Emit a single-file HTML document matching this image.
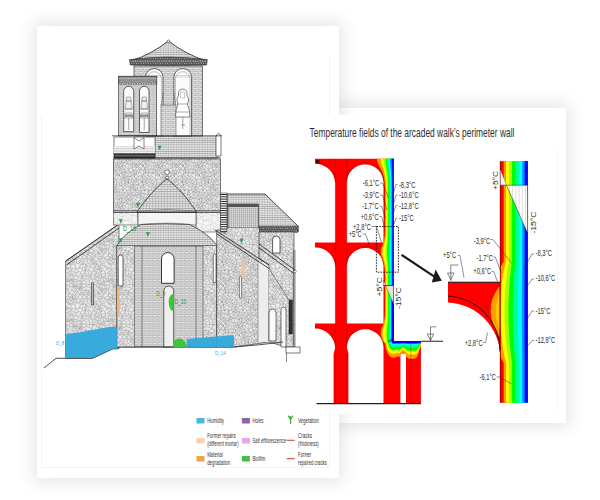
<!DOCTYPE html>
<html><head><meta charset="utf-8">
<style>
html,body{margin:0;padding:0;background:#fff;width:600px;height:500px;overflow:hidden;}
body{position:relative;font-family:"Liberation Sans",sans-serif;}
.pg{position:absolute;background:#fff;}
#rshadow{left:339px;top:108px;width:227px;height:315px;box-shadow:0 0 16px 4px rgba(0,0,0,0.10);}
#lpage{left:37px;top:26px;width:302px;height:452px;box-shadow:0 0 16px 4px rgba(0,0,0,0.10);}
#rpage{left:300px;top:115px;width:266px;height:299px;}
svg{position:absolute;left:0;top:0;font-family:"Liberation Sans",sans-serif;}
</style></head><body>
<div class="pg" id="rshadow"></div>
<div class="pg" id="lpage"></div>
<div class="pg" id="rpage"></div>
<svg width="600" height="500" viewBox="0 0 600 500">
<defs>
<pattern id="pStone1" patternUnits="userSpaceOnUse" width="40" height="40"><rect width="40" height="40" fill="#eaeaea"/><path d="M-0.8 -1.1L1.2 -1.7M-0.8 -1.1L-1.1 -1.0M-1.1 -1.0L-0.2 1.4M1.2 -1.7L1.9 -1.6M-0.2 1.4L1.3 2.0M1.3 2.0L1.9 -1.4M1.9 -1.6L1.9 -1.4M2.0 -1.6L3.7 -1.7M2.0 -1.6L1.9 -1.6M3.7 -1.7L4.6 -1.2M4.9 2.5L3.5 2.4M4.9 2.5L4.9 -0.3M3.5 2.4L1.9 -1.4M4.9 -0.3L4.6 -1.2M1.2 38.3L1.9 38.4M1.2 38.3L-0.8 38.9M1.9 38.6L1.3 42.0M1.9 38.6L1.9 38.4M-1.1 39.0L-0.8 38.9M-1.1 39.0L-0.2 41.4M1.3 42.0L-0.2 41.4M27.1 34.6L25.1 33.9M27.1 34.6L28.3 29.7M28.3 29.7L28.2 29.5M28.2 29.5L25.4 30.1M25.4 30.1L25.0 33.9M25.1 33.9L25.0 33.9M1.2 38.3L0.9 37.2M1.9 38.4L2.0 38.4M1.4 34.6L0.5 34.9M1.4 34.6L2.6 35.6M2.6 35.6L2.0 38.4M0.9 37.2L0.5 34.9M-0.8 38.9L-1.2 35.7M0.9 37.2L-1.2 35.7M0.5 34.9L-0.8 34.1M-1.2 35.7L-1.6 34.5M-0.8 34.1L-1.6 34.5M-2.1 39.1L-1.1 39.0M-2.1 34.6L-1.6 34.5M1.4 34.6L2.4 33.4M-0.4 32.0L-0.8 34.1M-0.4 32.0L1.5 32.8M2.4 33.4L1.5 32.8M-0.6 2.5L-2.8 2.3M-0.6 2.5L-0.2 1.4M-1.1 -1.0L-2.1 -0.9M21.3 16.1L19.8 16.0M21.3 16.1L20.5 19.9M18.1 16.8L19.8 16.0M18.1 16.8L19.2 19.8M20.5 19.9L19.2 19.8M11.0 4.4L12.1 3.6M11.0 4.4L11.9 6.4M12.1 3.6L15.0 5.3M11.9 6.4L14.7 5.8M14.7 5.8L15.0 5.3M11.9 6.4L12.0 7.7M12.0 7.7L15.1 6.8M14.7 5.8L15.1 6.8M8.0 -1.3L5.1 -1.3M4.6 -1.2L5.1 -1.3M10.4 1.1L8.4 0.8M10.4 1.1L10.8 0.2M10.8 0.2L8.5 -0.4M8.5 -0.4L8.4 0.8M4.9 -0.3L6.4 0.4M8.2 -1.2L8.2 -1.1M8.2 -1.2L8.0 -1.3M8.2 -1.1L6.4 0.4M19.9 9.2L19.0 12.2M19.9 9.2L20.8 8.4M20.9 8.6L20.7 12.6M20.9 8.6L20.8 8.4M20.7 12.6L19.0 12.2M20.8 8.4L20.8 8.4M16.5 10.5L19.9 9.2M16.5 10.5L18.7 12.4M18.7 12.4L19.0 12.2M25.1 26.8L27.8 24.8M25.1 26.8L25.1 29.8M28.2 29.5L28.7 26.1M25.1 29.8L25.4 30.1M27.8 24.8L28.2 25.1M28.7 26.1L28.2 25.1M35.8 11.5L35.5 10.1M35.8 11.5L32.6 12.6M35.5 10.1L33.9 9.6M33.9 9.6L32.6 12.6M33.7 26.7L33.0 25.8M33.7 26.7L33.7 27.0M30.8 26.9L33.0 25.8M30.8 26.9L32.0 29.4M33.7 27.0L32.0 29.4M39.2 15.9L35.9 19.9M39.2 15.9L39.2 15.5M39.2 15.5L35.7 15.2M35.7 15.2L34.8 19.0M35.9 19.9L34.8 19.0M36.0 20.1L40.4 19.6M36.0 20.1L35.9 19.9M40.6 17.1L40.4 19.6M40.6 17.1L39.2 15.9M20.1 -1.1L23.6 -2.1M20.1 -1.1L20.1 -0.3M20.1 -0.3L21.8 -0.2M21.8 -0.2L23.5 -1.2M23.5 -1.2L23.6 -2.1M20.0 -1.9L20.1 -1.1M18.6 1.1L21.1 4.2M18.6 1.1L19.6 0.5M19.6 0.5L21.4 2.3M21.4 2.3L21.7 4.3M21.7 4.3L21.1 4.2M18.0 1.3L18.6 1.1M18.0 1.3L15.7 -0.4M16.9 -3.0L15.6 -0.6M15.7 -0.4L15.6 -0.6M20.1 -0.3L19.6 0.5M23.0 1.1L23.0 1.5M23.0 1.1L21.8 -0.2M23.0 1.5L21.4 2.3M10.2 4.2L8.3 4.1M10.2 4.2L11.0 4.4M12.0 7.7L12.0 8.1M12.0 8.1L8.6 9.1M8.6 9.1L8.3 8.6M8.3 8.6L8.3 4.1M4.9 2.5L6.8 3.9M6.4 0.4L7.5 3.8M6.8 3.9L7.5 3.8M10.4 1.1L10.2 4.2M8.4 0.8L7.6 3.8M8.3 4.1L7.6 3.8M8.5 -0.4L8.2 -1.1M7.5 3.8L7.6 3.8M-0.8 15.9L-0.8 15.5M18.0 16.8L16.2 14.7M18.0 16.8L18.1 16.8M18.3 13.6L19.8 16.0M18.3 13.6L16.7 13.6M16.2 14.7L16.7 13.6M16.5 10.5L16.3 10.5M18.3 13.6L18.7 12.4M16.3 10.5L16.4 13.2M16.7 13.6L16.4 13.2M12.0 8.1L13.2 9.9M8.6 9.1L8.4 10.0M8.7 10.6L8.4 10.0M8.7 10.6L10.7 11.9M10.7 11.9L13.2 9.9M15.1 6.8L16.3 7.6M16.3 7.6L15.3 10.0M15.3 10.0L13.9 10.2M13.2 9.9L13.9 10.2M10.6 25.8L8.9 26.7M10.6 25.8L12.6 27.4M8.9 26.7L9.4 27.5M12.6 27.4L12.6 27.5M12.6 27.5L10.9 28.3M9.4 27.5L10.9 28.3M12.2 30.5L10.7 30.5M12.2 30.5L13.1 28.7M12.9 27.6L12.6 27.5M12.9 27.6L13.2 27.9M13.1 28.7L13.2 27.9M10.9 28.3L10.7 30.5M-3.3 21.6L-0.5 22.8M-3.3 23.2L-0.4 25.2M-0.5 22.8L-0.4 25.2M2.7 29.3L0.1 29.7M2.7 29.3L1.9 25.6M0.1 29.7L-1.3 28.6M1.9 25.6L1.3 25.3M-1.3 28.6L-1.5 27.2M-1.5 27.2L-0.2 25.5M1.3 25.3L-0.2 25.5M-0.4 25.2L-0.2 25.5M11.8 17.9L10.3 16.7M11.8 17.9L14.2 16.9M14.2 16.9L14.3 15.2M10.5 16.4L10.3 16.7M10.5 16.4L14.0 14.8M14.0 14.8L14.3 15.1M14.3 15.2L14.3 15.1M16.2 18.3L14.2 16.9M16.2 18.3L18.0 16.8M16.2 14.7L14.3 15.2M15.4 13.2L16.4 13.2M15.4 13.2L14.3 15.1M8.5 19.7L8.8 22.8M8.5 19.7L11.3 20.1M8.8 22.8L10.2 22.8M11.3 20.1L11.5 21.5M10.2 22.8L11.5 21.5M10.6 25.8L11.1 24.5M7.8 26.3L7.8 25.2M7.8 26.3L8.9 26.7M8.8 22.8L8.8 22.8M10.2 22.8L11.1 24.5M7.8 25.2L8.8 22.8M-2.0 5.2L-1.7 4.7M-2.1 4.4L-1.7 4.7M-0.4 31.8L-3.2 31.3M-0.4 31.8L-0.4 31.8M0.1 29.7L-0.4 31.8M-1.3 28.6L-2.5 29.2M2.7 29.3L2.9 29.3M-0.4 32.0L-0.4 31.8M1.5 32.8L2.9 29.3M4.5 36.2L3.4 34.9M4.5 36.2L5.5 34.5M5.5 34.5L4.0 33.0M3.4 34.9L3.6 33.2M3.6 33.2L3.9 32.9M4.0 33.0L3.9 32.9M2.6 35.6L3.4 34.9M2.4 33.4L3.6 33.2M2.9 29.3L3.4 29.5M3.4 29.5L3.9 32.9M-0.2 41.4L-0.6 42.5M-0.6 2.5L0.2 3.8M-1.3 4.8L0.0 4.2M-1.3 4.8L-1.7 4.7M0.2 3.8L0.0 4.2M1.3 2.0L1.7 3.0M0.2 3.8L1.7 3.0M3.5 2.4L2.2 3.0M1.7 3.0L2.2 3.0M15.6 -0.6L13.0 -1.6M8.8 -1.6L11.7 -0.2M8.8 -1.6L9.8 -2.2M9.8 -2.2L12.5 -1.2M12.5 -1.2L12.0 -0.2M11.7 -0.2L12.0 -0.2M10.8 0.2L11.7 -0.2M8.2 -1.2L8.8 -1.6M13.0 -1.6L12.5 -1.2M15.7 -0.4L13.9 2.3M13.9 2.3L12.7 2.8M12.7 2.8L12.0 -0.2M12.4 3.2L12.7 2.8M12.4 3.2L12.1 3.6M18.0 1.3L17.8 2.4M17.8 2.4L18.9 3.8M21.1 4.2L19.5 4.3M19.5 4.3L18.9 3.8M22.6 6.5L22.8 5.3M22.6 6.5L20.8 8.4M22.8 5.3L21.7 4.3M20.8 8.4L18.9 7.1M19.5 4.3L18.9 7.1M12.4 3.2L15.3 4.4M13.9 2.3L16.6 3.4M15.3 4.4L16.6 3.4M15.0 5.3L15.1 5.3M15.3 4.4L15.1 5.3M17.8 2.4L16.6 3.4M16.6 3.4L16.6 3.4M15.1 5.3L16.2 5.9M16.6 3.4L16.8 3.9M16.2 5.9L16.8 3.9M27.1 34.6L27.4 34.8M27.4 34.8L26.9 37.5M26.9 37.5L25.9 38.1M23.6 37.1L25.1 33.9M23.6 37.1L23.7 37.3M23.7 37.3L25.9 38.1M17.8 42.4L18.0 41.3M18.0 41.3L18.6 41.1M18.6 41.1L19.6 40.5M19.6 40.5L21.4 42.3M21.4 42.3L23.0 41.5M24.1 42.7L24.3 40.0M24.3 40.0L23.0 41.1M23.0 41.5L23.0 41.1M36.2 24.7L34.0 24.5M36.2 24.7L36.7 23.2M34.0 24.5L35.0 21.5M36.7 23.2L36.7 21.6M36.7 21.6L36.0 20.2M36.0 20.2L35.0 21.5M39.8 25.5L39.6 25.2M39.8 25.5L38.5 27.2M38.5 27.2L36.4 26.0M36.4 26.0L36.2 24.7M39.6 25.2L36.7 23.2M39.5 22.8L39.6 25.2M39.5 22.8L36.7 21.6M31.3 22.9L29.7 24.4M31.3 22.9L32.4 23.4M29.7 24.4L33.0 25.5M32.4 23.4L33.2 24.9M33.2 24.9L33.0 25.5M27.8 24.8L27.2 23.6M27.2 23.6L27.8 22.5M28.2 25.1L29.7 24.4M27.8 22.5L31.2 21.8M31.2 21.8L31.3 22.9M28.7 26.1L30.8 26.9M33.0 25.8L33.0 25.5M34.0 24.5L33.2 24.9M35.0 21.5L32.4 23.4M25.7 0.2L24.3 -0.0M25.7 0.2L25.8 0.3M25.8 0.3L25.2 3.6M24.3 -0.0L24.1 2.7M24.3 -0.0L24.3 -0.0M24.1 2.7L25.0 3.8M25.0 3.8L25.1 3.7M25.1 3.7L25.2 3.6M25.9 -1.9L25.7 0.2M23.5 -1.2L24.3 -0.0M26.9 -2.5L27.9 -1.4M28.3 0.3L25.8 0.3M28.3 0.3L28.4 0.2M27.9 -1.4L28.4 0.2M28.3 0.3L28.3 0.4M28.3 0.4L25.2 3.6M23.0 1.1L24.3 -0.0M23.0 1.5L24.1 2.7M22.8 5.3L25.0 3.8M18.0 41.3L15.7 39.6M15.7 39.6L13.9 42.3M21.2 21.3L20.5 19.9M21.2 21.3L21.3 22.5M19.2 19.8L18.5 20.1M18.5 20.1L18.0 21.9M18.0 21.9L19.1 24.1M19.1 24.1L21.3 22.5M24.3 22.3L22.5 22.8M24.3 22.3L25.5 22.3M27.0 23.6L25.5 22.3M27.0 23.6L23.4 25.1M22.5 22.8L23.4 25.1M24.3 22.3L23.6 19.9M21.2 21.3L22.6 20.2M23.6 19.9L22.6 20.2M22.5 22.8L21.3 22.5M24.6 33.8L22.6 34.0M24.6 33.8L21.6 31.0M21.6 31.0L21.3 33.4M22.6 34.0L21.3 33.4M17.5 21.6L18.0 21.9M17.5 21.6L16.0 21.7M16.0 21.7L15.4 22.9M19.1 24.1L18.9 24.4M18.9 24.4L17.6 24.8M15.4 22.9L16.6 24.8M17.6 24.8L16.6 24.8M33.7 26.7L35.9 26.3M33.7 27.0L35.0 28.7M35.0 28.7L35.9 26.3M36.4 26.0L36.1 26.2M35.9 26.3L36.1 26.2M34.8 19.0L32.1 16.1M34.8 19.0L31.2 20.2M32.1 16.1L30.1 18.9M31.2 20.2L30.1 19.7M30.1 18.9L30.1 19.7M36.0 20.1L36.0 20.2M34.8 19.0L34.8 19.0M31.2 21.8L31.2 20.2M29.4 16.3L30.1 18.9M29.4 16.3L31.7 15.6M31.7 15.6L32.1 16.1M40.4 19.6L41.5 20.3M39.5 22.8L41.5 22.0M41.5 22.0L41.9 20.6M41.5 20.3L41.9 20.6M28.3 0.4L28.4 1.3M25.1 3.7L26.1 4.1M26.1 4.1L28.4 1.3M32.6 -1.4L33.7 -1.7M-0.2 14.0L-0.6 14.8M-0.2 14.0L-3.0 12.7M-0.6 14.8L-3.2 13.8M-0.8 15.5L-0.6 14.8M1.7 16.8L0.6 17.1M1.7 16.8L2.6 17.3M2.6 17.3L1.5 20.3M0.6 17.1L0.4 19.6M0.4 19.6L1.5 20.3M-4.0 20.1L0.4 19.6M-0.8 15.9L0.6 17.1M13.8 14.6L14.3 12.6M13.8 14.6L12.4 13.9M12.4 13.9L13.9 10.3M14.3 12.6L13.9 10.3M15.4 13.2L14.3 12.6M14.0 14.8L13.8 14.6M11.3 13.9L10.5 16.4M11.3 13.9L12.4 13.9M10.7 11.9L10.6 12.8M13.9 10.2L13.9 10.3M11.3 13.9L10.6 12.8M16.3 10.5L15.3 10.0M15.8 20.5L13.8 21.7M15.8 20.5L16.2 19.4M16.2 19.4L16.2 18.7M14.0 19.8L13.7 21.6M14.0 19.8L16.2 18.6M16.2 18.6L16.2 18.7M13.7 21.6L13.8 21.7M16.0 21.7L15.8 20.5M15.4 22.9L14.2 22.2M14.2 22.2L13.8 21.7M17.5 21.6L16.2 19.4M18.5 20.1L16.2 18.7M11.8 18.5L11.3 20.1M11.8 18.5L14.0 19.8M11.5 21.5L11.7 21.6M11.7 21.6L13.7 21.6M16.2 18.3L16.2 18.6M11.8 18.5L11.8 17.9M8.5 19.7L8.3 19.6M10.3 16.7L8.4 16.7M8.3 19.6L8.1 17.6M8.4 16.7L8.1 17.6M3.7 19.6L2.9 17.3M3.7 19.6L3.1 20.4M2.9 17.3L2.6 17.3M1.5 20.3L1.9 20.6M3.1 20.4L1.9 20.6M-0.5 22.8L1.5 22.0M1.9 20.6L1.5 22.0M1.3 25.3L1.6 22.3M1.5 22.0L1.6 22.3M8.3 19.6L6.8 20.4M5.8 19.4L6.1 20.3M5.8 19.4L7.1 18.1M7.1 18.1L8.1 17.6M6.8 20.4L6.1 20.3M0.0 4.2L1.5 6.2M2.2 3.0L2.5 4.1M1.5 6.2L2.5 4.1M22.5 16.5L24.2 19.3M22.5 16.5L22.1 15.8M22.1 15.8L22.8 15.0M25.0 19.4L24.8 15.9M25.0 19.4L24.2 19.3M22.8 15.0L23.3 14.8M23.3 14.8L24.8 15.9M23.6 19.9L24.2 19.3M22.6 20.2L22.5 16.5M21.3 16.1L22.1 15.8M20.7 12.6L22.8 15.0M25.5 22.3L25.6 21.3M25.6 19.6L25.6 21.3M25.6 19.6L25.0 19.4M27.0 18.1L25.3 16.1M27.0 18.1L29.1 16.2M25.3 16.1L28.4 15.2M29.1 16.2L28.4 15.2M32.3 13.0L31.7 15.6M32.3 13.0L31.0 12.8M29.4 16.3L29.1 16.2M28.4 15.2L28.4 14.4M28.4 14.4L31.0 12.8M20.9 8.6L23.1 10.5M23.3 14.8L23.8 14.0M23.8 14.0L23.1 10.5M22.6 6.5L24.7 7.7M24.7 7.7L24.7 7.9M24.7 7.9L23.7 10.3M23.1 10.5L23.7 10.3M24.7 7.9L25.0 10.0M23.7 10.3L25.0 10.0M17.9 5.5L18.8 7.0M17.9 5.5L17.6 5.3M17.6 5.3L16.3 6.1M18.8 7.0L16.5 7.4M16.5 7.4L16.3 6.1M18.9 3.8L17.9 5.5M18.9 7.1L18.8 7.0M16.8 3.9L17.6 5.3M16.2 5.9L16.3 6.1M16.3 7.6L16.5 7.4M21.8 39.8L20.1 39.7M21.8 39.8L23.5 38.8M23.6 37.9L23.5 38.8M23.6 37.9L20.1 38.9M20.1 38.9L20.1 39.7M19.6 40.5L20.1 39.7M23.0 41.1L21.8 39.8M24.3 40.0L24.3 40.0M24.3 40.0L23.5 38.8M23.7 37.3L23.6 37.9M25.9 38.1L25.7 40.2M25.7 40.2L24.3 40.0M15.7 39.6L15.6 39.4M16.9 37.0L15.6 39.4M16.9 37.0L17.2 37.0M17.2 37.0L20.0 38.1M20.0 38.1L20.1 38.9M27.3 20.4L26.6 18.9M27.3 20.4L28.2 21.5M29.7 19.8L28.2 21.5M29.7 19.8L27.0 18.3M27.0 18.3L26.6 18.9M25.6 19.6L26.6 18.9M25.6 21.3L27.3 20.4M27.0 23.6L27.2 23.6M27.8 22.5L28.2 21.5M30.1 19.7L29.7 19.8M27.0 18.1L27.0 18.3M24.8 15.9L25.3 16.1M42.0 6.6L41.9 6.5M41.8 10.1L41.5 8.6M39.6 10.7L39.6 10.8M39.6 10.7L39.9 9.0M40.0 8.7L39.9 9.0M40.0 8.7L40.9 8.4M39.6 10.8L41.8 10.1M40.9 8.4L41.5 8.6M39.8 7.4L40.0 8.7M39.8 7.4L40.3 6.8M40.9 8.4L41.2 6.6M40.3 6.8L41.2 6.6M41.9 6.5L41.5 6.4M41.2 6.6L41.5 6.4M42.5 4.1L41.5 6.2M41.5 6.2L41.5 6.4M42.2 3.0L41.7 3.0M40.0 4.2L41.5 6.2M40.0 4.2L40.2 3.8M41.7 3.0L40.2 3.8M29.6 -0.1L29.5 -2.8M29.6 -0.1L31.4 -0.3M31.4 -0.3L31.9 -1.0M28.4 0.2L29.5 -0.1M29.5 -0.1L29.6 -0.1M32.6 -1.4L31.9 -1.0M1.9 38.6L3.5 42.4M25.1 29.8L24.3 29.7M25.0 33.9L24.6 33.8M21.6 31.0L21.4 30.2M24.3 29.7L21.4 30.2M12.9 27.6L14.0 25.1M13.2 27.9L13.5 27.8M16.4 24.9L15.1 27.2M16.4 24.9L14.1 25.0M13.5 27.8L15.1 27.2M14.0 25.1L14.1 25.0M14.2 22.2L13.2 24.0M16.6 24.8L16.4 24.9M14.1 25.0L13.2 24.0M11.7 21.6L13.1 24.0M11.1 24.5L11.6 24.5M11.6 24.5L13.1 24.0M13.1 24.0L13.2 24.0M15.4 34.2L14.4 36.4M15.4 34.2L15.5 34.1M16.4 36.3L14.4 36.4M16.4 36.3L16.1 35.0M15.5 34.1L16.1 35.0M20.5 33.4L20.9 33.4M20.5 33.4L18.5 32.6M20.9 33.4L20.0 30.4M18.5 32.6L18.4 32.5M18.4 32.5L18.8 30.9M18.8 30.9L20.0 30.4M20.9 33.4L21.1 33.5M21.1 33.5L21.3 33.4M21.4 30.2L20.8 29.9M20.0 30.4L20.8 29.9M25.7 40.2L25.8 40.3M25.8 40.3L25.2 43.6M35.0 28.7L35.0 28.8M36.1 26.2L35.8 28.8M35.0 28.8L35.8 28.8M31.6 36.5L29.7 36.2M31.6 36.5L32.6 38.6M31.9 39.0L32.6 38.6M31.9 39.0L29.7 36.8M29.7 36.8L29.7 36.2M33.7 34.5L33.6 34.4M33.7 34.5L33.7 38.3M33.6 34.4L31.6 36.5M33.7 38.3L32.6 38.6M28.3 29.7L28.7 29.9M27.4 34.8L28.2 34.8M28.7 29.9L28.2 34.8M26.9 37.5L27.9 38.6M29.5 37.2L27.9 38.6M29.5 37.2L29.7 36.8M29.7 36.2L29.0 34.8M28.2 34.8L29.0 34.8M40.9 37.2L41.2 38.3M40.9 37.2L38.8 35.7M41.2 38.3L39.2 38.9M38.8 35.7L39.2 38.9M41.9 38.6L41.9 38.4M41.9 38.6L41.3 42.0M41.9 38.4L41.2 38.3M41.3 42.0L39.8 41.4M38.9 39.0L39.8 41.4M38.9 39.0L39.2 38.9M39.8 41.4L39.4 42.5M36.8 13.8L37.0 12.7M36.8 13.8L35.6 15.0M34.0 13.4L35.6 15.0M34.0 13.4L36.3 12.3M36.3 12.3L36.9 12.4M36.9 12.4L37.0 12.7M39.4 14.8L36.8 13.8M39.4 14.8L39.8 14.0M39.8 14.0L37.0 12.7M39.2 15.5L39.4 14.8M35.7 15.2L35.6 15.0M32.5 12.8L32.3 13.0M32.5 12.8L34.0 13.4M35.8 11.5L36.3 12.3M32.5 12.8L32.5 12.8M32.6 12.6L32.5 12.8M35.5 10.1L37.6 9.8M37.6 9.8L38.3 10.5M38.3 10.5L36.9 12.4M38.3 10.5L39.6 10.7M39.8 14.0L40.4 13.4M40.4 13.4L39.6 10.8M40.4 13.4L41.8 13.6M41.6 22.3L41.3 25.3M41.9 25.6L41.3 25.3M41.5 22.0L41.6 22.3M39.8 25.5L41.3 25.3M35.8 -1.2L37.4 -1.2M35.0 -1.1L35.8 -1.2M35.0 -1.1L33.7 -1.7M24.7 7.7L25.6 7.8M25.7 10.2L25.0 10.0M25.7 10.2L26.8 9.6M25.6 7.8L26.8 9.6M29.5 -0.1L30.3 2.1M28.4 1.3L29.2 2.6M29.2 2.6L30.3 2.1M31.4 -0.3L32.2 2.0M30.3 2.1L32.2 2.0M35.0 -1.1L34.1 2.8M33.8 2.9L34.1 2.8M33.8 2.9L32.7 2.7M32.2 2.0L32.7 2.7M37.2 2.3L36.9 2.7M37.2 2.3L37.9 -0.9M37.9 -0.9L37.4 -1.2M34.1 2.8L35.1 3.1M36.9 2.7L35.1 3.1M8.7 10.6L8.1 11.9M10.6 12.8L9.6 13.2M8.1 11.9L9.6 13.2M4.4 9.2L2.8 10.2M4.4 9.2L5.7 10.8M5.6 12.3L5.7 10.8M5.6 12.3L2.9 12.2M2.9 12.2L2.8 10.2M0.4 13.4L1.8 13.6M0.4 13.4L-0.4 10.8M1.8 13.6L2.9 12.2M-0.4 10.8L1.8 10.1M1.8 10.1L2.8 10.2M9.4 27.5L8.8 30.3M10.7 30.5L10.4 30.6M10.4 30.6L8.8 30.3M13.5 31.9L12.2 30.5M13.5 31.9L13.2 32.3M13.2 32.3L11.3 32.6M11.3 32.6L10.5 31.5M10.4 30.6L10.5 31.5M8.4 16.7L8.2 16.5M9.6 13.2L8.1 14.2M8.2 16.5L8.1 14.2M8.1 11.9L7.3 13.2M8.1 14.2L7.3 13.2M8.4 10.0L5.7 10.8M5.6 12.3L5.7 12.7M7.3 13.2L5.7 12.7M3.8 17.0L4.2 19.2M3.8 17.0L5.0 17.5M5.0 17.5L5.1 18.2M5.1 18.2L4.7 19.0M4.7 19.0L4.2 19.2M3.7 19.6L4.2 19.2M3.6 16.9L3.8 17.0M3.6 16.9L2.9 17.3M5.8 19.4L4.7 19.0M7.1 18.1L5.1 18.2M3.1 20.4L4.8 21.5M6.1 20.3L4.8 21.5M5.8 27.7L7.8 26.3M5.8 27.7L4.9 26.0M7.8 25.2L6.2 24.3M6.2 24.3L4.9 26.0M1.9 25.6L3.8 24.9M1.6 22.3L4.1 23.9M4.1 23.9L3.8 24.9M5.8 27.7L5.4 28.6M5.4 28.6L3.4 29.5M4.9 26.0L3.8 24.9M7.6 22.5L5.8 23.8M7.6 22.5L7.1 22.2M7.1 22.2L5.0 22.0M5.0 22.0L4.7 23.4M5.8 23.8L4.7 23.4M8.8 22.8L7.6 22.5M6.2 24.3L5.8 23.8M6.8 20.4L7.1 22.2M4.8 21.5L5.0 22.0M4.1 23.9L4.7 23.4M1.5 6.2L1.5 6.4M3.1 4.6L2.5 4.1M3.1 4.6L1.9 6.5M1.5 6.4L1.9 6.5M27.7 13.8L28.8 11.3M27.7 13.8L25.2 13.3M25.5 12.7L25.2 13.3M25.5 12.7L28.5 10.7M28.5 10.7L28.8 11.3M28.4 14.4L27.7 13.8M31.0 12.8L28.8 11.3M23.8 14.0L25.2 13.3M25.7 10.2L25.5 12.7M28.4 9.8L26.8 9.6M28.4 9.8L28.5 10.7M18.7 34.8L18.7 35.1M18.7 34.8L19.9 34.7M18.7 35.1L20.7 36.9M19.9 34.7L20.7 35.3M20.7 35.3L21.1 36.2M21.1 36.2L21.1 36.6M21.1 36.6L20.7 36.9M16.4 36.3L16.9 37.0M17.2 37.0L18.7 35.1M18.4 34.2L16.1 35.0M18.4 34.2L18.7 34.8M20.5 33.4L19.9 34.7M18.5 32.6L18.4 34.2M20.0 38.1L20.7 36.9M21.1 33.5L20.7 35.3M22.6 34.0L21.1 36.2M23.6 37.1L21.1 36.6M39.8 1.4L41.3 2.0M39.8 1.4L38.9 -1.0M41.3 2.0L41.9 -1.4M39.2 -1.1L38.9 -1.0M39.2 -1.1L41.2 -1.7M41.2 -1.7L41.9 -1.6M41.9 -1.6L41.9 -1.4M39.4 2.5L40.2 3.8M39.4 2.5L39.8 1.4M41.7 3.0L41.3 2.0M37.2 2.3L39.4 2.5M37.9 -0.9L38.9 -1.0M42.0 -1.6L41.9 -1.6M18.9 24.4L19.7 25.4M23.4 25.1L23.4 25.1M19.7 25.4L23.4 25.1M17.6 24.8L17.4 28.5M17.4 28.5L20.6 27.7M20.6 27.7L20.7 27.2M19.7 25.4L20.7 27.2M12.5 26.4L13.3 25.3M12.5 26.4L12.4 25.4M12.4 25.4L13.3 25.3M12.6 27.4L12.5 26.4M14.0 25.1L13.3 25.3M11.6 24.5L12.4 25.4M18.4 32.5L16.9 32.8M15.5 34.1L15.6 33.6M15.6 33.6L16.9 32.8M15.1 27.2L16.1 28.5M17.4 28.5L17.3 28.6M16.1 28.5L17.3 28.6M18.8 30.9L17.8 30.2M20.6 27.7L20.8 29.9M17.3 28.6L17.8 30.2M28.4 41.3L28.3 40.4M25.8 40.3L28.3 40.3M28.3 40.4L28.3 40.3M27.9 38.6L28.4 40.2M28.4 40.2L28.3 40.3M34.1 42.8L35.0 38.9M37.2 42.3L37.9 39.1M37.9 39.1L37.4 38.8M37.4 38.8L35.8 38.8M35.0 38.9L35.8 38.8M38.9 39.0L37.9 39.1M38.4 34.5L37.9 34.6M38.4 34.5L38.8 35.7M37.9 34.6L37.2 35.7M37.2 35.7L37.4 38.8M35.4 35.6L37.2 35.7M35.4 35.6L35.8 38.8M33.7 34.5L35.4 35.6M33.7 38.3L35.0 38.9M33.6 34.4L33.3 33.2M37.9 34.6L35.9 33.0M35.9 33.0L33.3 33.2M35.0 28.8L33.2 31.0M36.5 29.1L35.8 28.8M36.5 29.1L35.4 30.6M35.4 30.6L33.2 31.0M38.5 27.2L38.7 28.6M42.7 29.3L40.1 29.7M40.1 29.7L38.7 28.6M36.5 29.1L37.5 29.2M35.4 30.6L36.7 30.9M36.7 30.9L37.5 29.2M38.7 28.6L37.5 29.2M39.2 34.1L39.6 32.0M39.2 34.1L40.5 34.9M39.6 32.0L41.5 32.8M40.5 34.9L41.4 34.6M41.4 34.6L42.4 33.4M42.4 33.4L41.5 32.8M38.4 34.5L39.2 34.1M40.9 37.2L40.5 34.9M41.9 38.4L42.0 38.4M42.6 35.6L41.4 34.6M40.6 17.1L41.7 16.8M29.2 2.6L29.1 5.2M32.7 2.7L29.9 5.3M29.1 5.2L29.9 5.3M32.5 12.8L30.3 9.2M28.4 9.8L28.4 9.7M28.4 9.7L30.3 9.2M33.8 9.3L33.9 9.6M33.8 9.3L31.0 8.5M31.0 8.5L30.3 9.2M40.0 4.2L38.7 4.8M40.3 6.8L39.1 5.7M38.7 4.8L39.1 5.7M39.8 7.4L38.6 7.4M39.1 5.7L38.6 7.4M39.9 9.0L38.1 7.6M38.6 7.4L38.1 7.6M33.8 9.3L34.2 7.9M30.8 6.1L31.0 8.5M30.8 6.1L33.4 6.3M34.2 7.9L33.4 6.3M33.8 2.9L33.4 6.3M29.9 5.3L30.8 6.1M33.4 6.3L33.4 6.3M-2.0 5.2L-2.0 7.6M0.4 13.4L-0.2 14.0M-0.4 10.8L-0.4 10.7M-1.7 10.5L-0.4 10.7M5.3 32.6L7.8 32.8M5.3 32.6L7.0 30.1M7.8 32.8L7.9 30.6M7.0 30.1L7.9 30.6M5.4 28.6L7.0 30.1M4.0 33.0L5.3 32.6M8.8 30.3L7.9 30.6M8.2 16.5L7.8 16.4M5.0 17.5L5.9 16.6M5.9 16.6L7.8 16.4M3.7 16.6L4.8 16.0M3.7 16.6L3.6 16.9M5.9 16.6L4.8 16.0M5.7 12.7L5.2 14.5M5.7 12.7L2.5 14.2M2.9 14.7L4.9 14.8M2.9 14.7L2.5 14.4M4.9 14.8L5.2 14.5M2.5 14.2L2.5 14.4M5.7 12.7L5.7 12.7M7.8 16.4L5.2 14.5M1.8 13.6L2.5 14.2M3.7 16.6L2.9 14.7M4.8 16.0L4.9 14.8M1.7 16.8L2.5 14.4M15.6 39.4L13.0 38.4M14.4 36.4L13.0 36.6M13.0 38.4L13.0 36.6M15.4 34.2L12.4 35.3M13.0 36.6L12.4 35.3M13.5 31.9L13.9 31.8M13.2 32.3L12.3 35.2M15.6 33.6L13.9 31.8M12.4 35.3L12.3 35.2M10.9 33.8L9.7 32.9M10.9 33.8L10.9 33.8M10.9 33.8L8.4 35.0M9.7 32.9L8.0 33.3M8.0 33.3L7.8 34.8M7.8 34.8L8.4 35.0M11.3 32.6L10.9 33.8M10.5 31.5L9.7 32.9M12.3 35.2L12.3 35.2M12.3 35.2L10.9 33.8M10.0 36.1L12.3 35.2M10.0 36.1L8.4 35.0M7.8 32.8L8.0 33.3M5.5 34.5L7.6 34.9M7.6 34.9L7.8 34.8M2.0 38.4L3.7 38.3M4.5 36.2L4.5 36.8M4.5 36.8L3.7 38.3M7.6 34.9L7.2 36.1M7.2 36.1L7.0 36.2M4.5 36.8L7.0 36.2M2.0 6.6L2.5 7.6M2.0 6.6L4.5 5.5M2.5 7.6L4.4 9.0M4.5 5.5L5.5 5.5M5.5 5.5L5.3 7.7M5.3 7.7L4.4 9.0M3.1 4.6L4.5 5.5M1.9 6.5L2.0 6.6M1.8 10.1L1.5 8.6M4.4 9.2L4.4 9.0M1.5 8.6L2.5 7.6M6.8 3.9L5.5 5.5M8.3 8.6L5.3 7.7M-1.3 4.8L-0.9 5.7M-0.9 5.7L0.3 6.8M1.5 6.4L1.2 6.6M0.3 6.8L1.2 6.6M1.5 8.6L0.9 8.4M1.2 6.6L0.9 8.4M23.1 27.9L20.9 27.2M23.1 27.9L24.1 26.4M20.9 27.2L23.5 26.0M24.1 26.4L23.5 26.0M24.3 29.7L23.1 27.9M20.7 27.2L20.9 27.2M25.1 26.8L24.1 26.4M23.4 25.1L23.5 26.0M14.9 29.2L15.8 28.9M14.9 29.2L14.7 30.5M15.8 28.9L15.9 30.6M14.7 30.5L14.8 30.9M14.8 30.9L15.6 30.8M15.6 30.8L15.9 30.6M13.5 27.8L14.9 29.2M16.1 28.5L15.8 28.9M13.1 28.7L14.7 30.5M17.8 30.2L15.9 30.6M13.9 31.8L14.8 30.9M16.9 32.8L15.6 30.8M28.4 41.3L29.2 42.6M29.1 34.8L29.4 30.2M29.1 34.8L33.0 32.8M33.0 32.8L32.7 31.4M32.7 31.4L32.0 30.6M32.0 30.6L29.4 30.2M28.7 29.9L29.4 30.2M29.0 34.8L29.1 34.8M33.3 33.2L33.0 32.8M32.0 29.4L32.0 30.6M33.2 31.0L32.7 31.4M39.6 31.8L36.0 32.9M39.6 31.8L39.6 31.8M39.6 31.8L36.8 31.3M36.0 32.9L36.8 31.3M35.9 33.0L36.0 32.9M39.6 32.0L39.6 31.8M40.1 29.7L39.6 31.8M36.7 30.9L36.8 31.3M26.2 4.2L28.7 5.3M26.2 4.2L25.7 7.6M28.7 5.3L28.1 6.7M25.7 7.6L28.1 6.7M26.1 4.1L26.2 4.2M29.1 5.2L28.7 5.3M25.6 7.8L25.7 7.6M28.4 9.7L28.1 6.7M36.9 2.7L37.9 4.4M35.1 3.1L35.7 5.2M37.9 4.4L35.7 5.2M38.7 4.8L38.3 4.7M37.9 4.4L38.3 4.7M33.4 6.3L35.7 5.3M35.7 5.2L35.7 5.3M-1.4 7.4L-0.2 7.4M-1.4 7.4L-1.9 7.6M-1.9 7.6L-0.1 9.0M-0.2 7.4L0.0 8.7M-0.1 9.0L0.0 8.7M-0.9 5.7L-1.4 7.4M0.3 6.8L-0.2 7.4M-2.0 7.6L-1.9 7.6M-0.4 10.7L-0.1 9.0M0.9 8.4L0.0 8.7M8.0 38.7L5.1 38.7M8.0 38.7L8.2 38.8M8.2 38.8L8.2 38.9M8.2 38.9L6.4 40.4M6.4 40.4L4.9 39.7M4.9 39.7L4.6 38.8M4.6 38.8L5.1 38.7M7.2 36.1L8.0 38.7M7.0 36.2L5.1 38.7M4.9 42.5L4.9 39.7M3.7 38.3L4.6 38.8M32.2 42.0L31.4 39.7M30.3 42.1L29.5 39.9M31.4 39.7L29.6 39.9M29.6 39.9L29.5 39.9M31.9 39.0L31.4 39.7M28.4 40.2L29.5 39.9M29.5 37.2L29.6 39.9M38.0 5.2L36.3 6.2M38.0 5.2L38.0 7.6M37.5 8.0L38.0 7.6M37.5 8.0L36.2 7.2M36.2 7.2L36.3 6.2M38.3 4.7L38.0 5.2M35.7 5.3L36.3 6.2M38.1 7.6L38.0 7.6M37.6 9.8L37.5 8.0M34.2 7.9L36.2 7.2M8.4 40.8L8.5 39.6M8.4 40.8L10.4 41.1M8.5 39.6L10.8 40.2M10.4 41.1L10.8 40.2M8.2 38.9L8.5 39.6M9.8 37.8L12.5 38.8M9.8 37.8L8.8 38.4M8.8 38.4L11.7 39.8M12.5 38.8L12.0 39.8M12.0 39.8L11.7 39.8M10.0 36.1L9.8 37.8M13.0 38.4L12.5 38.8M8.2 38.8L8.8 38.4M10.8 40.2L11.7 39.8M12.7 42.8L12.0 39.8" stroke="#767676" stroke-width="0.34" fill="none"/><g fill="#767676"><rect x="29.7" y="39.6" width="0.9" height="0.9"/><rect x="30.1" y="36.6" width="0.9" height="0.9"/><rect x="22.1" y="5.8" width="0.8" height="0.8"/><rect x="15.8" y="12.5" width="0.7" height="0.7"/><rect x="1.4" y="0.7" width="0.5" height="0.5"/><rect x="23.8" y="30.0" width="0.9" height="0.9"/><rect x="32.7" y="37.6" width="0.7" height="0.7"/><rect x="29.4" y="23.5" width="0.4" height="0.4"/><rect x="2.5" y="30.4" width="0.5" height="0.5"/><rect x="31.6" y="18.6" width="0.4" height="0.4"/><rect x="22.5" y="17.7" width="0.4" height="0.4"/><rect x="10.4" y="12.3" width="0.6" height="0.6"/><rect x="28.3" y="6.7" width="0.6" height="0.6"/><rect x="24.3" y="37.9" width="0.5" height="0.5"/><rect x="3.2" y="7.7" width="0.5" height="0.5"/><rect x="6.5" y="3.0" width="0.5" height="0.5"/><rect x="8.9" y="19.2" width="0.7" height="0.7"/><rect x="14.6" y="6.7" width="0.4" height="0.4"/><rect x="10.5" y="6.8" width="0.6" height="0.6"/><rect x="34.8" y="28.7" width="0.5" height="0.5"/><rect x="1.4" y="2.7" width="0.6" height="0.6"/><rect x="14.5" y="27.3" width="0.4" height="0.4"/><rect x="10.2" y="27.4" width="0.7" height="0.7"/><rect x="20.7" y="36.1" width="0.5" height="0.5"/><rect x="7.8" y="22.6" width="0.7" height="0.7"/><rect x="39.2" y="39.1" width="0.7" height="0.7"/><rect x="30.4" y="27.9" width="0.5" height="0.5"/><rect x="24.1" y="12.2" width="0.6" height="0.6"/><rect x="6.3" y="0.3" width="0.8" height="0.8"/><rect x="28.7" y="30.1" width="0.5" height="0.5"/><rect x="16.7" y="7.0" width="0.7" height="0.7"/><rect x="33.6" y="31.2" width="0.9" height="0.9"/><rect x="10.4" y="28.1" width="0.5" height="0.5"/><rect x="21.5" y="4.4" width="0.7" height="0.7"/><rect x="21.7" y="13.9" width="0.6" height="0.6"/><rect x="28.4" y="19.2" width="0.6" height="0.6"/><rect x="4.5" y="11.3" width="0.8" height="0.8"/><rect x="38.9" y="14.9" width="0.8" height="0.8"/><rect x="34.9" y="8.7" width="0.5" height="0.5"/><rect x="27.8" y="12.2" width="0.9" height="0.9"/><rect x="14.6" y="29.2" width="0.8" height="0.8"/><rect x="8.5" y="34.6" width="0.6" height="0.6"/><rect x="4.4" y="2.0" width="0.6" height="0.6"/><rect x="25.3" y="10.9" width="0.8" height="0.8"/><rect x="10.7" y="33.9" width="0.4" height="0.4"/><rect x="10.5" y="6.4" width="0.6" height="0.6"/><rect x="14.0" y="15.8" width="0.8" height="0.8"/><rect x="23.2" y="24.2" width="0.6" height="0.6"/><rect x="32.3" y="20.1" width="0.8" height="0.8"/><rect x="36.6" y="24.5" width="0.6" height="0.6"/><rect x="10.5" y="36.5" width="0.8" height="0.8"/><rect x="32.0" y="8.9" width="0.6" height="0.6"/><rect x="35.3" y="9.8" width="0.8" height="0.8"/><rect x="21.5" y="8.8" width="0.6" height="0.6"/><rect x="3.0" y="26.9" width="0.8" height="0.8"/><rect x="1.2" y="12.1" width="0.8" height="0.8"/><rect x="8.0" y="21.5" width="0.8" height="0.8"/><rect x="22.8" y="4.9" width="0.9" height="0.9"/><rect x="29.9" y="22.6" width="0.6" height="0.6"/><rect x="23.3" y="15.7" width="0.5" height="0.5"/><rect x="4.9" y="1.8" width="0.5" height="0.5"/><rect x="9.8" y="25.4" width="0.7" height="0.7"/><rect x="23.6" y="32.9" width="0.4" height="0.4"/><rect x="15.6" y="3.2" width="0.6" height="0.6"/><rect x="3.2" y="2.7" width="0.5" height="0.5"/><rect x="15.6" y="30.5" width="0.5" height="0.5"/><rect x="29.7" y="9.3" width="0.5" height="0.5"/><rect x="18.9" y="3.0" width="0.6" height="0.6"/><rect x="23.3" y="33.0" width="0.4" height="0.4"/><rect x="32.0" y="22.8" width="0.7" height="0.7"/><rect x="2.0" y="35.2" width="0.5" height="0.5"/><rect x="21.9" y="21.5" width="0.9" height="0.9"/><rect x="24.1" y="39.7" width="0.5" height="0.5"/><rect x="26.5" y="23.1" width="0.7" height="0.7"/><rect x="25.1" y="22.0" width="0.6" height="0.6"/><rect x="25.7" y="3.3" width="0.6" height="0.6"/><rect x="18.1" y="8.5" width="0.7" height="0.7"/><rect x="26.8" y="5.0" width="0.5" height="0.5"/><rect x="2.5" y="23.9" width="0.4" height="0.4"/><rect x="9.2" y="17.9" width="0.6" height="0.6"/><rect x="1.3" y="37.9" width="0.5" height="0.5"/><rect x="24.4" y="8.9" width="0.7" height="0.7"/><rect x="14.1" y="12.7" width="0.6" height="0.6"/><rect x="23.5" y="23.9" width="0.7" height="0.7"/><rect x="10.7" y="3.7" width="0.5" height="0.5"/><rect x="13.1" y="24.3" width="0.6" height="0.6"/><rect x="12.5" y="3.9" width="0.7" height="0.7"/><rect x="4.4" y="20.7" width="0.7" height="0.7"/><rect x="24.9" y="6.4" width="0.6" height="0.6"/><rect x="37.6" y="3.6" width="0.7" height="0.7"/><rect x="17.5" y="24.5" width="0.6" height="0.6"/><rect x="5.0" y="22.5" width="0.4" height="0.4"/><rect x="34.6" y="31.9" width="0.6" height="0.6"/><rect x="21.5" y="21.1" width="0.9" height="0.9"/><rect x="1.7" y="11.9" width="0.6" height="0.6"/><rect x="31.5" y="29.2" width="0.6" height="0.6"/><rect x="0.5" y="25.9" width="0.6" height="0.6"/><rect x="4.7" y="25.2" width="0.6" height="0.6"/><rect x="12.3" y="10.8" width="0.7" height="0.7"/><rect x="9.9" y="15.7" width="0.9" height="0.9"/></g></pattern><pattern id="pStone2" patternUnits="userSpaceOnUse" width="40" height="40"><rect width="40" height="40" fill="#ebebeb"/><path d="M35.1 24.4L35.5 28.0M35.1 24.4L35.9 23.5M35.5 28.0L36.1 28.6M36.5 28.8L39.8 27.2M36.5 28.8L36.1 28.6M39.8 27.2L40.3 24.7M40.3 24.7L37.9 23.1M35.9 23.5L36.6 23.2M37.9 23.1L36.6 23.2M14.8 36.9L12.3 39.7M14.8 36.9L14.9 39.7M14.9 39.7L12.5 39.9M12.3 39.7L12.5 39.9M22.4 21.4L24.3 23.4M22.4 21.4L24.8 19.5M24.8 19.5L25.9 21.4M25.9 21.4L24.3 23.4M38.6 31.5L40.4 32.2M38.6 31.5L36.5 28.8M40.4 32.2L42.6 30.6M39.8 27.2L42.2 29.3M43.3 24.2L40.3 24.7M37.2 18.9L36.7 19.6M37.2 18.9L35.6 17.7M35.6 17.7L34.4 18.2M36.7 19.6L34.4 18.2M35.6 17.7L36.6 16.0M36.6 16.0L35.9 14.8M34.4 18.2L34.0 18.2M34.0 18.2L34.5 15.2M34.5 15.2L35.9 14.8M9.6 35.9L8.2 36.9M9.6 35.9L11.4 38.3M8.2 36.9L9.2 37.9M9.2 37.9L11.2 39.0M11.4 38.3L11.2 38.9M11.2 38.9L11.2 39.0M8.6 33.7L11.0 34.4M8.6 33.7L7.6 35.1M7.6 35.1L9.7 35.4M11.0 34.4L9.7 35.4M6.5 36.0L7.6 35.1M6.5 36.0L8.2 36.9M9.6 35.9L9.7 35.4M9.1 28.6L8.6 30.5M9.1 28.6L6.9 26.7M6.9 26.7L5.3 31.0M8.6 30.5L8.0 30.8M8.0 30.8L5.3 31.0M10.7 27.2L5.8 24.5M10.7 27.2L9.1 28.6M5.8 24.5L5.9 25.1M5.9 25.1L6.9 26.7M5.2 31.5L6.1 36.0M5.2 31.5L5.2 31.1M6.5 36.0L6.1 36.0M5.2 31.1L5.3 31.0M6.1 36.0L6.1 36.0M8.6 33.7L8.0 30.8M5.2 31.1L4.7 30.9M5.9 25.1L5.2 27.1M4.7 30.9L5.2 27.1M-0.2 27.2L2.2 29.3M-0.2 27.2L0.3 24.7M3.3 24.2L0.3 24.7M3.3 24.2L2.6 28.1M2.6 28.1L2.2 29.3M-1.4 31.5L0.4 32.2M-3.5 28.8L-0.2 27.2M0.4 32.2L2.6 30.6M2.6 30.6L2.2 29.3M2.6 30.6L4.7 30.9M5.2 27.1L2.6 28.1M6.1 36.0L5.5 38.8M9.2 37.9L7.5 38.9M5.5 38.8L7.5 38.9M11.2 39.0L9.3 40.5M7.5 38.9L9.3 40.5M2.9 38.6L3.6 35.8M2.9 38.6L2.1 35.3M3.6 35.8L2.9 35.5M2.1 35.3L2.9 35.5M2.9 38.7L4.8 40.1M2.9 38.7L2.9 38.6M6.1 36.0L3.6 35.8M5.5 38.8L4.8 40.1M5.2 31.5L2.9 35.5M12.3 39.7L11.2 38.9M12.5 39.9L12.8 43.0M9.1 40.7L9.3 40.5M9.1 40.7L9.9 42.3M31.8 10.3L29.0 13.4M31.8 10.3L31.7 10.2M29.0 13.4L28.4 10.6M31.7 10.2L29.5 7.6M29.5 7.6L28.5 8.7M28.4 10.6L28.5 8.7M33.3 4.0L32.4 7.0M33.3 4.0L33.9 5.2M33.9 5.2L33.5 7.5M32.4 7.0L33.3 7.6M33.3 7.6L33.5 7.5M31.7 10.2L33.3 7.6M29.5 7.6L29.5 6.3M29.5 6.3L32.4 7.0M23.7 16.6L20.7 18.6M23.7 16.6L24.7 17.7M24.7 18.0L24.7 17.7M24.7 18.0L20.4 19.6M20.4 19.6L20.7 18.6M23.2 15.9L21.1 16.5M23.2 15.9L23.7 16.6M21.1 16.5L20.7 18.6M28.4 15.7L24.7 17.7M28.4 15.7L28.6 13.7M25.6 12.4L28.6 13.7M25.6 12.4L25.2 12.5M25.2 12.5L23.6 13.5M23.2 15.9L23.2 14.2M23.2 14.2L23.6 13.5M28.4 15.7L28.4 15.7M28.4 15.7L28.2 19.5M24.9 18.9L28.2 19.5M24.9 18.9L24.7 18.0M16.8 11.4L14.0 10.4M16.8 11.4L18.9 8.0M14.0 10.4L16.5 6.7M16.5 6.7L18.9 8.0M28.8 24.1L26.1 26.8M28.8 24.1L30.8 24.7M30.8 24.7L31.1 27.8M31.1 27.8L26.5 27.7M26.5 27.7L26.1 26.8M33.2 24.1L30.8 24.7M33.2 24.1L35.1 24.4M35.5 28.0L32.1 29.2M32.1 29.2L31.1 27.8M31.6 29.9L32.1 29.2M31.6 29.9L26.6 28.2M26.6 28.2L26.5 27.7M26.6 28.2L26.5 28.8M22.3 30.5L22.3 28.6M22.3 30.5L24.9 31.5M22.3 28.6L25.4 26.6M25.4 26.6L26.1 26.8M24.9 31.5L26.5 28.8M18.1 17.2L20.3 16.2M18.1 17.2L18.2 12.9M20.3 16.2L19.8 13.7M19.8 13.7L19.2 13.2M18.2 12.9L19.2 13.2M17.9 12.6L18.2 12.9M17.9 12.6L17.9 12.6M17.9 12.6L16.3 14.3M16.3 14.3L15.2 16.5M15.2 16.5L15.7 17.4M15.7 17.4L17.6 18.0M17.6 18.0L18.1 17.2M21.1 16.5L20.3 16.2M23.2 14.2L19.8 13.7M23.6 13.5L22.1 11.9M21.6 11.7L22.1 11.9M21.6 11.7L19.2 13.2M7.8 19.2L10.0 17.9M7.8 19.2L7.6 19.2M10.0 17.9L10.6 16.0M8.6 14.9L10.5 15.8M8.6 14.9L7.0 18.7M7.0 18.7L7.6 19.2M10.6 16.0L10.5 15.8M11.4 38.3L12.4 35.0M11.0 34.4L11.7 34.3M12.4 35.0L11.7 34.3M8.6 30.5L11.7 31.8M11.7 34.3L11.7 31.8M12.6 17.3L14.4 18.9M12.6 17.3L12.2 18.5M14.4 18.9L14.0 19.6M14.0 19.6L12.2 18.5M22.3 30.5L20.5 31.7M20.5 31.7L20.0 31.4M22.3 28.6L21.4 28.1M20.0 31.4L19.5 30.8M19.5 30.8L21.3 28.2M21.4 28.1L21.3 28.2M19.5 30.8L17.7 29.5M18.4 28.5L21.3 28.2M18.4 28.5L18.1 28.8M18.1 28.8L17.7 29.5M33.5 18.7L33.7 19.3M33.5 18.7L30.5 20.2M32.0 21.4L30.7 20.9M32.0 21.4L33.7 19.6M33.7 19.6L33.7 19.3M30.7 20.9L30.5 20.2M33.5 18.6L34.0 18.2M33.5 18.6L33.5 18.7M36.7 19.6L36.7 19.8M36.7 19.8L33.7 19.3M32.2 17.5L30.4 17.3M32.2 17.5L33.5 18.6M30.4 17.3L30.1 19.8M30.1 19.8L30.5 20.2M33.2 24.1L32.0 21.4M28.8 24.1L28.8 23.8M28.8 23.8L30.7 20.9M35.9 23.5L33.7 19.6M36.6 23.2L36.7 19.8M37.2 18.9L38.6 18.2M36.6 16.0L38.2 16.8M38.6 18.2L38.2 16.8M33.9 5.2L35.0 5.8M33.5 7.5L35.2 8.0M35.0 5.8L35.4 7.7M35.4 7.7L35.2 8.0M31.8 10.3L32.6 10.6M32.6 10.6L34.4 9.9M34.4 9.9L35.2 8.1M35.2 8.1L35.2 8.0M35.9 14.8L35.9 14.8M35.9 14.8L38.6 13.4M38.2 16.8L40.1 14.6M40.1 14.6L40.1 14.2M40.1 14.2L38.6 13.4M42.4 18.0L40.1 14.6M41.6 14.4L40.5 13.9M40.1 14.2L40.5 13.9M37.9 -3.4L37.7 0.1M34.4 -0.9L37.7 0.1M36.2 4.6L36.0 5.5M36.2 4.6L35.2 3.8M33.3 4.0L33.3 4.0M36.0 5.5L35.0 5.8M33.3 4.0L35.2 3.8M41.4 -1.4L41.5 -1.5M41.2 1.2L39.9 0.3M41.4 -1.4L39.9 0.3M32.3 17.2L32.2 15.3M32.3 17.2L34.0 15.0M34.0 15.0L32.8 14.2M32.2 15.3L32.4 14.3M32.4 14.3L32.8 14.2M32.2 17.5L32.3 17.2M30.2 17.1L32.2 15.3M30.2 17.1L30.4 17.3M34.5 15.2L34.0 15.0M28.4 15.7L30.2 17.1M28.6 13.7L29.0 13.4M29.0 13.4L32.4 14.3M29.0 13.4L29.0 13.4M32.6 10.6L33.6 12.2M33.6 12.2L32.8 14.2M34.4 9.9L35.6 10.8M33.6 12.2L34.7 12.3M35.6 10.8L34.7 12.3M35.9 14.8L35.6 13.2M38.6 13.4L37.7 11.2M37.7 11.2L35.6 13.2M35.6 13.2L34.7 12.3M8.6 14.9L8.6 14.8M5.9 15.5L6.6 14.7M5.9 15.5L6.1 18.3M6.1 18.3L7.0 18.7M6.6 14.7L8.6 14.8M-1.6 3.6L-2.3 4.3M7.4 23.3L5.8 24.4M7.4 23.3L7.6 19.3M5.8 24.4L4.1 24.0M7.6 19.3L4.2 21.7M4.1 24.0L4.2 21.7M5.8 24.5L5.8 24.4M3.3 24.2L3.4 24.1M4.1 24.0L3.4 24.1M6.1 18.3L3.7 18.7M7.6 19.2L7.6 19.3M4.2 21.7L3.7 18.7M1.5 38.5L1.4 38.6M1.5 38.5L1.4 35.1M1.4 38.6L-1.7 36.4M-1.7 36.4L0.5 34.4M1.4 35.1L0.5 34.4M2.9 38.7L1.5 38.5M2.1 35.3L1.4 35.1M0.4 32.2L0.5 34.4M-2.1 36.6L-1.7 36.4M14.8 36.9L14.9 36.7M12.4 35.0L15.1 35.0M14.9 36.7L15.1 35.0M20.5 31.7L21.4 34.5M21.4 34.5L21.5 34.6M24.9 31.5L25.2 33.1M21.5 34.6L25.2 33.1M28.4 10.6L26.8 9.9M28.5 8.7L27.1 9.0M27.1 9.0L26.8 9.9M25.6 12.4L25.8 11.0M25.8 11.0L26.8 9.9M26.0 21.5L28.2 23.0M26.0 21.5L28.4 19.7M28.2 23.0L28.6 19.8M28.4 19.7L28.6 19.8M24.9 18.9L24.8 19.5M28.2 19.5L28.4 19.7M25.9 21.4L26.0 21.5M28.8 23.8L28.2 23.0M30.1 19.8L28.6 19.8M14.8 16.4L14.3 13.9M14.8 16.4L14.3 16.3M14.3 16.3L12.0 14.2M14.3 13.9L12.9 12.4M12.7 12.7L12.9 12.4M12.7 12.7L12.0 13.9M12.0 13.9L12.0 14.2M16.3 14.3L14.3 13.9M15.2 16.5L14.8 16.4M12.6 17.3L12.6 17.1M14.4 18.9L15.7 17.4M12.6 17.1L14.3 16.3M12.6 17.1L10.6 16.0M10.5 15.8L12.0 14.2M17.9 12.6L16.8 11.4M13.6 10.4L12.9 12.4M13.6 10.4L14.0 10.4M9.8 12.3L12.7 12.7M9.8 12.3L10.0 13.1M10.0 13.1L12.0 13.9M20.0 31.4L17.7 33.4M21.4 34.5L18.6 34.3M17.7 33.4L18.6 34.3M21.5 36.2L21.5 34.6M21.5 36.2L17.7 36.6M18.6 34.3L17.7 36.6M7.8 19.2L11.0 21.2M10.0 17.9L10.4 18.2M11.0 21.2L10.4 18.2M12.2 18.5L11.6 18.7M10.4 18.2L11.6 18.7M22.4 21.4L20.5 21.4M24.3 23.4L24.2 24.1M20.5 21.4L21.1 23.3M21.1 23.3L24.2 24.1M25.4 26.6L24.6 25.7M24.6 25.7L24.2 24.1M19.1 27.1L20.8 26.6M19.1 27.1L18.4 25.0M18.4 25.0L20.8 25.1M20.8 26.6L21.1 25.5M21.1 25.5L20.8 25.1M18.4 28.5L19.1 27.1M21.4 28.1L20.8 26.6M24.6 25.7L21.1 25.5M21.1 23.3L20.8 25.1M38.6 18.2L40.2 19.3M40.2 19.3L41.8 18.7M37.9 23.1L39.8 20.5M40.2 19.3L39.8 20.5M40.5 13.9L40.9 13.3M42.6 12.5L40.9 13.3M32.3 -0.6L34.2 -0.7M32.3 -0.6L32.2 -2.1M34.4 -0.9L34.2 -0.7M17.6 -2.7L16.0 -1.2M32.3 -0.6L32.0 -0.4M32.0 -0.4L30.7 -0.6M30.8 -1.7L32.2 -2.1M30.8 -1.7L30.6 -0.7M30.6 -0.7L30.7 -0.6M6.6 14.7L5.8 12.3M5.8 12.3L7.9 13.2M8.6 14.8L8.6 14.5M7.9 13.2L8.6 14.5M10.0 13.1L8.9 13.7M8.9 13.7L8.6 14.5M9.8 12.3L8.7 10.5M8.9 13.7L8.4 10.6M8.7 10.5L8.4 10.6M7.9 13.2L8.2 10.6M8.4 10.6L8.2 10.6M13.6 10.4L11.9 9.1M16.1 5.3L16.5 6.7M16.1 5.3L13.2 4.1M13.2 4.1L13.2 4.1M13.2 4.1L12.9 4.5M12.9 4.5L11.9 9.1M8.7 10.5L11.7 9.1M11.9 9.1L11.7 9.1M-0.7 0.3L0.9 4.2M-0.7 0.3L-0.1 0.3M-0.1 0.3L1.2 1.2M1.2 1.2L1.7 3.8M1.7 3.8L0.9 4.2M-0.7 0.3L-2.1 0.3M0.1 4.4L-1.6 3.6M0.1 4.4L0.4 4.3M0.9 4.2L0.4 4.3M12.9 4.5L9.0 4.5M10.2 7.9L11.7 9.1M10.2 7.9L9.0 4.5M9.0 4.5L9.0 4.5M12.8 3.0L13.2 4.1M12.8 3.0L9.9 2.3M9.0 4.5L9.9 2.3M14.8 -3.1L12.3 -0.3M14.8 -3.1L14.9 -0.3M14.9 -0.3L12.5 -0.1M12.3 -0.3L12.5 -0.1M11.4 -1.7L11.2 -1.1M11.2 -1.1L12.3 -0.3M16.0 -1.2L15.7 -0.3M15.7 -0.3L14.9 -0.3M12.8 3.0L12.5 -0.1M15.4 2.3L16.1 0.1M15.4 2.3L13.2 4.1M15.7 -0.3L16.1 0.1M9.3 0.5L11.2 -1.0M9.3 0.5L9.1 0.7M11.2 -1.1L11.2 -1.0M9.1 0.7L9.9 2.3M1.5 -1.5L2.9 -1.3M2.9 -1.3L2.9 -1.4M1.4 -1.4L1.5 -1.5M-0.1 0.3L1.4 -1.4M4.8 0.2L1.2 1.2M4.8 0.2L4.8 0.1M4.8 0.1L2.9 -1.3M9.2 -2.1L7.5 -1.1M7.5 -1.1L5.5 -1.2M11.2 -1.0L9.2 -2.1M9.3 0.5L7.5 -1.1M4.8 0.2L5.8 2.4M4.8 0.1L5.5 -1.2M5.8 2.4L9.1 0.7M0.1 4.4L-0.1 5.3M0.4 4.3L1.7 7.0M1.7 7.0L0.6 6.9M-0.1 5.3L0.6 6.9M-0.1 5.3L-1.4 6.7M-1.4 6.7L-2.6 6.4M4.8 40.1L4.8 40.2M9.1 40.7L5.8 42.4M5.8 42.4L4.8 40.2M-2.1 23.1L-0.2 20.5M-0.2 20.5L0.2 19.3M-1.4 18.2L0.2 19.3M0.3 24.7L-2.1 23.1M-1.8 16.8L-1.4 18.2M-1.8 16.8L0.1 14.6M2.4 18.0L0.1 14.6M2.4 18.0L2.4 18.2M2.4 18.2L1.8 18.7M1.8 18.7L0.2 19.3M21.5 36.2L21.8 36.9M25.2 33.1L25.2 33.1M25.2 33.1L25.7 35.7M21.8 36.9L25.7 35.7M14.9 36.7L16.0 38.8M15.1 35.0L15.2 35.0M15.2 35.0L17.7 36.7M17.7 36.7L17.6 37.3M17.6 37.3L16.0 38.8M14.9 39.7L15.7 39.7M16.0 38.8L15.7 39.7M15.4 42.3L16.1 40.1M15.7 39.7L16.1 40.1M21.4 41.0L22.4 41.7M31.6 29.9L31.6 30.0M26.5 28.8L29.1 31.6M29.1 31.6L30.8 31.0M31.6 30.0L30.8 31.0M28.2 32.5L29.0 31.8M28.2 32.5L29.9 35.8M29.0 31.8L30.9 35.3M29.9 35.8L30.9 35.3M27.0 33.2L28.2 32.5M27.0 33.2L25.2 33.1M29.1 31.6L29.0 31.8M30.8 31.0L32.1 35.0M32.1 35.0L30.9 35.3M26.5 8.5L24.9 8.4M26.5 8.5L27.5 5.1M25.1 5.7L27.4 5.1M25.1 5.7L24.8 8.3M24.8 8.3L24.9 8.4M27.5 5.1L27.4 5.1M27.1 9.0L26.5 8.5M25.8 11.0L24.9 8.4M29.1 5.1L29.5 6.3M29.1 5.1L27.5 5.1M19.6 7.6L18.9 8.0M19.6 7.6L20.9 7.8M20.9 7.8L20.3 10.5M18.9 8.0L20.1 10.5M20.1 10.5L20.3 10.5M19.5 5.3L19.6 7.6M19.5 5.3L19.3 5.2M16.1 5.3L16.3 5.2M18.9 8.0L18.9 8.0M19.3 5.2L16.3 5.2M21.2 10.5L21.5 10.2M21.2 10.5L20.3 10.5M21.5 10.2L21.5 7.8M21.5 7.8L20.9 7.8M17.9 12.6L20.1 10.5M21.6 11.7L21.2 10.5M24.3 8.5L23.0 8.5M24.3 8.5L23.9 10.8M23.0 8.5L22.8 10.2M23.9 10.8L23.0 10.4M23.0 10.4L22.8 10.2M25.2 12.5L23.9 10.8M24.8 8.3L24.3 8.5M21.5 10.2L22.8 10.2M21.6 7.7L23.0 8.5M21.6 7.7L21.5 7.8M22.1 11.9L23.0 10.4M15.6 34.2L16.8 33.3M15.6 34.2L13.8 30.9M13.8 30.9L16.8 32.0M16.8 33.3L16.8 32.0M17.7 33.4L16.8 33.3M15.2 35.0L15.6 34.2M17.7 36.6L17.7 36.7M11.7 31.8L13.5 30.5M13.5 30.5L13.8 30.9M17.4 29.5L17.6 29.5M17.4 29.5L13.5 30.4M17.6 29.5L16.8 32.0M13.5 30.4L13.5 30.5M17.7 29.5L17.6 29.5M10.7 27.2L11.1 26.9M7.4 23.3L8.2 23.4M8.2 23.4L10.9 25.4M11.1 26.9L10.9 25.4M11.0 21.2L11.1 21.3M11.6 18.7L11.7 21.0M11.7 21.0L11.1 21.3M14.0 19.6L13.9 20.8M11.7 21.0L13.9 20.8M8.2 23.4L11.0 21.7M11.0 21.7L11.1 21.3M20.5 21.4L19.7 20.9M18.4 25.0L17.3 24.4M17.3 24.4L19.7 20.9M17.6 18.0L18.5 19.7M20.4 19.6L19.6 20.5M18.5 19.7L19.6 20.5M19.6 20.5L19.7 20.9M43.4 24.1L40.3 20.9M40.3 20.9L42.4 21.5M39.8 20.5L40.3 20.9M41.2 1.2L41.7 3.8M39.9 0.3L39.3 0.3M41.7 3.8L40.9 4.2M40.9 4.2L39.3 0.3M34.2 -0.7L33.8 1.0M37.7 0.1L37.9 0.3M37.4 1.3L33.7 1.9M37.4 1.3L37.6 1.2M33.8 1.0L33.7 1.9M37.6 1.2L37.9 0.3M39.3 0.3L37.9 0.3M40.9 4.2L40.4 4.3M40.4 4.3L40.1 4.4M37.6 1.2L38.4 3.6M40.1 4.4L38.4 3.6M36.2 4.6L37.7 4.3M35.2 3.8L37.4 1.3M37.7 4.3L38.4 3.6M23.9 1.3L24.8 1.3M23.9 1.3L22.8 1.6M24.8 1.3L24.3 5.0M22.8 1.6L24.3 5.0M25.1 1.3L24.8 1.3M25.1 1.3L27.4 5.1M25.1 5.7L24.3 5.4M24.3 5.4L24.3 5.0M25.3 -1.3L23.1 -1.9M26.1 -0.8L25.3 -1.3M26.1 -0.8L27.6 -2.5M23.9 1.3L23.1 -1.9M25.1 1.3L25.7 0.7M26.1 -0.8L26.0 -0.3M25.7 0.7L26.0 -0.3M27.6 -2.5L28.5 -1.4M28.5 -1.4L30.6 -0.7M30.7 3.5L32.0 -0.3M30.7 3.5L32.6 3.4M32.6 3.4L32.9 3.0M32.9 3.0L32.2 0.1M32.0 -0.3L32.2 0.1M29.1 5.1L30.2 3.6M33.3 4.0L32.6 3.4M30.2 3.6L30.7 3.5M33.7 1.9L32.9 3.0M33.8 1.0L32.2 0.1M32.0 -0.4L32.0 -0.3M28.1 0.1L28.9 1.8M28.1 0.1L28.6 -0.9M28.6 -0.9L29.6 2.0M28.9 1.8L29.5 2.2M29.5 2.2L29.6 2.0M25.7 0.7L28.9 1.8M26.0 -0.3L28.1 0.1M28.5 -1.4L28.6 -0.9M30.7 -0.6L29.6 2.0M30.2 3.6L29.5 2.2M4.0 15.1L3.8 14.3M4.0 15.1L3.4 15.8M3.8 14.3L1.6 14.4M3.4 15.8L1.6 14.4M5.9 15.5L4.0 15.1M5.4 11.2L3.9 12.4M5.4 11.2L5.8 12.3M3.9 12.4L3.8 14.3M2.4 18.0L3.4 15.8M2.4 18.2L3.7 18.7M0.1 14.6L0.1 14.2M1.6 14.4L0.5 13.9M0.1 14.2L0.5 13.9M0.1 14.2L-1.4 13.4M-1.4 13.4L-2.3 11.2M5.4 11.2L5.6 10.6M8.2 10.6L5.9 10.2M5.6 10.6L5.9 10.2M0.5 7.7L0.3 7.2M0.5 7.7L-0.6 8.5M0.3 7.2L0.0 7.3M-0.6 8.5L0.0 7.3M-0.7 8.6L0.9 8.3M-0.7 8.6L-0.6 8.5M0.9 8.3L0.5 7.7M0.6 6.9L0.3 7.2M-1.3 6.8L-1.4 6.7M-1.3 6.8L0.0 7.3M-0.7 8.6L-1.2 8.9M-1.2 8.9L-1.2 8.8M-1.2 8.8L-1.3 6.8M-1.2 8.8L-2.4 8.4M3.4 24.1L2.4 21.5M3.4 24.1L0.3 20.9M0.3 20.9L2.4 21.5M3.4 24.1L3.4 24.1M1.8 18.7L2.4 21.5M-0.2 20.5L0.3 20.9M18.0 37.9L18.9 40.3M18.0 37.9L21.2 38.2M18.9 40.3L20.6 40.0M21.2 38.2L20.6 40.0M21.8 37.1L21.8 36.9M21.8 37.1L21.2 38.2M17.6 37.3L18.0 37.9M17.5 40.6L18.6 40.5M17.5 40.6L17.0 42.5M18.6 40.5L19.0 43.1M16.1 40.1L17.5 40.6M18.9 40.3L18.6 40.5M21.4 41.0L20.6 40.0M36.1 28.6L34.6 31.9M31.6 30.0L33.5 32.2M34.6 31.9L33.5 32.2M32.1 35.0L32.3 35.1M33.5 32.2L32.3 35.1M15.9 27.8L14.8 26.1M15.9 27.8L13.4 29.7M14.8 26.1L12.7 27.5M13.4 29.7L12.7 27.5M17.4 29.5L15.9 27.8M13.5 30.4L13.4 29.7M11.1 26.9L12.7 27.5M14.5 24.5L12.0 23.9M14.5 24.5L13.7 22.2M13.7 22.2L11.9 23.7M12.0 23.9L11.9 23.7M15.3 25.2L14.5 24.5M15.3 25.2L14.8 26.1M10.9 25.4L12.0 23.9M13.9 20.8L13.9 20.9M13.9 20.9L13.7 22.2M11.0 21.7L11.9 23.7M16.6 24.6L16.5 24.7M16.6 24.6L16.8 24.6M16.8 24.6L16.3 20.9M16.5 24.7L14.6 21.1M14.6 21.1L16.3 20.9M18.1 28.8L16.6 24.6M15.3 25.2L16.5 24.7M17.3 24.4L16.8 24.6M18.5 19.7L16.3 20.9M13.9 20.9L14.6 21.1M35.2 8.1L36.2 8.9M35.6 10.8L36.9 10.7M36.2 8.9L36.9 10.7M37.7 11.2L37.7 11.1M36.9 10.7L37.7 11.1M19.5 5.3L20.7 5.0M21.6 7.7L22.5 5.9M20.7 5.0L21.4 5.0M21.4 5.0L22.5 5.9M24.3 5.4L23.6 5.4M22.5 5.9L23.6 5.4M17.5 0.6L18.6 0.5M17.5 0.6L17.0 2.5M18.6 0.5L19.0 3.1M19.0 3.1L17.4 3.4M17.0 2.5L17.4 3.4M15.4 2.3L17.0 2.5M16.1 0.1L17.5 0.6M19.3 5.2L19.3 3.3M16.3 5.2L17.4 3.4M19.3 3.3L19.0 3.1M20.5 3.5L21.6 3.3M20.5 3.5L19.5 3.2M19.5 3.2L21.4 1.0M21.6 3.3L22.1 2.7M22.1 2.7L22.4 1.7M22.4 1.7L21.4 1.0M20.7 5.0L20.5 3.5M21.4 5.0L21.6 3.3M19.3 3.3L19.5 3.2M23.6 5.4L22.1 2.7M22.8 1.6L22.4 1.7M18.0 -2.1L18.9 0.3M18.0 -2.1L21.2 -1.8M18.9 0.3L20.6 -0.0M21.2 -1.8L20.6 -0.0M18.6 0.5L18.9 0.3M21.4 1.0L20.6 -0.0M3.9 12.4L2.6 12.5M0.5 13.9L0.9 13.3M2.6 12.5L0.9 13.3M1.7 7.0L1.8 7.0M1.2 8.4L0.9 8.3M1.2 8.4L1.7 7.8M1.7 7.8L1.8 7.0M1.4 38.6L-0.1 40.3M4.8 40.2L1.2 41.2M1.2 41.2L-0.1 40.3M21.8 37.1L22.3 37.4M25.7 35.7L25.8 35.8M22.3 37.4L24.8 37.2M25.8 35.8L24.8 37.2M23.1 38.1L25.3 38.7M23.1 38.1L22.3 37.4M24.8 37.2L25.3 38.7M39.3 40.3L37.9 40.3M37.9 40.3L37.6 41.2M37.4 41.3L37.6 41.2M38.6 31.5L36.9 32.9M34.6 31.9L35.3 32.9M36.9 32.9L35.3 32.9M38.8 10.2L38.9 9.7M38.8 10.2L40.4 11.1M38.9 9.7L41.2 9.2M40.4 11.1L41.5 10.5M41.5 10.5L41.9 9.9M41.9 9.9L41.2 9.2M40.9 13.3L40.4 11.1M37.7 11.1L38.8 10.2M36.0 5.5L37.0 6.6M37.7 4.3L37.4 6.4M37.4 6.4L37.0 6.6M36.2 8.9L37.6 8.4M38.8 8.9L38.8 8.8M38.8 8.9L38.9 9.7M37.6 8.4L38.8 8.8M35.4 7.7L36.8 6.8M37.6 8.4L36.8 6.8M37.0 6.6L36.8 6.8M40.1 4.4L39.9 5.3M37.4 6.4L38.6 6.7M39.9 5.3L38.6 6.7M38.8 8.8L38.7 6.8M38.6 6.7L38.7 6.8M0.4 11.1L1.5 10.5M0.4 11.1L-1.2 10.2M-1.1 9.7L-1.2 10.2M-1.1 9.7L1.2 9.2M1.5 10.5L1.9 9.9M1.2 9.2L1.9 9.9M2.6 12.5L1.5 10.5M0.9 13.3L0.4 11.1M-2.3 11.1L-1.2 10.2M-1.2 8.9L-1.1 9.7M1.2 8.4L1.2 9.2M5.6 10.6L2.7 9.8M2.7 9.8L1.9 9.9M2.7 9.8L2.5 8.3M2.5 8.3L1.7 7.8M2.0 6.9L4.4 7.2M2.0 6.9L2.8 4.1M2.8 4.1L5.7 3.9M6.0 6.3L5.7 7.0M6.0 6.3L6.0 4.5M5.7 3.9L6.0 4.5M5.7 7.0L4.4 7.2M2.5 8.3L4.4 7.2M1.8 7.0L2.0 6.9M1.7 3.8L2.8 4.1M5.8 2.4L5.7 3.9M10.2 7.9L6.0 6.3M5.9 10.2L5.7 7.0M9.0 4.5L6.0 4.5M-0.1 40.3L-0.7 40.3M-0.7 40.3L-2.1 40.3M25.8 35.8L27.7 37.2M25.3 38.7L26.1 39.2M26.1 39.2L27.6 37.5M27.7 37.2L27.6 37.5M27.0 33.2L29.0 36.1M27.7 37.2L29.0 36.1M29.9 35.8L29.9 35.8M29.0 36.1L29.9 35.8M39.3 40.3L39.9 40.3M41.2 41.2L39.9 40.3M28.5 38.6L27.6 37.5M28.5 38.6L30.6 39.3M29.9 35.8L30.8 38.3M30.8 38.3L30.6 39.3M33.7 41.9L37.4 41.3M24.8 41.3L23.9 41.3M23.9 41.3L22.8 41.6M23.1 38.1L23.9 41.3M26.1 39.2L26.0 39.7M25.1 41.3L24.8 41.3M25.1 41.3L25.7 40.7M25.7 40.7L26.0 39.7M22.4 41.7L22.8 41.6M36.9 32.9L36.4 35.9M35.3 32.9L34.2 35.8M34.2 35.8L36.4 35.9M40.4 32.2L40.5 34.4M40.5 34.4L38.3 36.4M38.3 36.4L37.9 36.6M36.4 35.9L37.9 36.6M37.9 40.3L37.7 40.1M39.9 40.3L41.4 38.6M38.3 36.4L41.4 38.6M37.9 36.6L37.7 40.1M40.4 4.3L41.7 7.0M39.9 5.3L40.6 6.9M40.6 6.9L41.7 7.0M41.2 9.2L41.2 8.4M41.2 8.4L41.7 7.8M42.0 6.9L41.8 7.0M41.7 7.8L41.8 7.0M41.7 7.0L41.8 7.0M28.6 39.1L28.1 40.1M28.6 39.1L29.6 42.0M28.1 40.1L28.9 41.8M26.0 39.7L28.1 40.1M28.5 38.6L28.6 39.1M30.7 39.4L30.6 39.3M30.7 39.4L29.6 42.0M25.7 40.7L28.9 41.8M41.4 38.6L41.5 38.5M40.5 34.4L41.4 35.1M41.5 38.5L41.4 35.1M30.7 39.4L32.0 39.6M30.7 43.5L32.0 39.7M32.0 39.6L32.0 39.7M32.9 43.0L32.2 40.1M32.0 39.7L32.2 40.1M33.7 41.9L33.8 41.0M32.2 40.1L33.8 41.0M33.4 35.7L33.9 35.9M33.4 35.7L32.2 37.9M33.9 35.9L34.4 39.1M32.2 37.9L32.3 39.4M32.3 39.4L34.2 39.3M34.4 39.1L34.2 39.3M32.3 35.1L33.4 35.7M34.2 35.8L33.9 35.9M30.8 38.3L32.2 37.9M37.7 40.1L34.4 39.1M32.0 39.6L32.3 39.4M33.8 41.0L34.2 39.3M38.7 6.8L40.0 7.3M40.6 6.9L40.3 7.2M40.0 7.3L40.3 7.2M41.4 35.1L42.1 35.3M40.9 8.3L40.5 7.7M40.9 8.3L39.3 8.6M40.5 7.7L39.4 8.5M39.3 8.6L39.4 8.5M41.2 8.4L40.9 8.3M40.3 7.2L40.5 7.7M38.8 8.9L39.3 8.6M40.0 7.3L39.4 8.5" stroke="#7c7c7c" stroke-width="0.34" fill="none"/><g fill="#7c7c7c"><rect x="21.5" y="30.6" width="0.5" height="0.5"/><rect x="19.1" y="34.7" width="0.6" height="0.6"/><rect x="31.9" y="18.2" width="0.9" height="0.9"/><rect x="16.0" y="32.9" width="0.4" height="0.4"/><rect x="13.6" y="5.8" width="0.6" height="0.6"/><rect x="16.2" y="9.6" width="0.6" height="0.6"/><rect x="27.3" y="23.1" width="0.5" height="0.5"/><rect x="28.5" y="28.4" width="0.6" height="0.6"/><rect x="18.4" y="6.9" width="0.8" height="0.8"/><rect x="14.3" y="11.7" width="0.9" height="0.9"/><rect x="12.2" y="7.9" width="0.6" height="0.6"/><rect x="20.6" y="24.6" width="0.6" height="0.6"/><rect x="27.4" y="0.9" width="0.9" height="0.9"/><rect x="18.4" y="17.9" width="0.6" height="0.6"/><rect x="11.0" y="32.6" width="0.6" height="0.6"/><rect x="3.8" y="14.0" width="0.6" height="0.6"/><rect x="14.4" y="4.1" width="0.8" height="0.8"/><rect x="6.0" y="29.2" width="0.6" height="0.6"/><rect x="19.8" y="27.1" width="0.4" height="0.4"/><rect x="19.6" y="18.4" width="0.6" height="0.6"/><rect x="0.0" y="0.5" width="0.6" height="0.6"/><rect x="18.2" y="13.4" width="0.5" height="0.5"/><rect x="14.6" y="26.9" width="0.8" height="0.8"/><rect x="30.6" y="0.1" width="0.6" height="0.6"/><rect x="19.6" y="32.6" width="0.7" height="0.7"/><rect x="32.1" y="27.6" width="0.4" height="0.4"/><rect x="39.2" y="22.3" width="0.7" height="0.7"/><rect x="10.4" y="36.1" width="0.9" height="0.9"/><rect x="13.7" y="19.6" width="0.4" height="0.4"/><rect x="30.5" y="25.7" width="0.5" height="0.5"/><rect x="33.2" y="21.9" width="0.9" height="0.9"/><rect x="32.8" y="4.0" width="0.5" height="0.5"/><rect x="33.9" y="1.3" width="0.5" height="0.5"/><rect x="36.8" y="32.4" width="0.5" height="0.5"/><rect x="13.5" y="1.5" width="0.5" height="0.5"/><rect x="0.4" y="23.5" width="0.7" height="0.7"/><rect x="5.8" y="33.3" width="0.6" height="0.6"/><rect x="24.0" y="26.5" width="0.5" height="0.5"/><rect x="32.1" y="16.4" width="0.6" height="0.6"/><rect x="5.0" y="10.2" width="0.6" height="0.6"/><rect x="29.0" y="18.3" width="0.7" height="0.7"/><rect x="30.3" y="16.1" width="0.4" height="0.4"/><rect x="22.5" y="37.8" width="0.4" height="0.4"/><rect x="18.5" y="26.2" width="0.6" height="0.6"/><rect x="4.1" y="20.6" width="0.4" height="0.4"/><rect x="2.8" y="13.5" width="0.5" height="0.5"/><rect x="20.2" y="37.8" width="0.5" height="0.5"/><rect x="39.5" y="14.0" width="0.8" height="0.8"/><rect x="20.9" y="31.2" width="0.8" height="0.8"/><rect x="33.7" y="5.9" width="0.8" height="0.8"/><rect x="4.8" y="29.4" width="0.4" height="0.4"/><rect x="12.0" y="5.3" width="0.7" height="0.7"/><rect x="12.6" y="22.7" width="0.5" height="0.5"/><rect x="16.0" y="36.1" width="0.7" height="0.7"/><rect x="19.5" y="29.0" width="0.9" height="0.9"/><rect x="13.4" y="4.4" width="0.5" height="0.5"/><rect x="6.3" y="16.2" width="0.8" height="0.8"/><rect x="30.7" y="4.3" width="0.5" height="0.5"/><rect x="14.4" y="33.8" width="0.6" height="0.6"/><rect x="21.6" y="11.6" width="0.7" height="0.7"/><rect x="24.2" y="13.5" width="0.7" height="0.7"/><rect x="30.2" y="14.2" width="0.6" height="0.6"/><rect x="5.2" y="10.4" width="0.4" height="0.4"/><rect x="2.3" y="3.4" width="0.8" height="0.8"/><rect x="29.3" y="23.4" width="0.8" height="0.8"/><rect x="7.0" y="14.1" width="0.7" height="0.7"/><rect x="34.2" y="21.6" width="0.5" height="0.5"/><rect x="1.8" y="1.4" width="0.8" height="0.8"/><rect x="35.8" y="5.8" width="0.8" height="0.8"/><rect x="1.7" y="33.4" width="0.8" height="0.8"/><rect x="18.9" y="19.1" width="0.5" height="0.5"/><rect x="37.2" y="10.9" width="0.5" height="0.5"/><rect x="30.8" y="23.1" width="0.7" height="0.7"/><rect x="22.8" y="4.4" width="0.5" height="0.5"/><rect x="39.2" y="28.1" width="0.7" height="0.7"/><rect x="22.4" y="9.4" width="0.5" height="0.5"/><rect x="23.4" y="0.4" width="0.4" height="0.4"/><rect x="13.7" y="23.4" width="0.9" height="0.9"/><rect x="18.1" y="12.2" width="0.9" height="0.9"/><rect x="11.9" y="19.2" width="0.6" height="0.6"/></g></pattern><pattern id="pBrick" patternUnits="userSpaceOnUse" width="5.5" height="4.0"><rect width="5.5" height="4.0" fill="#e2e2e2"/><path d="M0 1.75H5.5 M0 3.75H5.5 M0.25 0V2.0 M3.00 2.0V4.0" stroke="#9a9a9a" stroke-width="0.5" fill="none"/></pattern><pattern id="pBrick2" patternUnits="userSpaceOnUse" width="4.6" height="3.5"><rect width="4.6" height="3.5" fill="#e2e2e2"/><path d="M0 1.50H4.6 M0 3.25H4.6 M0.25 0V1.75 M2.55 1.75V3.5" stroke="#9c9c9c" stroke-width="0.5" fill="none"/></pattern><pattern id="pTile" patternUnits="userSpaceOnUse" width="2.6" height="2.2"><rect width="2.6" height="2.2" fill="#e6e6e6"/><path d="M0 1.95H2.6" stroke="#7e7e7e" stroke-width="0.55"/><path d="M2.4 0V2.2" stroke="#a0a0a0" stroke-width="0.45"/></pattern><pattern id="pDome" patternUnits="userSpaceOnUse" width="3" height="2.4"><rect width="3" height="2.4" fill="#e2e2e2"/><path d="M0 2.15H3" stroke="#727272" stroke-width="0.55"/><path d="M2.8 0V2.4" stroke="#9a9a9a" stroke-width="0.45"/></pattern><pattern id="pTileD" patternUnits="userSpaceOnUse" width="2.0" height="1.9"><rect width="2.0" height="1.9" fill="#e0e0e0"/><path d="M0 1.65H2.0 M1.75 0V1.9" stroke="#8a8a8a" stroke-width="0.5" fill="none"/></pattern><pattern id="pHl" patternUnits="userSpaceOnUse" width="6" height="1.6"><rect width="6" height="1.6" fill="#f4f4f4"/><path d="M0 1.38 H6" stroke="#9a9a9a" stroke-width="0.45"/></pattern><pattern id="pDent" patternUnits="userSpaceOnUse" width="2.4" height="5"><rect width="2.4" height="5" fill="#5a5a5a"/><rect x="0.5" y="0.6" width="1.2" height="1.1" fill="#d0d0d0"/><rect x="1.6" y="2.8" width="1.0" height="1.0" fill="#b8b8b8"/></pattern><pattern id="pBand" patternUnits="userSpaceOnUse" width="2" height="4.6" y="153.6"><rect width="2" height="4.6" fill="#2a2a2a"/><rect x="0.5" y="1.6" width="1" height="1.2" fill="#cfcfcf"/></pattern><pattern id="pLight" patternUnits="userSpaceOnUse" width="40" height="40"><rect width="40" height="40" fill="#f6f6f6"/><path d="M19.9 23.9L18.9 28.1M19.9 23.9L16.4 25.7M16.4 25.7L16.0 26.7M16.0 26.7L17.7 28.4M18.9 28.1L17.7 28.4M19.9 21.8L25.6 20.7M19.9 21.8L17.9 19.7M17.9 19.7L17.7 18.0M17.7 18.0L21.7 17.3M21.7 17.3L26.0 18.0M25.6 20.7L26.0 18.0M20.1 23.6L19.9 21.8M20.1 23.6L19.9 23.9M14.8 22.3L16.4 25.7M14.8 22.3L17.9 19.7M14.2 26.8L16.0 26.7M14.2 26.8L12.0 24.3M14.8 22.3L13.0 23.0M12.0 24.3L13.0 23.0M26.3 17.6L26.4 17.4M26.3 17.6L30.6 19.6M30.4 16.2L28.5 16.2M30.4 16.2L31.7 17.6M30.6 19.6L31.7 17.6M28.5 16.2L26.4 17.4M31.0 15.1L29.5 11.4M31.0 15.1L34.0 13.4M29.7 11.1L29.5 11.3M29.7 11.1L33.8 13.0M29.5 11.3L29.5 11.4M33.8 13.0L34.0 13.4M31.0 15.1L30.4 16.2M31.7 17.6L33.3 17.6M34.0 13.4L34.5 13.9M34.5 13.9L33.3 17.6M5.6 34.7L5.1 34.4M5.6 34.7L4.2 37.7M4.2 37.7L-1.1 37.7M-2.1 37.1L-1.1 37.7M5.1 34.4L1.2 32.7M-3.1 35.2L1.2 32.7M1.6 27.3L5.1 34.4M1.6 27.3L-0.3 29.5M1.2 32.7L-0.3 29.5M-2.9 23.2L2.3 24.2M2.3 24.2L2.3 24.2M2.3 24.2L2.0 26.7M2.0 26.7L1.6 27.3M-0.3 29.5L-0.7 29.6M-0.7 29.6L-1.0 29.8M-1.0 29.8L-2.3 29.7M2.3 24.2L5.8 25.7M2.0 26.7L7.3 31.4M5.8 25.7L8.1 30.5M7.3 31.4L8.1 30.5M5.6 34.7L5.8 34.6M5.8 34.6L7.1 32.0M7.3 31.4L7.1 32.0M10.5 24.7L10.6 24.7M10.5 24.7L5.8 25.7M10.6 24.7L9.8 29.5M8.1 30.5L9.8 29.5M29.7 11.1L30.0 9.9M33.8 13.0L35.6 7.5M30.0 9.9L35.6 7.5M35.6 7.5L35.6 7.5M20.1 23.6L20.9 24.3M18.9 28.1L20.9 29.3M20.9 24.3L21.3 25.3M21.3 25.3L20.9 29.3M25.6 20.7L26.7 22.4M20.9 24.3L25.0 25.6M25.0 25.6L26.7 22.4M26.0 18.0L26.3 17.6M30.6 19.6L30.7 21.0M30.7 21.0L26.8 22.4M26.7 22.4L26.8 22.4M25.4 28.1L25.0 25.6M25.4 28.1L30.1 28.9M28.6 24.1L26.8 22.4M28.6 24.1L30.4 28.0M30.4 28.0L30.1 28.9M41.6 27.3L42.0 26.7M5.8 34.6L9.2 36.0M7.1 32.0L11.8 33.2M11.8 33.2L11.9 33.7M11.9 33.7L9.2 36.0M11.9 33.7L12.9 34.3M9.2 36.0L10.3 36.8M10.3 36.8L12.5 35.8M12.9 34.3L12.5 35.8M4.2 37.7L4.3 38.1M-1.1 37.7L-1.2 40.1M-1.2 40.1L-0.6 42.1M4.3 38.1L1.9 42.1M2.3 24.2L3.9 20.9M10.5 24.7L7.3 20.4M3.9 20.9L5.9 20.3M7.3 20.4L5.9 20.3M19.0 13.3L20.1 12.0M19.0 13.3L22.8 15.5M20.1 12.0L23.2 13.9M23.2 13.9L23.1 15.3M22.8 15.5L23.1 15.3M25.4 13.7L26.3 17.3M25.4 13.7L23.2 13.9M26.3 17.3L23.1 15.3M21.7 17.3L22.8 15.5M26.4 17.4L26.3 17.3M17.7 18.0L16.7 16.1M19.0 13.3L17.5 14.9M16.7 16.1L17.5 14.9M15.7 -0.9L18.7 2.5M15.7 -0.9L20.5 -2.3M20.8 -1.8L19.7 2.6M19.7 2.6L18.7 2.5M-1.2 40.1L-2.7 40.8M24.9 3.9L24.7 4.5M24.9 3.9L23.8 -0.0M24.7 4.5L21.1 5.1M20.8 -1.8L22.8 -1.3M21.1 5.1L19.7 2.6M22.8 -1.3L23.8 -0.0M30.0 9.9L28.6 6.7M35.6 7.3L35.6 7.5M35.6 7.3L31.1 6.0M31.1 6.0L28.6 6.7M26.6 6.2L28.2 6.5M26.6 6.2L25.5 9.2M29.5 11.3L26.2 9.9M25.5 9.2L26.2 9.9M28.2 6.5L28.6 6.7M26.0 12.9L25.7 13.1M26.0 12.9L29.0 11.9M29.0 11.9L28.6 14.6M28.6 14.6L25.6 13.2M25.6 13.2L25.7 13.1M23.5 10.4L25.7 13.1M23.5 10.4L25.5 9.2M26.2 9.9L26.0 12.9M29.5 11.4L29.0 11.9M28.5 16.2L28.6 14.6M25.4 13.7L25.6 13.2M20.7 10.2L20.1 12.0M20.7 10.2L23.5 10.4M27.0 -2.2L25.3 -1.4M23.5 -1.6L25.3 -1.4M22.8 -1.3L23.5 -1.6M23.8 -0.0L25.9 -0.2M25.9 -0.2L25.3 -1.4M25.9 -0.2L27.1 0.2M27.0 -2.2L27.8 -1.4M27.8 -1.4L27.1 0.2M10.2 29.6L12.0 32.6M10.2 29.6L13.6 29.7M12.0 32.6L15.3 31.3M13.6 29.7L15.3 31.3M9.8 29.5L10.2 29.6M11.8 33.2L12.0 32.6M14.2 26.8L13.6 29.7M10.6 24.7L12.0 24.3M15.9 31.6L15.3 31.3M15.9 31.6L16.6 33.2M16.6 33.2L12.9 34.3M17.7 28.4L15.9 31.6M34.5 13.9L35.7 14.1M35.7 14.1L38.1 11.7M35.6 7.5L37.9 10.0M38.1 11.7L37.9 10.0M44.2 37.7L38.9 37.7M39.4 42.1L38.8 40.1M38.8 40.1L38.9 37.7M30.7 21.0L32.3 22.0M28.6 24.1L30.8 23.4M32.3 22.0L30.8 23.4M30.4 28.0L30.9 27.5M30.8 23.4L30.9 27.5M36.0 34.4L36.9 35.2M36.0 34.4L39.0 29.8M36.9 35.2L41.2 32.7M41.2 32.7L39.7 29.5M39.0 29.8L39.3 29.6M39.7 29.5L39.3 29.6M38.9 37.7L37.9 37.1M37.9 37.1L36.9 35.2M41.6 27.3L39.7 29.5M37.7 29.7L35.4 28.7M37.7 29.7L35.1 31.1M35.4 28.7L34.3 29.9M35.1 31.1L34.3 29.9M35.9 26.0L35.4 28.7M35.9 26.0L39.3 29.6M39.0 29.8L37.7 29.7M35.9 34.4L36.0 34.4M35.9 34.4L35.1 31.1M35.9 26.0L35.5 23.9M30.1 28.9L30.2 29.3M30.2 29.3L34.3 29.9M30.9 27.5L35.5 23.9M30.0 32.1L33.4 34.8M30.0 32.1L30.2 29.3M33.4 34.8L35.9 34.4M19.7 42.6L20.8 38.2M24.9 43.9L23.8 40.0M23.8 40.0L22.8 38.7M20.8 38.2L22.8 38.7M16.6 33.2L16.9 33.5M12.5 35.8L14.9 36.8M14.9 36.8L16.9 33.5M10.3 36.8L11.6 39.7M11.6 39.7L14.7 38.8M14.9 36.8L14.7 38.8M3.3 20.0L3.0 16.5M3.3 20.0L0.3 18.6M3.0 16.5L0.1 16.2M0.3 18.6L0.1 16.2M3.9 20.9L3.3 20.0M5.9 20.3L6.7 13.5M3.2 15.9L6.7 13.5M3.2 15.9L3.0 16.5M-1.6 18.7L0.3 18.6M-2.5 15.9L-0.8 15.3M-0.8 15.3L0.1 16.2M-0.8 15.3L0.3 13.5M3.2 15.9L1.3 13.6M0.3 13.5L1.3 13.6M-1.9 11.7L0.2 13.3M0.3 13.5L0.2 13.3M-2.1 10.0L1.4 9.7M0.2 13.3L1.4 9.7M6.5 11.7L6.9 13.2M6.5 11.7L2.1 13.0M6.9 13.2L6.7 13.5M2.1 13.0L1.3 13.6M10.7 15.3L7.4 20.3M10.7 15.3L13.1 15.3M13.4 15.5L13.1 15.3M13.4 15.5L11.5 20.0M11.5 20.0L7.4 20.3M7.3 20.4L7.4 20.3M6.9 13.2L10.7 15.3M13.0 23.0L11.5 20.0M16.7 16.1L13.4 15.5M20.5 9.4L16.3 8.8M20.5 9.4L20.8 5.7M20.8 5.7L14.3 6.3M16.3 8.8L14.3 6.3M14.3 6.3L14.3 6.3M20.7 10.2L20.5 9.4M15.7 10.5L17.5 14.9M15.7 10.5L16.3 8.8M26.6 6.2L24.7 4.5M21.1 5.1L20.8 5.7M38.1 11.7L40.2 13.3M37.9 10.0L41.4 9.7M41.4 9.7L40.2 13.3M35.7 14.1L37.5 15.9M37.5 15.9L39.2 15.3M39.2 15.3L40.3 13.5M40.3 13.5L40.2 13.3M38.4 18.7L37.3 17.1M38.4 18.7L37.1 23.2M37.3 17.1L34.4 18.8M34.4 18.8L34.7 22.5M34.7 22.5L35.6 23.5M37.1 23.2L35.6 23.5M33.3 17.6L34.4 18.8M37.5 15.9L37.3 17.1M32.3 22.0L34.7 22.5M35.5 23.9L35.6 23.5M42.3 24.2L37.1 23.2M39.2 15.3L40.1 16.2M38.4 18.7L40.3 18.6M40.3 18.6L40.1 16.2M37.3 40.8L35.8 39.2M35.4 43.8L34.9 39.8M34.9 39.8L35.8 39.2M38.8 40.1L37.3 40.8M37.9 37.1L35.8 39.2M31.8 42.7L33.0 39.1M33.0 39.1L34.9 39.8M28.3 33.6L30.0 32.1M28.3 33.6L29.9 38.0M33.4 34.8L31.9 37.9M29.9 38.0L31.9 37.9M33.0 39.1L32.1 38.2M31.9 37.9L32.1 38.2M27.1 41.5L29.9 42.0M27.1 40.2L25.9 39.8M27.1 40.2L27.1 41.5M23.8 40.0L25.9 39.8M27.8 38.6L27.1 40.2M27.8 38.6L29.6 38.2M29.6 38.2L29.9 42.0M29.6 38.2L29.9 38.0M32.1 38.2L30.3 42.3M27.0 37.8L25.3 38.6M27.0 37.8L26.0 36.1M26.0 36.1L23.5 38.4M25.3 38.6L23.5 38.4M27.8 38.6L27.0 37.8M25.9 39.8L25.3 38.6M22.8 38.7L23.5 38.4M21.3 25.3L23.1 29.0M20.9 29.3L21.2 29.5M21.2 29.5L23.1 29.0M16.9 33.5L19.5 34.3M21.2 29.5L19.5 34.3M25.4 28.1L24.4 29.0M24.4 29.0L23.1 29.0M4.3 38.1L8.0 42.8M11.6 39.7L10.5 42.1M15.7 39.1L15.1 39.0M15.7 39.1L18.7 42.5M15.1 39.0L15.5 43.0M14.7 38.8L15.1 39.0M20.5 37.7L20.2 34.9M20.5 37.7L15.7 39.1M19.5 34.3L20.2 34.9M20.8 38.2L20.5 37.7M10.1 8.0L6.7 10.7M10.1 8.0L10.0 7.0M9.2 6.2L10.0 7.0M9.2 6.2L6.1 10.1M6.1 10.1L6.5 10.7M6.5 10.7L6.7 10.7M5.7 9.7L5.5 5.2M5.7 9.7L6.1 10.1M5.5 5.2L7.9 2.9M7.9 2.9L9.2 6.2M5.7 9.7L2.4 9.4M6.5 11.7L6.5 10.7M2.1 13.0L2.0 9.5M2.0 9.5L2.4 9.4M13.1 8.2L10.7 8.2M13.1 8.2L13.1 10.0M10.7 8.2L10.9 10.5M13.1 10.0L12.5 11.0M12.5 11.0L10.9 10.5M13.6 5.0L10.0 7.0M13.6 5.0L14.3 6.3M14.3 6.3L13.1 8.2M10.1 8.0L10.7 8.2M15.7 10.5L13.1 10.0M6.7 10.7L10.9 10.5M13.1 15.3L12.5 11.0M15.5 3.0L13.6 4.6M15.5 3.0L15.1 -1.0M13.6 4.6L10.5 2.1M10.5 2.1L11.6 -0.3M11.6 -0.3L14.7 -1.2M14.7 -1.2L15.1 -1.0M18.7 2.5L15.5 3.0M13.6 5.0L13.6 4.6M15.7 -0.9L15.1 -1.0M7.9 2.9L8.0 2.8M8.0 2.8L10.5 2.1M10.3 -3.2L11.6 -0.3M27.8 -1.4L29.6 -1.8M29.9 -2.0L29.6 -1.8M42.1 13.0L41.3 13.6M41.3 13.6L40.3 13.5M40.1 16.2L43.0 16.5M40.3 18.6L43.3 20.0M35.6 7.3L35.8 6.8M31.1 6.0L31.7 2.7M35.8 6.8L36.2 4.9M36.2 4.9L35.4 3.9M31.8 2.7L31.7 2.7M31.8 2.7L35.4 3.8M35.4 3.8L35.4 3.9M37.9 -2.9L35.8 -0.8M33.0 -0.9L32.1 -1.8M33.0 -0.9L34.9 -0.2M34.9 -0.2L35.8 -0.8M31.9 -2.1L32.1 -1.8M38.8 0.1L37.3 0.8M38.8 0.1L38.9 -2.3M37.3 0.8L35.8 -0.8M31.8 2.7L33.0 -0.9M35.4 3.8L34.9 -0.2M37.3 0.8L35.4 3.9M38.8 0.1L39.4 2.1M41.9 2.1L39.4 2.1M36.2 4.9L37.3 4.4M39.4 2.1L37.3 4.4M41.4 9.7L41.7 9.6M41.4 9.7L39.5 7.3M41.7 9.6L40.3 6.9M39.5 7.3L40.3 6.9M41.4 9.7L41.4 9.7M42.0 9.5L41.7 9.6M35.8 6.8L39.5 7.3M24.5 31.5L21.1 34.7M24.5 31.5L27.1 33.9M21.1 34.7L26.0 35.2M27.1 33.9L26.0 35.2M20.2 34.9L21.1 34.7M24.4 29.0L24.5 31.5M28.3 33.6L27.1 33.9M26.0 36.1L26.0 35.2M1.4 9.7L1.7 9.6M1.4 9.7L-0.5 7.3M1.7 9.6L0.3 6.9M-0.5 7.3L0.3 6.9M1.4 9.7L1.4 9.7M2.0 9.5L1.7 9.6M0.9 6.6L0.3 6.9M0.9 6.6L2.4 9.1M2.4 9.4L2.4 9.1M29.9 2.0L30.3 2.3M29.9 2.0L27.1 1.5M25.2 3.7L29.8 3.1M25.2 3.7L27.1 1.5M29.8 3.1L30.4 2.4M30.4 2.4L30.3 2.3M29.6 -1.8L29.9 2.0M32.1 -1.8L30.3 2.3M27.1 0.2L27.1 1.5M24.9 3.9L25.2 3.7M28.2 6.5L29.8 3.1M31.7 2.7L30.4 2.4M0.9 6.6L1.4 5.3M-2.7 4.4L1.4 5.3M2.4 9.1L2.5 4.9M1.4 5.3L2.5 4.9M5.5 5.2L2.8 4.6M2.5 4.9L2.8 4.6M41.4 5.3L42.5 4.9M41.4 5.3L40.9 6.6M40.9 6.6L42.4 9.1M37.3 4.4L41.4 5.3M40.3 6.9L40.9 6.6M1.9 2.1L-0.6 2.1M1.9 2.1L4.3 -1.9M-0.6 2.1L-1.2 0.1M-1.1 -2.3L-1.2 0.1M-2.7 4.4L-0.6 2.1M2.8 4.6L1.9 2.1M8.0 2.8L4.3 -1.9M-2.7 0.8L-1.2 0.1" stroke="#b0b0b0" stroke-width="0.3" fill="none"/><g fill="#b0b0b0"><rect x="29.0" y="8.3" width="0.6" height="0.6"/><rect x="10.8" y="20.8" width="0.7" height="0.7"/><rect x="13.9" y="10.5" width="0.9" height="0.9"/><rect x="37.4" y="18.7" width="0.6" height="0.6"/><rect x="20.7" y="21.7" width="0.9" height="0.9"/><rect x="17.3" y="13.7" width="0.9" height="0.9"/><rect x="25.9" y="5.4" width="0.7" height="0.7"/><rect x="32.7" y="22.6" width="0.5" height="0.5"/><rect x="14.5" y="29.2" width="0.7" height="0.7"/><rect x="0.6" y="12.8" width="0.8" height="0.8"/><rect x="2.5" y="16.1" width="0.7" height="0.7"/><rect x="12.1" y="27.4" width="0.4" height="0.4"/><rect x="37.4" y="30.3" width="0.8" height="0.8"/><rect x="20.9" y="18.6" width="0.6" height="0.6"/><rect x="4.0" y="20.7" width="0.6" height="0.6"/><rect x="34.6" y="6.6" width="0.4" height="0.4"/><rect x="31.5" y="39.2" width="0.6" height="0.6"/><rect x="34.8" y="28.7" width="0.8" height="0.8"/><rect x="23.6" y="20.3" width="0.7" height="0.7"/><rect x="31.9" y="38.0" width="0.8" height="0.8"/><rect x="29.3" y="37.2" width="0.4" height="0.4"/><rect x="0.4" y="10.2" width="0.4" height="0.4"/><rect x="22.4" y="7.9" width="0.8" height="0.8"/><rect x="3.8" y="30.9" width="0.4" height="0.4"/><rect x="37.5" y="14.6" width="0.5" height="0.5"/><rect x="12.8" y="28.2" width="0.8" height="0.8"/><rect x="26.8" y="5.6" width="0.6" height="0.6"/><rect x="19.5" y="10.9" width="0.9" height="0.9"/><rect x="28.3" y="28.1" width="0.5" height="0.5"/><rect x="21.2" y="9.3" width="0.6" height="0.6"/></g></pattern><pattern id="pDark" patternUnits="userSpaceOnUse" width="20" height="20"><rect width="20" height="20" fill="#8a8a8a"/><g fill="#fff"><rect x="9.3" y="7.5" width="0.8" height="1.2"/><rect x="0.1" y="10.1" width="1.6" height="0.6"/><rect x="11.1" y="12.3" width="0.6" height="0.8"/><rect x="14.1" y="9.0" width="1.4" height="0.6"/><rect x="4.8" y="2.2" width="1.2" height="1.2"/><rect x="11.8" y="15.5" width="1.0" height="1.1"/><rect x="2.0" y="5.8" width="1.3" height="1.1"/><rect x="8.4" y="1.8" width="0.9" height="0.7"/><rect x="5.6" y="16.2" width="0.8" height="1.2"/><rect x="17.6" y="1.1" width="1.0" height="0.9"/><rect x="0.5" y="8.5" width="1.6" height="0.6"/><rect x="11.9" y="2.4" width="1.2" height="1.2"/><rect x="4.1" y="0.2" width="0.7" height="0.9"/><rect x="0.3" y="1.7" width="1.1" height="1.2"/><rect x="8.4" y="8.0" width="1.3" height="0.6"/><rect x="11.6" y="3.5" width="1.3" height="1.3"/><rect x="1.1" y="11.1" width="1.3" height="0.6"/><rect x="5.4" y="19.9" width="1.7" height="0.6"/><rect x="14.1" y="19.0" width="0.9" height="1.0"/><rect x="0.9" y="7.3" width="1.3" height="1.0"/><rect x="15.5" y="1.7" width="1.0" height="1.2"/><rect x="11.7" y="9.0" width="1.0" height="1.3"/><rect x="11.5" y="0.4" width="1.5" height="0.8"/><rect x="8.7" y="4.3" width="1.1" height="0.8"/><rect x="1.8" y="12.6" width="0.7" height="1.1"/><rect x="0.5" y="15.6" width="1.5" height="0.9"/><rect x="14.2" y="5.0" width="1.4" height="0.8"/><rect x="4.6" y="19.3" width="1.0" height="0.8"/><rect x="17.2" y="7.4" width="1.3" height="0.6"/><rect x="16.9" y="5.2" width="0.7" height="1.3"/><rect x="3.5" y="18.9" width="1.7" height="1.0"/><rect x="0.2" y="1.2" width="0.8" height="0.8"/><rect x="12.2" y="19.3" width="1.0" height="0.6"/><rect x="11.2" y="2.7" width="0.7" height="0.9"/><rect x="13.9" y="1.3" width="1.1" height="1.1"/><rect x="15.3" y="7.7" width="1.6" height="0.6"/><rect x="14.3" y="15.4" width="1.6" height="0.9"/><rect x="2.0" y="1.0" width="1.2" height="0.6"/><rect x="12.6" y="1.7" width="1.5" height="0.7"/><rect x="0.3" y="3.5" width="1.1" height="0.9"/><rect x="7.8" y="3.5" width="1.1" height="1.3"/><rect x="10.7" y="18.8" width="0.6" height="1.3"/><rect x="17.8" y="10.9" width="1.2" height="0.9"/><rect x="18.2" y="1.3" width="1.3" height="0.9"/><rect x="6.0" y="14.5" width="1.4" height="0.6"/><rect x="14.0" y="9.1" width="1.1" height="1.0"/><rect x="1.1" y="12.1" width="1.0" height="1.2"/><rect x="4.6" y="16.5" width="1.4" height="1.0"/><rect x="17.5" y="0.7" width="1.3" height="1.0"/><rect x="13.6" y="8.1" width="0.7" height="0.7"/><rect x="12.2" y="3.6" width="0.7" height="0.8"/><rect x="9.4" y="10.7" width="0.6" height="1.1"/><rect x="6.7" y="15.7" width="0.6" height="1.3"/><rect x="11.8" y="19.5" width="1.7" height="1.2"/><rect x="2.1" y="7.0" width="0.9" height="1.1"/><rect x="3.8" y="4.4" width="0.7" height="0.6"/><rect x="18.8" y="19.5" width="1.0" height="1.1"/><rect x="9.4" y="10.4" width="1.0" height="1.0"/><rect x="4.7" y="5.1" width="1.2" height="0.7"/><rect x="8.8" y="18.9" width="0.6" height="0.6"/><rect x="16.0" y="1.2" width="0.9" height="1.2"/><rect x="12.1" y="4.4" width="0.7" height="0.7"/><rect x="6.0" y="16.0" width="1.7" height="1.1"/><rect x="18.0" y="18.6" width="1.6" height="1.2"/><rect x="19.4" y="1.9" width="0.9" height="0.7"/><rect x="12.1" y="9.8" width="1.0" height="1.2"/><rect x="8.0" y="4.2" width="0.9" height="0.9"/><rect x="12.2" y="11.4" width="1.1" height="0.6"/><rect x="8.0" y="6.5" width="0.8" height="0.9"/><rect x="3.8" y="14.2" width="1.3" height="0.6"/><rect x="12.5" y="6.8" width="1.1" height="1.0"/><rect x="15.2" y="17.7" width="1.4" height="0.7"/><rect x="10.8" y="6.7" width="0.6" height="0.9"/><rect x="9.4" y="17.3" width="1.0" height="1.2"/><rect x="10.3" y="2.0" width="1.4" height="0.7"/><rect x="10.7" y="1.4" width="0.6" height="1.2"/><rect x="0.8" y="3.0" width="0.8" height="0.6"/><rect x="16.5" y="19.9" width="1.3" height="0.8"/><rect x="17.8" y="10.1" width="0.7" height="1.1"/><rect x="7.2" y="5.4" width="1.0" height="0.8"/><rect x="3.6" y="12.3" width="1.6" height="1.0"/><rect x="0.2" y="13.7" width="0.6" height="0.9"/><rect x="17.3" y="13.5" width="1.6" height="1.1"/><rect x="5.5" y="2.9" width="1.1" height="1.0"/><rect x="4.6" y="6.6" width="1.4" height="0.8"/><rect x="12.0" y="10.9" width="1.6" height="0.5"/><rect x="3.7" y="15.6" width="1.3" height="0.6"/><rect x="2.7" y="4.2" width="1.2" height="1.2"/><rect x="4.3" y="4.1" width="1.4" height="0.8"/><rect x="16.9" y="20.0" width="1.6" height="1.1"/></g><g fill="#333"><rect x="9.9" y="1.2" width="0.9" height="0.6"/><rect x="9.3" y="12.6" width="1.0" height="0.7"/><rect x="18.4" y="19.3" width="0.5" height="0.6"/><rect x="17.8" y="15.3" width="1.0" height="0.5"/><rect x="10.6" y="18.7" width="0.7" height="0.7"/><rect x="19.5" y="3.5" width="0.4" height="0.8"/><rect x="11.6" y="4.0" width="0.9" height="0.5"/><rect x="2.6" y="6.0" width="0.4" height="0.6"/><rect x="15.6" y="9.1" width="1.0" height="0.4"/><rect x="3.5" y="2.9" width="0.7" height="0.5"/><rect x="13.3" y="10.5" width="0.7" height="0.8"/><rect x="15.8" y="18.4" width="0.5" height="0.6"/><rect x="19.2" y="7.9" width="0.6" height="0.6"/><rect x="3.6" y="17.0" width="0.8" height="0.4"/><rect x="19.3" y="10.4" width="0.6" height="0.7"/><rect x="19.0" y="6.9" width="0.4" height="0.5"/><rect x="1.2" y="10.6" width="0.6" height="0.8"/><rect x="4.1" y="0.3" width="0.7" height="0.5"/><rect x="6.2" y="4.5" width="0.5" height="0.7"/><rect x="18.7" y="7.4" width="0.8" height="0.6"/><rect x="18.3" y="11.1" width="0.4" height="0.8"/><rect x="4.2" y="0.9" width="0.4" height="0.8"/><rect x="14.2" y="7.2" width="0.7" height="0.8"/><rect x="1.5" y="14.1" width="0.8" height="0.9"/><rect x="1.2" y="11.4" width="0.7" height="0.8"/><rect x="7.3" y="13.2" width="0.9" height="0.6"/><rect x="10.3" y="17.9" width="0.4" height="0.9"/><rect x="6.3" y="9.1" width="0.6" height="0.8"/><rect x="10.7" y="15.0" width="0.5" height="0.8"/><rect x="16.4" y="13.6" width="0.5" height="0.5"/><rect x="9.0" y="1.3" width="1.0" height="0.6"/><rect x="19.1" y="3.7" width="0.8" height="0.8"/><rect x="12.9" y="8.5" width="0.4" height="0.6"/><rect x="7.8" y="18.9" width="1.0" height="0.9"/><rect x="19.6" y="3.4" width="0.4" height="0.5"/><rect x="0.2" y="2.4" width="0.7" height="0.5"/><rect x="12.2" y="7.6" width="0.6" height="0.9"/><rect x="3.7" y="17.6" width="0.7" height="0.7"/><rect x="2.9" y="14.9" width="0.9" height="0.5"/><rect x="9.5" y="13.1" width="0.7" height="0.8"/><rect x="12.9" y="6.3" width="0.8" height="0.8"/><rect x="9.3" y="11.8" width="0.8" height="0.6"/><rect x="1.8" y="8.2" width="0.9" height="0.8"/><rect x="1.5" y="9.6" width="0.8" height="0.7"/><rect x="3.0" y="12.9" width="0.8" height="0.7"/><rect x="18.8" y="11.6" width="0.4" height="0.5"/><rect x="14.0" y="1.6" width="1.0" height="0.7"/><rect x="15.3" y="3.4" width="0.4" height="0.8"/><rect x="10.2" y="8.8" width="0.7" height="0.8"/><rect x="7.5" y="15.5" width="0.5" height="0.9"/><rect x="13.9" y="6.4" width="0.7" height="0.8"/><rect x="6.5" y="14.0" width="0.9" height="0.9"/><rect x="5.1" y="15.9" width="0.8" height="0.8"/><rect x="1.4" y="8.3" width="0.7" height="0.8"/><rect x="9.0" y="0.8" width="0.5" height="0.8"/><rect x="17.7" y="11.5" width="0.4" height="0.8"/><rect x="17.3" y="5.7" width="0.7" height="0.5"/><rect x="1.1" y="14.7" width="0.5" height="0.4"/><rect x="18.2" y="1.9" width="0.9" height="0.8"/><rect x="5.0" y="7.4" width="0.5" height="0.8"/><rect x="19.5" y="14.9" width="0.7" height="0.7"/><rect x="8.2" y="14.3" width="0.6" height="0.5"/><rect x="13.9" y="5.1" width="1.0" height="0.8"/><rect x="3.7" y="0.4" width="0.8" height="0.5"/><rect x="10.0" y="12.0" width="0.9" height="0.6"/><rect x="10.9" y="16.3" width="0.5" height="0.6"/><rect x="16.2" y="7.2" width="1.0" height="0.4"/><rect x="1.7" y="7.3" width="0.7" height="0.6"/><rect x="4.4" y="9.0" width="0.9" height="0.9"/><rect x="12.5" y="5.1" width="0.7" height="0.5"/><rect x="1.3" y="15.9" width="0.6" height="0.5"/><rect x="16.4" y="2.4" width="0.5" height="0.5"/><rect x="17.8" y="13.6" width="0.5" height="0.4"/><rect x="18.1" y="2.6" width="0.8" height="0.7"/><rect x="11.8" y="9.6" width="0.6" height="0.5"/><rect x="12.9" y="3.0" width="0.7" height="0.5"/><rect x="7.4" y="17.8" width="0.7" height="0.7"/><rect x="12.9" y="0.0" width="0.9" height="0.8"/><rect x="14.9" y="10.4" width="0.9" height="0.9"/><rect x="5.5" y="3.3" width="0.6" height="0.4"/></g></pattern>
</defs>
<path d="M41.5 115 V467.5 H329.5 V405" fill="none" stroke="#f5f3f3" stroke-width="1"/>
<path d="M557.6 150 V410.4" fill="none" stroke="#f5f5f5" stroke-width="1"/>
<path d="M329.5 55 V115" fill="none" stroke="#f5f3f3" stroke-width="1"/>
<g id="building">
<path d="M65.6,261 L119,224 L119,348.7 L113,348.7 L92.5,358 L65.6,358 Z" fill="url(#pStone2)" stroke="#222" stroke-width="0.6" />
<path d="M66,261 L119,224 M66.5,265 L119,228" fill="none" stroke="#222" stroke-width="0.8" />
<path d="M91.5,305 V283.5 A1,1 0 0 1 93.5,283.5 V305 Z" fill="#bbb" stroke="#444" stroke-width="0.7" />
<rect x="113.6" y="159" width="106.8" height="52" fill="url(#pStone1)" stroke="#222" stroke-width="0.6" />
<rect x="113.6" y="211" width="24.4" height="14" fill="url(#pLight)" stroke="#222" stroke-width="0.5" />
<rect x="196" y="211" width="24.4" height="21" fill="url(#pLight)" stroke="#222" stroke-width="0.5" />
<rect x="138" y="212" width="58" height="13" fill="#f4f4f4" stroke="#333" stroke-width="0.6" />
<path d="M113.6,212.4 H220.4" fill="none" stroke="#222" stroke-width="0.8" />
<path d="M137,212 C145,200 158,185 167,179 C176,185 189,200 196.4,212 Z" fill="url(#pDome)" stroke="#222" stroke-width="0.8" />
<path d="M139,211 Q167,208 195,211" fill="none" stroke="#555" stroke-width="0.6" />
<circle cx="167" cy="172.2" r="2.3" fill="#fff" stroke="#333" stroke-width="0.6"/>
<circle cx="167" cy="177.6" r="1.5" fill="#fff" stroke="#333" stroke-width="0.6"/>
<rect x="114" y="137" width="103" height="21" fill="#fff" stroke="#222" stroke-width="0.6" />
<rect x="155" y="137" width="62" height="20.6" fill="url(#pTile)" stroke="none" stroke-width="0.6" />
<path d="M155,137 V157.6" fill="none" stroke="#333" stroke-width="0.6" />
<rect x="114" y="146" width="41" height="8" fill="url(#pHl)" stroke="none" stroke-width="0.6" />
<path d="M134,137.5 L139,141 L144,137.5 V149 L139,146 L134,149 Z" fill="#fff" stroke="#333" stroke-width="0.6" />
<rect x="114" y="153.6" width="41" height="4.6" fill="url(#pBand)" stroke="#222" stroke-width="0.4" />
<path d="M114,157.8 H220.4" fill="none" stroke="#222" stroke-width="0.8" />
<path d="M216,156 V137 Q218.5,129 221,137 V156 Z" fill="#fff" stroke="#222" stroke-width="0.6" />
<rect x="134" y="66" width="68.6" height="70" fill="url(#pBrick)" stroke="#222" stroke-width="0.6" />
<path d="M145.5,136 V77.25 A8.75,8.75 0 0 1 163,77.25 V136 Z" fill="#fbfbfb" stroke="#222" stroke-width="0.7" />
<path d="M147.1,136 V78.85 A7.15,7.15 0 0 1 161.4,78.85 V136" fill="none" stroke="#888" stroke-width="0.5" />
<path d="M145.5,75.5 H163 M145.5,77 H163" fill="none" stroke="#aaa" stroke-width="0.5" />
<path d="M173.9,136 V77.35 A8.849999999999994,8.849999999999994 0 0 1 191.6,77.35 V136 Z" fill="#fbfbfb" stroke="#222" stroke-width="0.7" />
<path d="M175.5,136 V78.94999999999999 A7.249999999999995,7.249999999999995 0 0 1 190.0,78.94999999999999 V136" fill="none" stroke="#888" stroke-width="0.5" />
<path d="M173.9,75.5 H191.6 M173.9,77 H191.6" fill="none" stroke="#aaa" stroke-width="0.5" />
<path d="M161,105 Q163,100 163,92 M176,105 Q174,100 174,92" fill="none" stroke="#555" stroke-width="0.5" />
<rect x="161" y="105" width="15" height="31" fill="url(#pBrick)" stroke="#444" stroke-width="0.5" />
<path d="M182.8,89 Q178.5,89.5 178.5,93 V96 Q176.5,98 177,101 L178,104 Q175.5,110 175.5,117 L190,117 Q190,110 187.5,104 L188.5,101 Q189,98 187,96 V93 Q187,89.5 182.8,89 Z" fill="#fff" stroke="#333" stroke-width="0.6" />
<path d="M177.5,104 H188 M176,112 H189.5 M182.8,117 V129 M181,125 h4" fill="none" stroke="#555" stroke-width="0.5" />
<path d="M180.5,92 h4 v6 h-4 Z" fill="none" stroke="#777" stroke-width="0.4" />
<path d="M131.4,60.7 Q152,54 168.4,40.8 Q185,54 205.6,60.7 Z" fill="url(#pTile)" stroke="#222" stroke-width="0.8" />
<path d="M129.5,59.6 Q168.4,54.5 207.3,59.6 L206.5,65 Q168.4,66 130.3,65 Z" fill="url(#pDent)" stroke="#222" stroke-width="0.6" />
<circle cx="168.4" cy="41.3" r="1.3" fill="#fff" stroke="#222" stroke-width="0.6"/>
<rect x="118.7" y="76.3" width="38" height="59.5" fill="url(#pBrick2)" stroke="#222" stroke-width="0.6" />
<path d="M118.7,76.3 H156.7 V84.2 H118.7 Z" fill="#959595" stroke="#222" stroke-width="0.6" />
<path d="M118.7,84.2 l1.25,-1.8 l1.25,1.8 l1.25,-1.8 l1.25,1.8 l1.25,-1.8 l1.25,1.8 l1.25,-1.8 l1.25,1.8 l1.25,-1.8 l1.25,1.8 l1.25,-1.8 l1.25,1.8 l1.25,-1.8 l1.25,1.8 l1.25,-1.8 l1.25,1.8 l1.25,-1.8 l1.25,1.8 l1.25,-1.8 l1.25,1.8 l1.25,-1.8 l1.25,1.8 l1.25,-1.8 l1.25,1.8 l1.25,-1.8 l1.25,1.8 l1.25,-1.8 l1.25,1.8 l1.25,-1.8 l1.25,1.8" fill="#fff" stroke="#444" stroke-width="0.45" />
<path d="M118.7,78.6 H156.7" fill="none" stroke="#c8c8c8" stroke-width="0.8" stroke-dasharray="0.8 0.7"/>
<path d="M118.7,80 H156.7" fill="none" stroke="#888" stroke-width="0.8" />
<path d="M123.7,131.7 V91.29999999999998 A4.999999999999993,4.999999999999993 0 0 1 133.7,91.29999999999998 V131.7 Z" fill="#fafafa" stroke="#222" stroke-width="0.7" />
<path d="M126.69999999999999,97 h4 l0.5,4 h-5 Z M126.19999999999999,101 h5 l1,8 h-7 Z M125.69999999999999,113 h6 l1,5 h-8 Z" fill="#eee" stroke="#555" stroke-width="0.45" />
<path d="M125.19999999999999,109 h7 M128.7,118 V130" fill="none" stroke="#555" stroke-width="0.5" />
<rect x="124.69999999999999" y="114.6" width="8" height="2.2" fill="#8a8a8a" stroke="none" stroke-width="0.6" />
<path d="M139.5,132.5 V91.05 A4.75,4.75 0 0 1 149,91.05 V132.5 Z" fill="#fafafa" stroke="#222" stroke-width="0.7" />
<path d="M142.25,97 h4 l0.5,4 h-5 Z M141.75,101 h5 l1,8 h-7 Z M141.25,113 h6 l1,5 h-8 Z" fill="#eee" stroke="#555" stroke-width="0.45" />
<path d="M140.75,109 h7 M144.25,118 V130" fill="none" stroke="#555" stroke-width="0.5" />
<rect x="140.25" y="114.6" width="8" height="2.2" fill="#8a8a8a" stroke="none" stroke-width="0.6" />
<path d="M112,135.8 H222" fill="none" stroke="#222" stroke-width="0.7" />
<path d="M117,245.5 Q124,233 141,224.5 Q166,223 190,224.5 Q207,233 216.5,244.5 L216.5,246 L117,246 Z" fill="url(#pTile)" stroke="#222" stroke-width="0.7" />
<path d="M141,224.5 Q166,222 190,224.5" fill="none" stroke="#555" stroke-width="0.9" stroke-dasharray="1.5 0.8"/>
<rect x="116.8" y="246" width="99.9" height="101" fill="url(#pBrick2)" stroke="#222" stroke-width="0.6" />
<rect x="116.8" y="246" width="17.7" height="101" fill="url(#pStone2)" stroke="none" stroke-width="0.6" />
<rect x="203" y="246" width="13.7" height="101" fill="url(#pStone2)" stroke="none" stroke-width="0.6" />
<path d="M116.8,246 V347 M134.5,246 V347 M142,246 V347 M196,246 V347 M203,246 V347 M216.7,246 V347" fill="none" stroke="#444" stroke-width="0.6" />
<path d="M161.5,283.3 V258.9 A6.3,6.3 0 0 1 174.1,258.9 V283.3 Z" fill="#fff" stroke="#222" stroke-width="0.9" />
<path d="M163.8,347 V291 A4.95,4.95 0 0 1 173.7,291 V347 Z" fill="#f0f0f0" stroke="#222" stroke-width="0.7" />
<path d="M118.2,286 V257.4 A2.4,2.4 0 0 1 123,257.4 V286 Z" fill="#fff" stroke="#222" stroke-width="0.7" />
<path d="M213.3,282.6 V255.2 A1.35,1.35 0 0 1 216,255.2 V282.6 Z" fill="#fff" stroke="#222" stroke-width="0.6" />
<path d="M216.7,230 L221,230 L269,265 L269,342 L234,347 L216.7,347 Z" fill="url(#pStone1)" stroke="#222" stroke-width="0.6" />
<rect x="258" y="262" width="11" height="80" fill="#ededed" stroke="none" stroke-width="0.6" />
<path d="M258,262 V342" fill="none" stroke="#555" stroke-width="0.5" />
<path d="M239.4,298 V277 A1,1 0 0 1 241.4,277 V298 Z" fill="#fff" stroke="#222" stroke-width="0.5" />
<path d="M227,194 L265,194 L298,226 L298,232 L227,232 Z" fill="url(#pTile)" stroke="#222" stroke-width="0.8" />
<rect x="259" y="226" width="39" height="6" fill="url(#pDent)" stroke="#222" stroke-width="0.5" />
<rect x="228" y="204" width="30.6" height="24" fill="url(#pTileD)" stroke="#222" stroke-width="0.6" />
<rect x="228" y="204" width="30.6" height="3" fill="#555" stroke="none" stroke-width="0.6" />
<path d="M227,228 L259,228 L259,259 L227,238 Z" fill="url(#pStone2)" stroke="none" stroke-width="0.6" />
<rect x="220.4" y="193" width="6.6" height="39" fill="#fff" stroke="#222" stroke-width="0.5" />
<path d="M220.4,194.5 h6.6 M220.4,196.8 h6.6 M220.4,199.1 h6.6 M220.4,201.4 h6.6 M220.4,203.7 h6.6 M220.4,206.0 h6.6 M220.4,208.3 h6.6 M220.4,210.6 h6.6 M220.4,212.9 h6.6 M220.4,215.2 h6.6 M220.4,217.5 h6.6 M220.4,219.8 h6.6 M220.4,222.1 h6.6 M220.4,224.4 h6.6 M220.4,226.7 h6.6 M220.4,229.0 h6.6 M220.4,231.3 h6.6" fill="none" stroke="#222" stroke-width="1.0" />
<path d="M259,232 L294,232 L294,347 L286,347 L269,342 L269,265 L259,258 Z" fill="url(#pStone2)" stroke="#222" stroke-width="0.6" />
<path d="M272.6,253 V239.7 A3.7,3.7 0 0 1 280,239.7 V253 Z" fill="#fff" stroke="#222" stroke-width="0.7" />
<path d="M215,230 L269,265 M216.7,233.8 L269,268.5" fill="none" stroke="#222" stroke-width="0.8" />
<path d="M259,244 L295,270 M259,247.8 L294,273.5" fill="none" stroke="#222" stroke-width="0.8" />
<path d="M269,268.5 L289,300 L289,342 L269,342 Z" fill="url(#pStone2)" stroke="none" stroke-width="0.6" />
<path d="M269,268.5 L289,300" fill="none" stroke="#444" stroke-width="0.6" />
<rect x="289" y="300" width="3.4" height="34" fill="#333" stroke="#111" stroke-width="0.5" />
<path d="M269,341 V312.5 A3.5,3.5 0 0 1 276,312.5 V341 Z" fill="#fafafa" stroke="#222" stroke-width="0.6" />
<path d="M281,347 V309.5 A2.5,2.5 0 0 1 286,309.5 V347 Z" fill="#fafafa" stroke="#222" stroke-width="0.6" />
<path d="M293.3,250 V348 M295,250 V348" fill="none" stroke="#444" stroke-width="0.6" />
<circle cx="295" cy="271.5" r="1.3" fill="#fff" stroke="#333" stroke-width="0.5"/>
<rect x="286" y="347" width="14" height="6" fill="#fff" stroke="#222" stroke-width="0.6" />
<path d="M286.5,353 V362" fill="none" stroke="#333" stroke-width="0.6" />
<path d="M44,368 L56,358.3 H92.5 L113,348.7 H117.4 L117.4,347 H234 Q260,345 283,342" fill="none" stroke="#222" stroke-width="0.8" />
<path d="M65.6,334 L78.4,332.5 L108.8,327 L117.4,327 L117.4,348.7 L113,348.7 L92.5,358 L65.6,358 Z" fill="#2fa8dc" stroke="none" stroke-width="0.6" opacity="0.95"/>
<path d="M186.8,339 L234,335 L234,347 L186.8,347 Z" fill="#2fa8dc" stroke="none" stroke-width="0.6" opacity="0.95"/>
<path d="M173,347 V343.5 Q174.5,338.4 180,338.4 Q185.5,339 186.8,347 Z" fill="#3cc43c" stroke="none" stroke-width="0.6" />
<path d="M173.7,293.7 Q169,294 168.7,302 Q169,311 173.7,311 Z" fill="#3cc43c" stroke="none" stroke-width="0.6" />
<rect x="117" y="286" width="2.6" height="30" fill="#f2b27a" stroke="none" stroke-width="0.6" />
<path d="M243,260 Q246.5,270 243,280 Q239.5,270 243,260 Z" fill="#f5c08e" stroke="none" stroke-width="0.6" />
<path d="M136.4,203 L139.6,203 L138,206.2 Z M138,205 V207.2" fill="#2e9e3e" stroke="#2e9e3e" stroke-width="0.6"/>
<path d="M119.2,219.5 L122.39999999999999,219.5 L120.8,222.7 Z M120.8,221.5 V223.7" fill="#2e9e3e" stroke="#2e9e3e" stroke-width="0.6"/>
<path d="M119.2,238.5 L122.39999999999999,238.5 L120.8,241.7 Z M120.8,240.5 V242.7" fill="#2e9e3e" stroke="#2e9e3e" stroke-width="0.6"/>
<path d="M146.3,232.5 L149.5,232.5 L147.9,235.7 Z M147.9,234.5 V236.7" fill="#2e9e3e" stroke="#2e9e3e" stroke-width="0.6"/>
<path d="M239.9,239 L243.1,239 L241.5,242.2 Z M241.5,241 V243.2" fill="#2e9e3e" stroke="#2e9e3e" stroke-width="0.6"/>
<path d="M158.0,146 L161.2,146 L159.6,149.2 Z M159.6,148 V150.2" fill="#2e9e3e" stroke="#2e9e3e" stroke-width="0.6"/>
<text x="56" y="344.5" font-size="6" fill="#2fa8dc" textLength="8.14" lengthAdjust="spacingAndGlyphs">D_8</text>
<text x="215" y="354.5" font-size="6" fill="#2fa8dc" textLength="10.61" lengthAdjust="spacingAndGlyphs">D_14</text>
<text x="156.2" y="296.2" font-size="6.6" fill="#2a9a2a" textLength="8.96" lengthAdjust="spacingAndGlyphs">D_9</text>
<text x="174.5" y="304.2" font-size="6.6" fill="#2a9a2a" textLength="11.68" lengthAdjust="spacingAndGlyphs">D_10</text>
<text x="122.9" y="231" font-size="7.4" fill="#1e8a1e" textLength="13.09" lengthAdjust="spacingAndGlyphs">D_15</text>
</g>
<g id="thermal">
<clipPath id="tBody"><path d="M315,158.8 H393.6 V341.2 H420.9 V403.6 H315 Z M315,163.8 A20,20 0 0 1 335.3,183.3 V242.4 H315 Z M346.8,242.4 V182.8 A18.35,18.35 0 0 1 383.5,182.8 V242.4 Z M315,247.4 A20,20 0 0 1 335.3,266.9 V323.6 H315 Z M346.8,323.6 V266.4 A18.35,18.35 0 0 1 383.5,266.4 V323.6 Z M315,328.6 A20,20 0 0 1 335.3,348.1 L333.6,353.6 V403.6 H315 Z M348.4,403.6 V353.6 L346.8,347.6 A18.35,18.35 0 0 1 383.5,347.6 V403.6 Z M400.4,403.6 V353.5 H406 V403.6 Z" clip-rule="evenodd"/></clipPath>
<path d="M315,158.8 H393.6 V341.2 H420.9 V403.6 H315 Z M315,163.8 A20,20 0 0 1 335.3,183.3 V242.4 H315 Z M346.8,242.4 V182.8 A18.35,18.35 0 0 1 383.5,182.8 V242.4 Z M315,247.4 A20,20 0 0 1 335.3,266.9 V323.6 H315 Z M346.8,323.6 V266.4 A18.35,18.35 0 0 1 383.5,266.4 V323.6 Z M315,328.6 A20,20 0 0 1 335.3,348.1 L333.6,353.6 V403.6 H315 Z M348.4,403.6 V353.6 L346.8,347.6 A18.35,18.35 0 0 1 383.5,347.6 V403.6 Z M400.4,403.6 V353.5 H406 V403.6 Z" fill="#ff0000" fill-rule="evenodd"/>
<g clip-path="url(#tBody)">
<path d="M430,150 H377.00 V158.8 L377.00,158.80 L377.11,160.30 L377.42,161.80 L377.91,163.30 L378.54,164.80 L379.27,166.30 L380.05,167.80 L380.83,169.30 L381.59,170.80 L382.28,172.30 L382.89,173.80 L383.40,175.30 L383.82,176.80 L384.16,178.30 L384.41,179.80 L384.60,181.30 L384.74,182.80 L384.83,184.30 L384.89,185.80 L384.93,187.30 L384.96,188.80 L384.98,190.30 L384.99,191.80 L384.99,193.30 L385.00,194.80 L385.00,196.30 L385.00,197.80 L385.00,199.30 L385.00,200.80 L385.00,202.30 L385.00,203.80 L385.00,205.30 L385.00,206.80 L385.00,208.30 L385.00,209.80 L385.00,211.30 L385.00,212.80 L385.00,214.30 L385.00,215.80 L385.00,217.30 L385.00,218.80 L385.00,220.30 L385.00,221.80 L385.00,223.30 L385.00,224.80 L385.00,226.30 L384.99,227.80 L384.98,229.30 L384.96,230.80 L384.92,232.30 L384.86,233.80 L384.77,235.30 L384.62,236.80 L384.41,238.30 L384.12,239.80 L383.75,241.30 L383.29,242.80 L382.77,244.30 L382.22,245.80 L381.68,247.30 L381.22,248.80 L380.89,250.30 L380.72,251.80 L380.73,253.30 L380.94,254.80 L381.31,256.30 L381.79,257.80 L382.33,259.30 L382.88,260.80 L383.39,262.30 L383.83,263.80 L384.19,265.30 L384.46,266.80 L384.66,268.30 L384.79,269.80 L384.88,271.30 L384.93,272.80 L384.96,274.30 L384.98,275.80 L384.99,277.30 L385.00,278.80 L385.00,280.30 L385.00,281.80 L385.00,283.30 L385.00,284.80 L385.00,286.30 L385.00,287.80 L385.00,289.30 L385.00,290.80 L385.00,292.30 L385.00,293.80 L385.00,295.30 L385.00,296.80 L385.00,298.30 L385.00,299.80 L385.00,301.30 L385.00,302.80 L385.00,304.30 L385.00,305.80 L385.00,307.30 L384.99,308.80 L384.98,310.30 L384.96,311.80 L384.93,313.30 L384.87,314.80 L384.78,316.30 L384.65,317.80 L384.44,319.30 L384.16,320.80 L383.80,322.30 L383.35,323.80 L382.84,325.30 L382.29,326.80 L381.75,328.30 L381.28,329.80 L380.92,331.30 L380.73,332.80 L380.72,334.30 L380.90,335.80 L381.25,337.30 L381.72,338.80 L382.26,340.30 L382.59,341.20 L385.0,343.2 H430 Z" fill="#ff9a00"/>
<path d="M391.6,300 V341.2 L393.60,357.31 L394.35,356.43 L395.10,355.62 L395.85,355.20 L396.60,355.35 L397.35,355.94 L398.10,356.62 L398.85,356.98 L399.60,356.77 L400.35,355.98 L401.10,354.79 L401.85,353.54 L402.60,352.64 L403.35,352.42 L404.10,352.94 L404.85,354.04 L405.60,355.38 L406.35,356.61 L407.10,357.54 L407.85,358.13 L408.60,358.45 L409.35,358.61 L410.10,358.67 L410.85,358.69 L411.60,358.70 L412.35,358.70 L413.10,358.69 L413.85,358.66 L414.60,358.57 L415.35,358.37 L416.10,357.94 L416.85,357.11 L417.60,355.73 L418.35,353.72 L419.10,351.22 L419.85,348.64 L420.60,346.57 L421.35,345.60 L422.10,346.03 L422.85,347.71 H430 V300 Z" fill="#ff9a00"/>
<ellipse cx="393.6" cy="341.2" rx="8.6" ry="16.62" fill="#ff9a00"/>
<path d="M430,150 H380.98 V158.8 L380.98,158.80 L381.05,160.30 L381.24,161.80 L381.55,163.30 L381.95,164.80 L382.40,166.30 L382.89,167.80 L383.39,169.30 L383.86,170.80 L384.29,172.30 L384.68,173.80 L385.00,175.30 L385.26,176.80 L385.47,178.30 L385.63,179.80 L385.75,181.30 L385.83,182.80 L385.89,184.30 L385.93,185.80 L385.96,187.30 L385.98,188.80 L385.99,190.30 L385.99,191.80 L386.00,193.30 L386.00,194.80 L386.00,196.30 L386.00,197.80 L386.00,199.30 L386.00,200.80 L386.00,202.30 L386.00,203.80 L386.00,205.30 L386.00,206.80 L386.00,208.30 L386.00,209.80 L386.00,211.30 L386.00,212.80 L386.00,214.30 L386.00,215.80 L386.00,217.30 L386.00,218.80 L386.00,220.30 L386.00,221.80 L386.00,223.30 L386.00,224.80 L386.00,226.30 L385.99,227.80 L385.98,229.30 L385.97,230.80 L385.94,232.30 L385.89,233.80 L385.82,235.30 L385.70,236.80 L385.53,238.30 L385.30,239.80 L385.00,241.30 L384.64,242.80 L384.23,244.30 L383.79,245.80 L383.36,247.30 L383.00,248.80 L382.73,250.30 L382.59,251.80 L382.61,253.30 L382.77,254.80 L383.06,256.30 L383.45,257.80 L383.88,259.30 L384.31,260.80 L384.72,262.30 L385.07,263.80 L385.35,265.30 L385.57,266.80 L385.73,268.30 L385.83,269.80 L385.90,271.30 L385.95,272.80 L385.97,274.30 L385.99,275.80 L385.99,277.30 L386.00,278.80 L386.00,280.30 L386.00,281.80 L386.00,283.30 L386.00,284.80 L386.00,286.30 L386.00,287.80 L386.00,289.30 L386.00,290.80 L386.00,292.30 L386.00,293.80 L386.00,295.30 L386.00,296.80 L386.00,298.30 L386.00,299.80 L386.00,301.30 L386.00,302.80 L386.00,304.30 L386.00,305.80 L386.00,307.30 L385.99,308.80 L385.98,310.30 L385.97,311.80 L385.94,313.30 L385.90,314.80 L385.83,316.30 L385.72,317.80 L385.56,319.30 L385.34,320.80 L385.05,322.30 L384.69,323.80 L384.28,325.30 L383.85,326.80 L383.42,328.30 L383.04,329.80 L382.76,331.30 L382.60,332.80 L382.60,334.30 L382.74,335.80 L383.02,337.30 L383.39,338.80 L383.82,340.30 L384.08,341.20 L386.0,343.2 H430 Z" fill="#ffff00"/>
<path d="M391.6,300 V341.2 L393.60,353.44 L394.35,352.78 L395.10,352.16 L395.85,351.84 L396.60,351.95 L397.35,352.41 L398.10,352.92 L398.85,353.19 L399.60,353.03 L400.35,352.43 L401.10,351.53 L401.85,350.58 L402.60,349.90 L403.35,349.72 L404.10,350.12 L404.85,350.96 L405.60,351.98 L406.35,352.91 L407.10,353.62 L407.85,354.07 L408.60,354.31 L409.35,354.43 L410.10,354.48 L410.85,354.49 L411.60,354.50 L412.35,354.50 L413.10,354.49 L413.85,354.47 L414.60,354.40 L415.35,354.25 L416.10,353.92 L416.85,353.29 L417.60,352.24 L418.35,350.71 L419.10,348.82 L419.85,346.85 L420.60,345.28 L421.35,344.55 L422.10,344.87 L422.85,346.15 H430 V300 Z" fill="#ffff00"/>
<ellipse cx="393.6" cy="341.2" rx="7.6" ry="12.63" fill="#ffff00"/>
<path d="M430,150 H383.50 V158.8 L383.50,158.80 L383.55,160.30 L383.68,161.80 L383.90,163.30 L384.17,164.80 L384.49,166.30 L384.83,167.80 L385.18,169.30 L385.51,170.80 L385.81,172.30 L386.08,173.80 L386.30,175.30 L386.49,176.80 L386.63,178.30 L386.74,179.80 L386.83,181.30 L386.88,182.80 L386.93,184.30 L386.95,185.80 L386.97,187.30 L386.98,188.80 L386.99,190.30 L386.99,191.80 L387.00,193.30 L387.00,194.80 L387.00,196.30 L387.00,197.80 L387.00,199.30 L387.00,200.80 L387.00,202.30 L387.00,203.80 L387.00,205.30 L387.00,206.80 L387.00,208.30 L387.00,209.80 L387.00,211.30 L387.00,212.80 L387.00,214.30 L387.00,215.80 L387.00,217.30 L387.00,218.80 L387.00,220.30 L387.00,221.80 L387.00,223.30 L387.00,224.80 L387.00,226.30 L387.00,227.80 L386.99,229.30 L386.98,230.80 L386.97,232.30 L386.95,233.80 L386.91,235.30 L386.86,236.80 L386.77,238.30 L386.66,239.80 L386.52,241.30 L386.34,242.80 L386.14,244.30 L385.93,245.80 L385.73,247.30 L385.55,248.80 L385.42,250.30 L385.36,251.80 L385.36,253.30 L385.44,254.80 L385.58,256.30 L385.77,257.80 L385.98,259.30 L386.19,260.80 L386.38,262.30 L386.55,263.80 L386.69,265.30 L386.79,266.80 L386.87,268.30 L386.92,269.80 L386.95,271.30 L386.97,272.80 L386.99,274.30 L386.99,275.80 L387.00,277.30 L387.00,278.80 L387.00,280.30 L387.00,281.80 L387.00,283.30 L387.00,284.80 L387.00,286.30 L387.00,287.80 L387.00,289.30 L387.00,290.80 L387.00,292.30 L387.00,293.80 L387.00,295.30 L387.00,296.80 L387.00,298.30 L387.00,299.80 L387.00,301.30 L387.00,302.80 L387.00,304.30 L387.00,305.80 L387.00,307.30 L387.00,308.80 L386.99,310.30 L386.99,311.80 L386.97,313.30 L386.95,314.80 L386.92,316.30 L386.86,317.80 L386.79,319.30 L386.68,320.80 L386.54,322.30 L386.37,323.80 L386.17,325.30 L385.96,326.80 L385.75,328.30 L385.57,329.80 L385.44,331.30 L385.36,332.80 L385.36,334.30 L385.43,335.80 L385.56,337.30 L385.74,338.80 L385.95,340.30 L386.07,341.20 L387.0,343.2 H430 Z" fill="#a0ff00"/>
<path d="M391.6,300 V341.2 L393.60,351.14 L394.35,350.60 L395.10,350.10 L395.85,349.84 L396.60,349.93 L397.35,350.30 L398.10,350.72 L398.85,350.94 L399.60,350.81 L400.35,350.32 L401.10,349.58 L401.85,348.82 L402.60,348.26 L403.35,348.12 L404.10,348.45 L404.85,349.13 L405.60,349.95 L406.35,350.71 L407.10,351.28 L407.85,351.65 L408.60,351.85 L409.35,351.94 L410.10,351.98 L410.85,351.99 L411.60,352.00 L412.35,352.00 L413.10,351.99 L413.85,351.97 L414.60,351.92 L415.35,351.80 L416.10,351.53 L416.85,351.02 L417.60,350.17 L418.35,348.93 L419.10,347.38 L419.85,345.79 L420.60,344.52 L421.35,343.92 L422.10,344.18 L422.85,345.22 H430 V300 Z" fill="#a0ff00"/>
<ellipse cx="393.6" cy="341.2" rx="6.6" ry="10.26" fill="#a0ff00"/>
<path d="M430,150 H385.50 V158.8 L385.50,158.80 L385.54,160.30 L385.64,161.80 L385.80,163.30 L386.02,164.80 L386.26,166.30 L386.53,167.80 L386.79,169.30 L387.05,170.80 L387.28,172.30 L387.49,173.80 L387.66,175.30 L387.80,176.80 L387.92,178.30 L388.00,179.80 L388.06,181.30 L388.11,182.80 L388.14,184.30 L388.16,185.80 L388.18,187.30 L388.19,188.80 L388.19,190.30 L388.20,191.80 L388.20,193.30 L388.20,194.80 L388.20,196.30 L388.20,197.80 L388.20,199.30 L388.20,200.80 L388.20,202.30 L388.20,203.80 L388.20,205.30 L388.20,206.80 L388.20,208.30 L388.20,209.80 L388.20,211.30 L388.20,212.80 L388.20,214.30 L388.20,215.80 L388.20,217.30 L388.20,218.80 L388.20,220.30 L388.20,221.80 L388.20,223.30 L388.20,224.80 L388.20,226.30 L388.20,227.80 L388.19,229.30 L388.19,230.80 L388.18,232.30 L388.16,233.80 L388.13,235.30 L388.08,236.80 L388.02,238.30 L387.92,239.80 L387.81,241.30 L387.66,242.80 L387.50,244.30 L387.33,245.80 L387.16,247.30 L387.01,248.80 L386.91,250.30 L386.85,251.80 L386.86,253.30 L386.93,254.80 L387.04,256.30 L387.19,257.80 L387.36,259.30 L387.53,260.80 L387.69,262.30 L387.83,263.80 L387.94,265.30 L388.03,266.80 L388.09,268.30 L388.13,269.80 L388.16,271.30 L388.18,272.80 L388.19,274.30 L388.19,275.80 L388.20,277.30 L388.20,278.80 L388.20,280.30 L388.20,281.80 L388.20,283.30 L388.20,284.80 L388.20,286.30 L388.20,287.80 L388.20,289.30 L388.20,290.80 L388.20,292.30 L388.20,293.80 L388.20,295.30 L388.20,296.80 L388.20,298.30 L388.20,299.80 L388.20,301.30 L388.20,302.80 L388.20,304.30 L388.20,305.80 L388.20,307.30 L388.20,308.80 L388.19,310.30 L388.19,311.80 L388.18,313.30 L388.16,314.80 L388.13,316.30 L388.09,317.80 L388.03,319.30 L387.94,320.80 L387.82,322.30 L387.68,323.80 L387.52,325.30 L387.35,326.80 L387.18,328.30 L387.03,329.80 L386.92,331.30 L386.86,332.80 L386.86,334.30 L386.91,335.80 L387.02,337.30 L387.17,338.80 L387.34,340.30 L387.44,341.20 L388.20000000000005,343.2 H430 Z" fill="#00ff00"/>
<path d="M391.6,300 V341.2 L393.60,349.76 L394.35,349.30 L395.10,348.86 L395.85,348.64 L396.60,348.72 L397.35,349.04 L398.10,349.40 L398.85,349.58 L399.60,349.47 L400.35,349.05 L401.10,348.42 L401.85,347.76 L402.60,347.28 L403.35,347.16 L404.10,347.44 L404.85,348.03 L405.60,348.73 L406.35,349.39 L407.10,349.88 L407.85,350.20 L408.60,350.37 L409.35,350.45 L410.10,350.48 L410.85,350.49 L411.60,350.50 L412.35,350.50 L413.10,350.49 L413.85,350.48 L414.60,350.43 L415.35,350.33 L416.10,350.10 L416.85,349.66 L417.60,348.92 L418.35,347.85 L419.10,346.53 L419.85,345.15 L420.60,344.06 L421.35,343.54 L422.10,343.77 L422.85,344.66 H430 V300 Z" fill="#00ff00"/>
<ellipse cx="393.6" cy="341.2" rx="5.4" ry="8.84" fill="#00ff00"/>
<path d="M430,150 H387.00 V158.8 L387.00,158.80 L387.03,160.30 L387.11,161.80 L387.25,163.30 L387.42,164.80 L387.62,166.30 L387.84,167.80 L388.05,169.30 L388.26,170.80 L388.45,172.30 L388.62,173.80 L388.76,175.30 L388.88,176.80 L388.97,178.30 L389.04,179.80 L389.09,181.30 L389.13,182.80 L389.15,184.30 L389.17,185.80 L389.18,187.30 L389.19,188.80 L389.19,190.30 L389.20,191.80 L389.20,193.30 L389.20,194.80 L389.20,196.30 L389.20,197.80 L389.20,199.30 L389.20,200.80 L389.20,202.30 L389.20,203.80 L389.20,205.30 L389.20,206.80 L389.20,208.30 L389.20,209.80 L389.20,211.30 L389.20,212.80 L389.20,214.30 L389.20,215.80 L389.20,217.30 L389.20,218.80 L389.20,220.30 L389.20,221.80 L389.20,223.30 L389.20,224.80 L389.20,226.30 L389.20,227.80 L389.20,229.30 L389.20,230.80 L389.19,232.30 L389.19,233.80 L389.18,235.30 L389.16,236.80 L389.14,238.30 L389.11,239.80 L389.07,241.30 L389.02,242.80 L388.97,244.30 L388.92,245.80 L388.86,247.30 L388.81,248.80 L388.78,250.30 L388.76,251.80 L388.76,253.30 L388.78,254.80 L388.82,256.30 L388.87,257.80 L388.93,259.30 L388.98,260.80 L389.03,262.30 L389.08,263.80 L389.12,265.30 L389.14,266.80 L389.16,268.30 L389.18,269.80 L389.19,271.30 L389.19,272.80 L389.20,274.30 L389.20,275.80 L389.20,277.30 L389.20,278.80 L389.20,280.30 L389.20,281.80 L389.20,283.30 L389.20,284.80 L389.20,286.30 L389.20,287.80 L389.20,289.30 L389.20,290.80 L389.20,292.30 L389.20,293.80 L389.20,295.30 L389.20,296.80 L389.20,298.30 L389.20,299.80 L389.20,301.30 L389.20,302.80 L389.20,304.30 L389.20,305.80 L389.20,307.30 L389.20,308.80 L389.20,310.30 L389.20,311.80 L389.19,313.30 L389.19,314.80 L389.18,316.30 L389.16,317.80 L389.14,319.30 L389.11,320.80 L389.08,322.30 L389.03,323.80 L388.98,325.30 L388.92,326.80 L388.87,328.30 L388.82,329.80 L388.78,331.30 L388.76,332.80 L388.76,334.30 L388.78,335.80 L388.82,337.30 L388.86,338.80 L388.92,340.30 L388.95,341.20 L389.20000000000005,343.2 H430 Z" fill="#00ff9a"/>
<path d="M391.6,300 V341.2 L393.60,347.46 L394.35,347.12 L395.10,346.80 L395.85,346.64 L396.60,346.70 L397.35,346.93 L398.10,347.19 L398.85,347.33 L399.60,347.25 L400.35,346.94 L401.10,346.48 L401.85,346.00 L402.60,345.65 L403.35,345.56 L404.10,345.76 L404.85,346.19 L405.60,346.71 L406.35,347.19 L407.10,347.55 L407.85,347.78 L408.60,347.90 L409.35,347.96 L410.10,347.99 L410.85,348.00 L411.60,348.00 L412.35,348.00 L413.10,347.99 L413.85,347.98 L414.60,347.95 L415.35,347.87 L416.10,347.70 L416.85,347.38 L417.60,346.85 L418.35,346.06 L419.10,345.09 L419.85,344.09 L420.60,343.29 L421.35,342.91 L422.10,343.08 L422.85,343.73 H430 V300 Z" fill="#00ff9a"/>
<ellipse cx="393.6" cy="341.2" rx="4.4" ry="6.46" fill="#00ff9a"/>
<path d="M430,150 H388.16 V158.8 L388.16,158.80 L388.19,160.30 L388.27,161.80 L388.39,163.30 L388.55,164.80 L388.74,166.30 L388.94,167.80 L389.14,169.30 L389.33,170.80 L389.51,172.30 L389.66,173.80 L389.79,175.30 L389.90,176.80 L389.98,178.30 L390.05,179.80 L390.10,181.30 L390.13,182.80 L390.16,184.30 L390.17,185.80 L390.18,187.30 L390.19,188.80 L390.19,190.30 L390.20,191.80 L390.20,193.30 L390.20,194.80 L390.20,196.30 L390.20,197.80 L390.20,199.30 L390.20,200.80 L390.20,202.30 L390.20,203.80 L390.20,205.30 L390.20,206.80 L390.20,208.30 L390.20,209.80 L390.20,211.30 L390.20,212.80 L390.20,214.30 L390.20,215.80 L390.20,217.30 L390.20,218.80 L390.20,220.30 L390.20,221.80 L390.20,223.30 L390.20,224.80 L390.20,226.30 L390.20,227.80 L390.20,229.30 L390.20,230.80 L390.20,232.30 L390.19,233.80 L390.19,235.30 L390.19,236.80 L390.18,238.30 L390.17,239.80 L390.15,241.30 L390.13,242.80 L390.11,244.30 L390.09,245.80 L390.07,247.30 L390.05,248.80 L390.04,250.30 L390.03,251.80 L390.03,253.30 L390.04,254.80 L390.05,256.30 L390.07,257.80 L390.09,259.30 L390.12,260.80 L390.14,262.30 L390.15,263.80 L390.17,265.30 L390.18,266.80 L390.19,268.30 L390.19,269.80 L390.20,271.30 L390.20,272.80 L390.20,274.30 L390.20,275.80 L390.20,277.30 L390.20,278.80 L390.20,280.30 L390.20,281.80 L390.20,283.30 L390.20,284.80 L390.20,286.30 L390.20,287.80 L390.20,289.30 L390.20,290.80 L390.20,292.30 L390.20,293.80 L390.20,295.30 L390.20,296.80 L390.20,298.30 L390.20,299.80 L390.20,301.30 L390.20,302.80 L390.20,304.30 L390.20,305.80 L390.20,307.30 L390.20,308.80 L390.20,310.30 L390.20,311.80 L390.20,313.30 L390.20,314.80 L390.19,316.30 L390.19,317.80 L390.18,319.30 L390.17,320.80 L390.15,322.30 L390.13,323.80 L390.11,325.30 L390.09,326.80 L390.07,328.30 L390.05,329.80 L390.04,331.30 L390.03,332.80 L390.03,334.30 L390.04,335.80 L390.05,337.30 L390.07,338.80 L390.09,340.30 L390.10,341.20 L390.20000000000005,343.2 H430 Z" fill="#00ffff"/>
<path d="M391.6,300 V341.2 L393.60,345.43 L394.35,345.20 L395.10,344.99 L395.85,344.88 L396.60,344.92 L397.35,345.08 L398.10,345.25 L398.85,345.35 L399.60,345.29 L400.35,345.08 L401.10,344.77 L401.85,344.44 L402.60,344.21 L403.35,344.15 L404.10,344.29 L404.85,344.58 L405.60,344.93 L406.35,345.25 L407.10,345.49 L407.85,345.65 L408.60,345.74 L409.35,345.78 L410.10,345.79 L410.85,345.80 L411.60,345.80 L412.35,345.80 L413.10,345.80 L413.85,345.79 L414.60,345.77 L415.35,345.71 L416.10,345.60 L416.85,345.38 L417.60,345.02 L418.35,344.49 L419.10,343.83 L419.85,343.16 L420.60,342.61 L421.35,342.36 L422.10,342.47 L422.85,342.91 H430 V300 Z" fill="#00ffff"/>
<ellipse cx="393.6" cy="341.2" rx="3.4" ry="4.37" fill="#00ffff"/>
<path d="M430,150 H390.08 V158.8 L390.08,158.80 L390.10,160.30 L390.15,161.80 L390.23,163.30 L390.33,164.80 L390.45,166.30 L390.58,167.80 L390.71,169.30 L390.84,170.80 L390.95,172.30 L391.05,173.80 L391.14,175.30 L391.21,176.80 L391.26,178.30 L391.30,179.80 L391.33,181.30 L391.36,182.80 L391.37,184.30 L391.38,185.80 L391.39,187.30 L391.39,188.80 L391.40,190.30 L391.40,191.80 L391.40,193.30 L391.40,194.80 L391.40,196.30 L391.40,197.80 L391.40,199.30 L391.40,200.80 L391.40,202.30 L391.40,203.80 L391.40,205.30 L391.40,206.80 L391.40,208.30 L391.40,209.80 L391.40,211.30 L391.40,212.80 L391.40,214.30 L391.40,215.80 L391.40,217.30 L391.40,218.80 L391.40,220.30 L391.40,221.80 L391.40,223.30 L391.40,224.80 L391.40,226.30 L391.40,227.80 L391.40,229.30 L391.40,230.80 L391.40,232.30 L391.40,233.80 L391.40,235.30 L391.40,236.80 L391.40,238.30 L391.40,239.80 L391.40,241.30 L391.40,242.80 L391.40,244.30 L391.40,245.80 L391.40,247.30 L391.40,248.80 L391.40,250.30 L391.40,251.80 L391.40,253.30 L391.40,254.80 L391.40,256.30 L391.40,257.80 L391.40,259.30 L391.40,260.80 L391.40,262.30 L391.40,263.80 L391.40,265.30 L391.40,266.80 L391.40,268.30 L391.40,269.80 L391.40,271.30 L391.40,272.80 L391.40,274.30 L391.40,275.80 L391.40,277.30 L391.40,278.80 L391.40,280.30 L391.40,281.80 L391.40,283.30 L391.40,284.80 L391.40,286.30 L391.40,287.80 L391.40,289.30 L391.40,290.80 L391.40,292.30 L391.40,293.80 L391.40,295.30 L391.40,296.80 L391.40,298.30 L391.40,299.80 L391.40,301.30 L391.40,302.80 L391.40,304.30 L391.40,305.80 L391.40,307.30 L391.40,308.80 L391.40,310.30 L391.40,311.80 L391.40,313.30 L391.40,314.80 L391.40,316.30 L391.40,317.80 L391.40,319.30 L391.40,320.80 L391.40,322.30 L391.40,323.80 L391.40,325.30 L391.40,326.80 L391.40,328.30 L391.40,329.80 L391.40,331.30 L391.40,332.80 L391.40,334.30 L391.40,335.80 L391.40,337.30 L391.40,338.80 L391.40,340.30 L391.40,341.20 L391.40000000000003,343.2 H430 Z" fill="#0090ff"/>
<path d="M391.6,300 V341.2 L393.60,343.78 L394.35,343.64 L395.10,343.51 L395.85,343.44 L396.60,343.46 L397.35,343.56 L398.10,343.67 L398.85,343.72 L399.60,343.69 L400.35,343.56 L401.10,343.37 L401.85,343.17 L402.60,343.03 L403.35,342.99 L404.10,343.08 L404.85,343.26 L405.60,343.47 L406.35,343.67 L407.10,343.81 L407.85,343.91 L408.60,343.96 L409.35,343.98 L410.10,343.99 L410.85,344.00 L411.60,344.00 L412.35,344.00 L413.10,344.00 L413.85,343.99 L414.60,343.98 L415.35,343.95 L416.10,343.88 L416.85,343.75 L417.60,343.52 L418.35,343.20 L419.10,342.80 L419.85,342.39 L420.60,342.06 L421.35,341.90 L422.10,341.97 L422.85,342.24 H430 V300 Z" fill="#0090ff"/>
<ellipse cx="393.6" cy="341.2" rx="2.2" ry="2.66" fill="#0090ff"/>
<path d="M430,150 H391.78 V158.8 L391.78,158.80 L391.79,160.30 L391.81,161.80 L391.84,163.30 L391.88,164.80 L391.93,166.30 L391.98,167.80 L392.03,169.30 L392.08,170.80 L392.12,172.30 L392.16,173.80 L392.20,175.30 L392.22,176.80 L392.25,178.30 L392.26,179.80 L392.27,181.30 L392.28,182.80 L392.29,184.30 L392.29,185.80 L392.30,187.30 L392.30,188.80 L392.30,190.30 L392.30,191.80 L392.30,193.30 L392.30,194.80 L392.30,196.30 L392.30,197.80 L392.30,199.30 L392.30,200.80 L392.30,202.30 L392.30,203.80 L392.30,205.30 L392.30,206.80 L392.30,208.30 L392.30,209.80 L392.30,211.30 L392.30,212.80 L392.30,214.30 L392.30,215.80 L392.30,217.30 L392.30,218.80 L392.30,220.30 L392.30,221.80 L392.30,223.30 L392.30,224.80 L392.30,226.30 L392.30,227.80 L392.30,229.30 L392.30,230.80 L392.30,232.30 L392.30,233.80 L392.30,235.30 L392.30,236.80 L392.30,238.30 L392.30,239.80 L392.30,241.30 L392.30,242.80 L392.30,244.30 L392.30,245.80 L392.30,247.30 L392.30,248.80 L392.30,250.30 L392.30,251.80 L392.30,253.30 L392.30,254.80 L392.30,256.30 L392.30,257.80 L392.30,259.30 L392.30,260.80 L392.30,262.30 L392.30,263.80 L392.30,265.30 L392.30,266.80 L392.30,268.30 L392.30,269.80 L392.30,271.30 L392.30,272.80 L392.30,274.30 L392.30,275.80 L392.30,277.30 L392.30,278.80 L392.30,280.30 L392.30,281.80 L392.30,283.30 L392.30,284.80 L392.30,286.30 L392.30,287.80 L392.30,289.30 L392.30,290.80 L392.30,292.30 L392.30,293.80 L392.30,295.30 L392.30,296.80 L392.30,298.30 L392.30,299.80 L392.30,301.30 L392.30,302.80 L392.30,304.30 L392.30,305.80 L392.30,307.30 L392.30,308.80 L392.30,310.30 L392.30,311.80 L392.30,313.30 L392.30,314.80 L392.30,316.30 L392.30,317.80 L392.30,319.30 L392.30,320.80 L392.30,322.30 L392.30,323.80 L392.30,325.30 L392.30,326.80 L392.30,328.30 L392.30,329.80 L392.30,331.30 L392.30,332.80 L392.30,334.30 L392.30,335.80 L392.30,337.30 L392.30,338.80 L392.30,340.30 L392.30,341.20 L392.3,343.2 H430 Z" fill="#0000ff"/>
<path d="M391.6,300 V341.2 L393.60,342.49 L394.35,342.42 L395.10,342.35 L395.85,342.32 L396.60,342.33 L397.35,342.38 L398.10,342.43 L398.85,342.46 L399.60,342.45 L400.35,342.38 L401.10,342.29 L401.85,342.19 L402.60,342.12 L403.35,342.10 L404.10,342.14 L404.85,342.23 L405.60,342.33 L406.35,342.43 L407.10,342.51 L407.85,342.55 L408.60,342.58 L409.35,342.59 L410.10,342.60 L410.85,342.60 L411.60,342.60 L412.35,342.60 L413.10,342.60 L413.85,342.60 L414.60,342.59 L415.35,342.57 L416.10,342.54 L416.85,342.47 L417.60,342.36 L418.35,342.20 L419.10,342.00 L419.85,341.80 L420.60,341.63 L421.35,341.55 L422.10,341.59 L422.85,341.72 H430 V300 Z" fill="#0000ff"/>
<ellipse cx="393.6" cy="341.2" rx="1.3" ry="1.33" fill="#0000ff"/>
</g>
<g fill="none" stroke="#8a0000" stroke-width="0.5" opacity="0.6">
<path d="M315,161.8 A22,22 0 0 1 335.3,180.8 M346.8,180.8 A18.35,18.35 0 0 1 383.5,180.8"/>
<path d="M315,245.4 A22,22 0 0 1 335.3,264.4 M346.8,264.4 A18.35,18.35 0 0 1 383.5,264.4"/>
<path d="M315,326.6 A22,22 0 0 1 335.3,345.6 M346.8,345.6 A18.35,18.35 0 0 1 383.5,345.6"/>
<path d="M335.3,158.8 V403.6 M346.8,158.8 V403.6 M410.8,341.2 V403.6"/>
</g>
<path d="M316,160 h3.5 v3.5 h-3.5 Z" fill="#300" opacity="0.8"/>
<path d="M316.5,403.6 H420.9 M420.9,341.2 H443" stroke="#222" stroke-width="1.1" fill="none"/>
<path d="M430.5,341 V326.8 H436.4 M427.3,334 H433.7 L430.5,340.5 Z" stroke="#333" stroke-width="0.6" fill="none"/>
<path d="M393.3,341.2 V158.8" stroke="#0000b0" stroke-width="0.5"/>
<path d="M388,341 h3 v-2.5" stroke="#222" stroke-width="0.8" fill="none"/>
<path d="M376.4,226.5 H398.4 V272.2 H376.4 Z" fill="none" stroke="#111" stroke-width="0.9" stroke-dasharray="1.6 1.2"/>
<path d="M385.5,285.5 L393.5,303.5 V285.5 Z" fill="#e2e2e2" stroke="#555" stroke-width="0.5"/>
<path d="M383.5,280 L385.5,285.5 H383.5 Z" fill="#f4f4f4" stroke="#555" stroke-width="0.4"/>
<path d="M383.5,285.5 H393.5" stroke="#222" stroke-width="0.6"/>
<path d="M401.5,254.8 L434,276.4" stroke="#1a1a1a" stroke-width="2.2"/>
<path d="M441.8,280.8 L435.6,269.4 L431.8,282.4 Z" fill="#1a1a1a"/>
<rect x="500" y="161.2" width="27.6" height="241.6" fill="#ff0000"/>
<path d="M527.6,161.2 H503.70 L503.70,161.2 L503.70,163.2 L503.70,165.2 L503.70,167.2 L503.70,169.2 L503.70,171.2 L503.70,173.2 L503.70,175.2 L503.70,177.2 L503.70,179.2 L503.70,181.2 L503.70,183.2 L503.70,185.2 L503.70,187.2 L503.70,189.2 L503.70,191.2 L503.70,193.2 L503.70,195.2 L503.70,197.2 L503.70,199.2 L503.70,201.2 L503.70,203.2 L503.70,205.2 L503.70,207.2 L503.70,209.2 L503.70,211.2 L503.70,213.2 L503.70,215.2 L503.70,217.2 L503.70,219.2 L503.70,221.2 L503.70,223.2 L503.70,225.2 L503.70,227.2 L503.70,229.2 L503.70,231.2 L503.70,233.2 L503.70,235.2 L503.70,237.2 L503.70,239.2 L503.70,241.2 L503.70,243.2 L503.70,245.2 L503.70,247.2 L503.70,249.2 L503.70,251.2 L503.70,253.2 L503.70,255.2 L503.70,257.2 L503.70,259.2 L503.70,261.2 L502.68,263.2 L501.47,265.2 L500.43,267.2 L500.30,269.2 L500.30,271.2 L500.30,273.2 L500.30,275.2 L500.30,277.2 L500.30,279.2 L500.30,281.2 L500.30,283.2 L500.30,285.2 L500.30,287.2 L500.30,289.2 L500.30,291.2 L500.30,293.2 L500.30,295.2 L500.30,297.2 L500.30,299.2 L500.30,301.2 L500.30,303.2 L500.30,305.2 L500.30,307.2 L500.30,309.2 L500.30,311.2 L500.30,313.2 L500.30,315.2 L500.30,317.2 L500.30,319.2 L500.30,321.2 L500.30,323.2 L500.30,325.2 L500.30,327.2 L500.30,329.2 L500.30,331.2 L500.30,333.2 L500.30,335.2 L500.30,337.2 L500.30,339.2 L500.30,341.2 L500.30,343.2 L500.30,345.2 L500.30,347.2 L500.30,349.2 L500.30,351.2 L500.30,353.2 L500.30,355.2 L500.63,357.2 L501.70,359.2 L502.97,361.2 L503.70,363.2 L503.70,365.2 L503.70,367.2 L503.70,369.2 L503.70,371.2 L503.70,373.2 L503.70,375.2 L503.70,377.2 L503.70,379.2 L503.70,381.2 L503.70,383.2 L503.70,385.2 L503.70,387.2 L503.70,389.2 L503.70,391.2 L503.70,393.2 L503.70,395.2 L503.70,397.2 L503.70,399.2 L503.70,401.2 L503.70,402.8 H527.6 Z" fill="#ff9a00"/>
<path d="M527.6,161.2 H506.00 L506.00,161.2 L506.00,163.2 L506.00,165.2 L506.00,167.2 L506.00,169.2 L506.00,171.2 L506.00,173.2 L506.00,175.2 L506.00,177.2 L506.00,179.2 L506.00,181.2 L506.00,183.2 L506.00,185.2 L506.00,187.2 L506.00,189.2 L506.00,191.2 L506.00,193.2 L506.00,195.2 L506.00,197.2 L506.00,199.2 L506.00,201.2 L506.00,203.2 L506.00,205.2 L506.00,207.2 L506.00,209.2 L506.00,211.2 L506.00,213.2 L506.00,215.2 L506.00,217.2 L506.00,219.2 L506.00,221.2 L506.00,223.2 L506.00,225.2 L506.00,227.2 L506.00,229.2 L506.00,231.2 L506.00,233.2 L506.00,235.2 L506.00,237.2 L506.00,239.2 L506.00,241.2 L506.00,243.2 L506.00,245.2 L506.00,247.2 L506.00,249.2 L506.00,251.2 L506.00,253.2 L506.00,255.2 L506.00,257.2 L506.00,259.2 L506.00,261.2 L505.56,263.2 L505.05,265.2 L504.60,267.2 L504.19,269.2 L503.80,271.2 L503.44,273.2 L503.10,275.2 L502.78,277.2 L502.47,279.2 L502.19,281.2 L501.92,283.2 L501.67,285.2 L501.43,287.2 L501.21,289.2 L501.01,291.2 L500.83,293.2 L500.66,295.2 L500.52,297.2 L500.39,299.2 L500.30,301.2 L500.30,303.2 L500.30,305.2 L500.30,307.2 L500.30,309.2 L500.30,311.2 L500.30,313.2 L500.30,315.2 L500.30,317.2 L500.30,319.2 L500.30,321.2 L500.30,323.2 L500.41,325.2 L500.54,327.2 L500.69,329.2 L500.86,331.2 L501.05,333.2 L501.25,335.2 L501.48,337.2 L501.71,339.2 L501.97,341.2 L502.24,343.2 L502.53,345.2 L502.84,347.2 L503.17,349.2 L503.51,351.2 L503.88,353.2 L504.27,355.2 L504.68,357.2 L505.14,359.2 L505.69,361.2 L506.00,363.2 L506.00,365.2 L506.00,367.2 L506.00,369.2 L506.00,371.2 L506.00,373.2 L506.00,375.2 L506.00,377.2 L506.00,379.2 L506.00,381.2 L506.00,383.2 L506.00,385.2 L506.00,387.2 L506.00,389.2 L506.00,391.2 L506.00,393.2 L506.00,395.2 L506.00,397.2 L506.00,399.2 L506.00,401.2 L506.00,402.8 H527.6 Z" fill="#ffff00"/>
<path d="M527.6,161.2 H509.00 L509.00,161.2 L509.00,163.2 L509.00,165.2 L509.00,167.2 L509.00,169.2 L509.00,171.2 L509.00,173.2 L509.00,175.2 L509.00,177.2 L509.00,179.2 L509.00,181.2 L509.00,183.2 L509.00,185.2 L509.00,187.2 L509.00,189.2 L509.00,191.2 L509.00,193.2 L509.00,195.2 L509.00,197.2 L509.00,199.2 L509.00,201.2 L509.00,203.2 L509.00,205.2 L509.00,207.2 L509.00,209.2 L509.00,211.2 L509.00,213.2 L509.00,215.2 L509.00,217.2 L509.00,219.2 L509.00,221.2 L509.00,223.2 L509.00,225.2 L509.00,227.2 L509.00,229.2 L509.00,231.2 L509.00,233.2 L509.00,235.2 L509.00,237.2 L509.00,239.2 L509.00,241.2 L509.00,243.2 L509.00,245.2 L509.00,247.2 L509.00,249.2 L509.00,251.2 L509.00,253.2 L509.00,255.2 L509.00,257.2 L509.00,259.2 L509.00,261.2 L508.67,263.2 L508.28,265.2 L507.95,267.2 L507.64,269.2 L507.35,271.2 L507.08,273.2 L506.83,275.2 L506.58,277.2 L506.36,279.2 L506.14,281.2 L505.94,283.2 L505.75,285.2 L505.57,287.2 L505.41,289.2 L505.26,291.2 L505.12,293.2 L505.00,295.2 L504.89,297.2 L504.79,299.2 L504.71,301.2 L504.64,303.2 L504.58,305.2 L504.54,307.2 L504.51,309.2 L504.50,311.2 L504.50,313.2 L504.52,315.2 L504.55,317.2 L504.59,319.2 L504.65,321.2 L504.72,323.2 L504.81,325.2 L504.91,327.2 L505.02,329.2 L505.15,331.2 L505.29,333.2 L505.44,335.2 L505.61,337.2 L505.79,339.2 L505.98,341.2 L506.18,343.2 L506.40,345.2 L506.63,347.2 L506.88,349.2 L507.13,351.2 L507.41,353.2 L507.70,355.2 L508.01,357.2 L508.36,359.2 L508.76,361.2 L509.00,363.2 L509.00,365.2 L509.00,367.2 L509.00,369.2 L509.00,371.2 L509.00,373.2 L509.00,375.2 L509.00,377.2 L509.00,379.2 L509.00,381.2 L509.00,383.2 L509.00,385.2 L509.00,387.2 L509.00,389.2 L509.00,391.2 L509.00,393.2 L509.00,395.2 L509.00,397.2 L509.00,399.2 L509.00,401.2 L509.00,402.8 H527.6 Z" fill="#a0ff00"/>
<path d="M527.6,161.2 H512.00 L512.00,161.2 L512.00,163.2 L512.00,165.2 L512.00,167.2 L512.00,169.2 L512.00,171.2 L512.00,173.2 L512.00,175.2 L512.00,177.2 L512.00,179.2 L512.00,181.2 L512.00,183.2 L512.00,185.2 L512.00,187.2 L512.00,189.2 L512.00,191.2 L512.00,193.2 L512.00,195.2 L512.00,197.2 L512.00,199.2 L512.00,201.2 L512.00,203.2 L512.00,205.2 L512.00,207.2 L512.00,209.2 L512.00,211.2 L512.00,213.2 L512.00,215.2 L512.00,217.2 L512.00,219.2 L512.00,221.2 L512.00,223.2 L512.00,225.2 L512.00,227.2 L512.00,229.2 L512.00,231.2 L512.00,233.2 L512.00,235.2 L512.00,237.2 L512.00,239.2 L512.00,241.2 L512.00,243.2 L512.00,245.2 L512.00,247.2 L512.00,249.2 L512.00,251.2 L512.00,253.2 L512.00,255.2 L512.00,257.2 L512.00,259.2 L512.00,261.2 L511.75,263.2 L511.44,265.2 L511.18,267.2 L510.94,269.2 L510.72,271.2 L510.51,273.2 L510.31,275.2 L510.12,277.2 L509.94,279.2 L509.78,281.2 L509.62,283.2 L509.47,285.2 L509.33,287.2 L509.21,289.2 L509.09,291.2 L508.98,293.2 L508.89,295.2 L508.80,297.2 L508.73,299.2 L508.66,301.2 L508.61,303.2 L508.56,305.2 L508.53,307.2 L508.51,309.2 L508.50,311.2 L508.50,313.2 L508.51,315.2 L508.54,317.2 L508.57,319.2 L508.62,321.2 L508.67,323.2 L508.74,325.2 L508.82,327.2 L508.90,329.2 L509.00,331.2 L509.11,333.2 L509.23,335.2 L509.36,337.2 L509.50,339.2 L509.65,341.2 L509.81,343.2 L509.98,345.2 L510.16,347.2 L510.35,349.2 L510.55,351.2 L510.76,353.2 L510.99,355.2 L511.23,357.2 L511.50,359.2 L511.82,361.2 L512.00,363.2 L512.00,365.2 L512.00,367.2 L512.00,369.2 L512.00,371.2 L512.00,373.2 L512.00,375.2 L512.00,377.2 L512.00,379.2 L512.00,381.2 L512.00,383.2 L512.00,385.2 L512.00,387.2 L512.00,389.2 L512.00,391.2 L512.00,393.2 L512.00,395.2 L512.00,397.2 L512.00,399.2 L512.00,401.2 L512.00,402.8 H527.6 Z" fill="#00ff00"/>
<path d="M527.6,161.2 H515.30 L515.30,161.2 L515.30,163.2 L515.30,165.2 L515.30,167.2 L515.30,169.2 L515.30,171.2 L515.30,173.2 L515.30,175.2 L515.30,177.2 L515.30,179.2 L515.30,181.2 L515.30,183.2 L515.30,185.2 L515.30,187.2 L515.30,189.2 L515.30,191.2 L515.30,193.2 L515.30,195.2 L515.30,197.2 L515.30,199.2 L515.30,201.2 L515.30,203.2 L515.30,205.2 L515.30,207.2 L515.30,209.2 L515.30,211.2 L515.30,213.2 L515.30,215.2 L515.30,217.2 L515.30,219.2 L515.30,221.2 L515.30,223.2 L515.30,225.2 L515.30,227.2 L515.30,229.2 L515.30,231.2 L515.30,233.2 L515.30,235.2 L515.30,237.2 L515.30,239.2 L515.30,241.2 L515.30,243.2 L515.30,245.2 L515.30,247.2 L515.30,249.2 L515.30,251.2 L515.30,253.2 L515.30,255.2 L515.30,257.2 L515.30,259.2 L515.30,261.2 L515.12,263.2 L514.90,265.2 L514.72,267.2 L514.54,269.2 L514.38,271.2 L514.23,273.2 L514.09,275.2 L513.96,277.2 L513.83,279.2 L513.71,281.2 L513.60,283.2 L513.49,285.2 L513.40,287.2 L513.30,289.2 L513.22,291.2 L513.14,293.2 L513.08,295.2 L513.01,297.2 L512.96,299.2 L512.91,301.2 L512.88,303.2 L512.85,305.2 L512.82,307.2 L512.81,309.2 L512.80,311.2 L512.80,313.2 L512.81,315.2 L512.83,317.2 L512.85,319.2 L512.88,321.2 L512.92,323.2 L512.97,325.2 L513.03,327.2 L513.09,329.2 L513.16,331.2 L513.24,333.2 L513.32,335.2 L513.41,337.2 L513.51,339.2 L513.62,341.2 L513.73,343.2 L513.86,345.2 L513.98,347.2 L514.12,349.2 L514.26,351.2 L514.42,353.2 L514.58,355.2 L514.75,357.2 L514.94,359.2 L515.17,361.2 L515.30,363.2 L515.30,365.2 L515.30,367.2 L515.30,369.2 L515.30,371.2 L515.30,373.2 L515.30,375.2 L515.30,377.2 L515.30,379.2 L515.30,381.2 L515.30,383.2 L515.30,385.2 L515.30,387.2 L515.30,389.2 L515.30,391.2 L515.30,393.2 L515.30,395.2 L515.30,397.2 L515.30,399.2 L515.30,401.2 L515.30,402.8 H527.6 Z" fill="#00ff9a"/>
<path d="M527.6,161.2 H519.00 L519.00,161.2 L519.00,163.2 L519.00,165.2 L519.00,167.2 L519.00,169.2 L519.00,171.2 L519.00,173.2 L519.00,175.2 L519.00,177.2 L519.00,179.2 L519.00,181.2 L519.00,183.2 L519.00,185.2 L519.00,187.2 L519.00,189.2 L519.00,191.2 L519.00,193.2 L519.00,195.2 L519.00,197.2 L519.00,199.2 L519.00,201.2 L519.00,203.2 L519.00,205.2 L519.00,207.2 L519.00,209.2 L519.00,211.2 L519.00,213.2 L519.00,215.2 L519.00,217.2 L519.00,219.2 L519.00,221.2 L519.00,223.2 L519.00,225.2 L519.00,227.2 L519.00,229.2 L519.00,231.2 L519.00,233.2 L519.00,235.2 L519.00,237.2 L519.00,239.2 L519.00,241.2 L519.00,243.2 L519.00,245.2 L519.00,247.2 L519.00,249.2 L519.00,251.2 L519.00,253.2 L519.00,255.2 L519.00,257.2 L519.00,259.2 L519.00,261.2 L518.91,263.2 L518.81,265.2 L518.72,267.2 L518.64,269.2 L518.56,271.2 L518.49,273.2 L518.42,275.2 L518.36,277.2 L518.29,279.2 L518.24,281.2 L518.18,283.2 L518.13,285.2 L518.09,287.2 L518.04,289.2 L518.00,291.2 L517.97,293.2 L517.93,295.2 L517.90,297.2 L517.88,299.2 L517.86,301.2 L517.84,303.2 L517.82,305.2 L517.81,307.2 L517.80,309.2 L517.80,311.2 L517.80,313.2 L517.80,315.2 L517.81,317.2 L517.82,319.2 L517.84,321.2 L517.86,323.2 L517.88,325.2 L517.91,327.2 L517.94,329.2 L517.97,331.2 L518.01,333.2 L518.05,335.2 L518.10,337.2 L518.14,339.2 L518.19,341.2 L518.25,343.2 L518.31,345.2 L518.37,347.2 L518.43,349.2 L518.50,351.2 L518.58,353.2 L518.65,355.2 L518.74,357.2 L518.83,359.2 L518.94,361.2 L519.00,363.2 L519.00,365.2 L519.00,367.2 L519.00,369.2 L519.00,371.2 L519.00,373.2 L519.00,375.2 L519.00,377.2 L519.00,379.2 L519.00,381.2 L519.00,383.2 L519.00,385.2 L519.00,387.2 L519.00,389.2 L519.00,391.2 L519.00,393.2 L519.00,395.2 L519.00,397.2 L519.00,399.2 L519.00,401.2 L519.00,402.8 H527.6 Z" fill="#00ffff"/>
<path d="M527.6,161.2 H522.30 L522.30,161.2 L522.30,163.2 L522.30,165.2 L522.30,167.2 L522.30,169.2 L522.30,171.2 L522.30,173.2 L522.30,175.2 L522.30,177.2 L522.30,179.2 L522.30,181.2 L522.30,183.2 L522.30,185.2 L522.30,187.2 L522.30,189.2 L522.30,191.2 L522.30,193.2 L522.30,195.2 L522.30,197.2 L522.30,199.2 L522.30,201.2 L522.30,203.2 L522.30,205.2 L522.30,207.2 L522.30,209.2 L522.30,211.2 L522.30,213.2 L522.30,215.2 L522.30,217.2 L522.30,219.2 L522.30,221.2 L522.30,223.2 L522.30,225.2 L522.30,227.2 L522.30,229.2 L522.30,231.2 L522.30,233.2 L522.30,235.2 L522.30,237.2 L522.30,239.2 L522.30,241.2 L522.30,243.2 L522.30,245.2 L522.30,247.2 L522.30,249.2 L522.30,251.2 L522.30,253.2 L522.30,255.2 L522.30,257.2 L522.30,259.2 L522.30,261.2 L522.26,263.2 L522.22,265.2 L522.18,267.2 L522.15,269.2 L522.12,271.2 L522.09,273.2 L522.06,275.2 L522.03,277.2 L522.01,279.2 L521.98,281.2 L521.96,283.2 L521.94,285.2 L521.92,287.2 L521.90,289.2 L521.88,291.2 L521.87,293.2 L521.86,295.2 L521.84,297.2 L521.83,299.2 L521.82,301.2 L521.82,303.2 L521.81,305.2 L521.80,307.2 L521.80,309.2 L521.80,311.2 L521.80,313.2 L521.80,315.2 L521.81,317.2 L521.81,319.2 L521.82,321.2 L521.82,323.2 L521.83,325.2 L521.85,327.2 L521.86,329.2 L521.87,331.2 L521.89,333.2 L521.90,335.2 L521.92,337.2 L521.94,339.2 L521.96,341.2 L521.99,343.2 L522.01,345.2 L522.04,347.2 L522.06,349.2 L522.09,351.2 L522.12,353.2 L522.16,355.2 L522.19,357.2 L522.23,359.2 L522.27,361.2 L522.30,363.2 L522.30,365.2 L522.30,367.2 L522.30,369.2 L522.30,371.2 L522.30,373.2 L522.30,375.2 L522.30,377.2 L522.30,379.2 L522.30,381.2 L522.30,383.2 L522.30,385.2 L522.30,387.2 L522.30,389.2 L522.30,391.2 L522.30,393.2 L522.30,395.2 L522.30,397.2 L522.30,399.2 L522.30,401.2 L522.30,402.8 H527.6 Z" fill="#0090ff"/>
<path d="M527.6,161.2 H524.70 L524.70,161.2 L524.70,163.2 L524.70,165.2 L524.70,167.2 L524.70,169.2 L524.70,171.2 L524.70,173.2 L524.70,175.2 L524.70,177.2 L524.70,179.2 L524.70,181.2 L524.70,183.2 L524.70,185.2 L524.70,187.2 L524.70,189.2 L524.70,191.2 L524.70,193.2 L524.70,195.2 L524.70,197.2 L524.70,199.2 L524.70,201.2 L524.70,203.2 L524.70,205.2 L524.70,207.2 L524.70,209.2 L524.70,211.2 L524.70,213.2 L524.70,215.2 L524.70,217.2 L524.70,219.2 L524.70,221.2 L524.70,223.2 L524.70,225.2 L524.70,227.2 L524.70,229.2 L524.70,231.2 L524.70,233.2 L524.70,235.2 L524.70,237.2 L524.70,239.2 L524.70,241.2 L524.70,243.2 L524.70,245.2 L524.70,247.2 L524.70,249.2 L524.70,251.2 L524.70,253.2 L524.70,255.2 L524.70,257.2 L524.70,259.2 L524.70,261.2 L524.69,263.2 L524.67,265.2 L524.65,267.2 L524.64,269.2 L524.63,271.2 L524.61,273.2 L524.60,275.2 L524.59,277.2 L524.58,279.2 L524.57,281.2 L524.56,283.2 L524.56,285.2 L524.55,287.2 L524.54,289.2 L524.53,291.2 L524.53,293.2 L524.52,295.2 L524.52,297.2 L524.51,299.2 L524.51,301.2 L524.51,303.2 L524.50,305.2 L524.50,307.2 L524.50,309.2 L524.50,311.2 L524.50,313.2 L524.50,315.2 L524.50,317.2 L524.50,319.2 L524.51,321.2 L524.51,323.2 L524.51,325.2 L524.52,327.2 L524.52,329.2 L524.53,331.2 L524.53,333.2 L524.54,335.2 L524.55,337.2 L524.56,339.2 L524.57,341.2 L524.57,343.2 L524.58,345.2 L524.59,347.2 L524.61,349.2 L524.62,351.2 L524.63,353.2 L524.64,355.2 L524.66,357.2 L524.67,359.2 L524.69,361.2 L524.70,363.2 L524.70,365.2 L524.70,367.2 L524.70,369.2 L524.70,371.2 L524.70,373.2 L524.70,375.2 L524.70,377.2 L524.70,379.2 L524.70,381.2 L524.70,383.2 L524.70,385.2 L524.70,387.2 L524.70,389.2 L524.70,391.2 L524.70,393.2 L524.70,395.2 L524.70,397.2 L524.70,399.2 L524.70,401.2 L524.70,402.8 H527.6 Z" fill="#0000ff"/>
<path d="M500.3,161.2 V402.8" stroke="#700" stroke-width="0.8"/>
<path d="M527.4,161.2 V402.8" stroke="#000060" stroke-width="0.5"/>
<path d="M448,282.2 H500.3 V357 A54.7,54.7 0 0 0 448,302.4 Z" fill="#ff0000"/>
<path d="M499.8,286 Q490,298 490.6,312 Q491.5,326 499.8,337 Z" fill="#ffa000"/>
<path d="M499.8,293 Q495.5,303 495.8,313 Q496.5,323 499.8,330 Z" fill="#ffd400" opacity="0.8"/>
<path d="M448,296 A54.5,54.5 0 0 1 500,350.4" fill="none" stroke="#300" stroke-width="0.9"/>
<path d="M499.6,282.2 V352" stroke="#333" stroke-width="0.5"/>
<path d="M448,282.2 H500.3" stroke="#111" stroke-width="1"/>
<path d="M450.8,281 V265 H458.4 M447.5,273 H454.1 L450.8,279.5 Z" stroke="#333" stroke-width="0.6" fill="none"/>
<path d="M500.5,170 V185.2 H506.4 Z" fill="#fff" stroke="#777" stroke-width="0.4"/>
<path d="M506.4,185.2 H527.6 V233.2 Z" fill="#fff"/>
<path d="M509.5,185.2 V192.2 M512.7,185.2 V199.5 M515.9,185.2 V206.7 M519.1,185.2 V214.0 M522.3,185.2 V221.2 M525.5,185.2 V228.4" stroke="#aaa" stroke-width="0.4"/>
<path d="M500.3,185.2 H527.6 M506.4,185.2 L527.6,233.2 M527.6,185.2 V233.2" stroke="#222" stroke-width="0.5" fill="none"/>
<text x="309.6" y="136.6" font-size="12.6" fill="#2e2e2e" text-anchor="start" textLength="204.80" lengthAdjust="spacingAndGlyphs" >Temperature fields of the arcaded walk’s perimeter wall</text>
<text x="379.3" y="186.2" font-size="8.4" fill="#2a2a2a" text-anchor="end" textLength="16.49" lengthAdjust="spacingAndGlyphs" >-6,1°C</text>
<text x="379.3" y="198.1" font-size="8.4" fill="#2a2a2a" text-anchor="end" textLength="16.49" lengthAdjust="spacingAndGlyphs" >-3,9°C</text>
<text x="378.6" y="209.3" font-size="8.4" fill="#2a2a2a" text-anchor="end" textLength="16.49" lengthAdjust="spacingAndGlyphs" >-1,7°C</text>
<text x="378.6" y="219.8" font-size="8.4" fill="#2a2a2a" text-anchor="end" textLength="17.94" lengthAdjust="spacingAndGlyphs" >+0,6°C</text>
<text x="370.9" y="229.6" font-size="8.4" fill="#2a2a2a" text-anchor="end" textLength="17.94" lengthAdjust="spacingAndGlyphs" >+2,8°C</text>
<text x="361.8" y="237.3" font-size="8.4" fill="#2a2a2a" text-anchor="end" textLength="13.11" lengthAdjust="spacingAndGlyphs" >+5°C</text>
<g stroke="#222" stroke-width="0.5" fill="none">
<path d="M380,183 h2.5 l6,15 M380,195 h2.5 l4.5,15 M379.5,206 h2 l4,12 M379.5,216.5 h2 l3,11 M371.5,226.5 h5 l5,16 M362.5,234 h3 l4,11"/>
<path d="M397.5,184.5 h-1.5 l-4,13 M397.5,195 h-1.5 l-3,11 M397.5,205.5 h-1.5 l-3,9 M397.5,218 h-1.5 l-2,6"/>
</g>
<text x="398.9" y="187.6" font-size="8.4" fill="#2a2a2a" text-anchor="start" textLength="16.49" lengthAdjust="spacingAndGlyphs" >-8,3°C</text>
<text x="398.9" y="198.1" font-size="8.4" fill="#2a2a2a" text-anchor="start" textLength="19.71" lengthAdjust="spacingAndGlyphs" >-10,6°C</text>
<text x="398.9" y="208.6" font-size="8.4" fill="#2a2a2a" text-anchor="start" textLength="19.71" lengthAdjust="spacingAndGlyphs" >-12,8°C</text>
<text x="398.9" y="221.2" font-size="8.4" fill="#2a2a2a" text-anchor="start" textLength="14.88" lengthAdjust="spacingAndGlyphs" >-15°C</text>
<text x="0" y="0" font-size="8.6" fill="#2a2a2a" text-anchor="middle" transform="translate(381.9,286.75) scale(0.74,1) rotate(-90)">+5°C</text>
<text x="0" y="0" font-size="8.6" fill="#2a2a2a" text-anchor="middle" transform="translate(400.9,298) scale(0.74,1) rotate(-90)">-15°C</text>
<text x="490.2" y="243.8" font-size="8.4" fill="#2a2a2a" text-anchor="end" textLength="16.49" lengthAdjust="spacingAndGlyphs" >-3,9°C</text>
<text x="493" y="260.75" font-size="8.4" fill="#2a2a2a" text-anchor="end" textLength="16.49" lengthAdjust="spacingAndGlyphs" >-1,7°C</text>
<text x="491.2" y="274.4" font-size="8.4" fill="#2a2a2a" text-anchor="end" textLength="17.94" lengthAdjust="spacingAndGlyphs" >+0,6°C</text>
<text x="482.6" y="345.6" font-size="8.4" fill="#2a2a2a" text-anchor="end" textLength="17.94" lengthAdjust="spacingAndGlyphs" >+2,8°C</text>
<text x="496" y="379.5" font-size="8.4" fill="#2a2a2a" text-anchor="end" textLength="16.49" lengthAdjust="spacingAndGlyphs" >-6,1°C</text>
<text x="443" y="258" font-size="8.4" fill="#2a2a2a" text-anchor="start" textLength="13.11" lengthAdjust="spacingAndGlyphs" >+5°C</text>
<text x="535.5" y="256.2" font-size="8.4" fill="#2a2a2a" text-anchor="start" textLength="16.49" lengthAdjust="spacingAndGlyphs" >-8,3°C</text>
<text x="535.5" y="281.4" font-size="8.4" fill="#2a2a2a" text-anchor="start" textLength="19.71" lengthAdjust="spacingAndGlyphs" >-10,6°C</text>
<text x="535.5" y="313.6" font-size="8.4" fill="#2a2a2a" text-anchor="start" textLength="14.88" lengthAdjust="spacingAndGlyphs" >-15°C</text>
<text x="535.5" y="343" font-size="8.4" fill="#2a2a2a" text-anchor="start" textLength="19.71" lengthAdjust="spacingAndGlyphs" >-12,8°C</text>
<g stroke="#222" stroke-width="0.5" fill="none">
<path d="M490.5,239.6 h2.5 l19,24 M493.5,257 h1.8 l6,16 M491.5,271.3 h2 l4,10 M483,342.5 h2.5 l2,-10 M496.5,377 h3 l12,7 M458,255.5 h2 l4,22"/>
<path d="M534,254 h-2 l-8,14 M534,279 h-2 l-8,12 M534,311 h-2 l-5,8 M534,340.5 h-2 l-4,5"/>
</g>
<text x="0" y="0" font-size="8.6" fill="#2a2a2a" text-anchor="middle" transform="translate(497.9,180.4) scale(0.74,1) rotate(-90)">+5°C</text>
<text x="0" y="0" font-size="8.6" fill="#2a2a2a" text-anchor="middle" transform="translate(535.7,222.5) scale(0.74,1) rotate(-90)">-15°C</text>
</g>
<g id="legend">
<rect x="196.5" y="418" width="8" height="5.5" fill="#4ab4e4"/>
<text x="207.2" y="423.2" font-size="6.9" fill="#333" textLength="16.8" lengthAdjust="spacingAndGlyphs">Humidity</text>
<rect x="241.9" y="418" width="8" height="5.5" fill="#8a67a8"/>
<text x="252.5" y="423.2" font-size="6.9" fill="#333" textLength="11" lengthAdjust="spacingAndGlyphs">Holes</text>
<path d="M290.6,424 V419.5 M290.6,419.5 Q289.5,417 288,415.8 M290.6,419.5 Q291.5,417 293.2,415.8 M290.6,420 Q290,418 290.3,416" stroke="#3aa63a" stroke-width="1.1" fill="none"/>
<text x="297.9" y="423.2" font-size="6.9" fill="#333" textLength="20.8" lengthAdjust="spacingAndGlyphs">Vegetation</text>
<rect x="196.5" y="438" width="8" height="5.5" fill="#f8cfae"/>
<text x="207.2" y="437.8" font-size="6.9" fill="#333" textLength="28.8" lengthAdjust="spacingAndGlyphs">Former repairs</text>
<text x="207.2" y="445.8" font-size="6.9" fill="#333" textLength="31.5" lengthAdjust="spacingAndGlyphs">(different mortar)</text>
<rect x="241.9" y="438" width="8" height="5.5" fill="#e6a6ee"/>
<text x="252.5" y="442.8" font-size="6.9" fill="#333" textLength="33.5" lengthAdjust="spacingAndGlyphs">Salt efflorescence</text>
<path d="M286.7,440.3 h8" stroke="#c4484a" stroke-width="1.1"/>
<text x="298" y="437.8" font-size="6.9" fill="#333" textLength="14" lengthAdjust="spacingAndGlyphs">Cracks</text>
<text x="298" y="445.8" font-size="6.9" fill="#333" textLength="20.7" lengthAdjust="spacingAndGlyphs">(thickness)</text>
<rect x="196.5" y="456" width="8" height="5.5" fill="#f0a24e"/>
<text x="207.2" y="457.3" font-size="6.9" fill="#333" textLength="15.5" lengthAdjust="spacingAndGlyphs">Material</text>
<text x="207.2" y="465.3" font-size="6.9" fill="#333" textLength="23" lengthAdjust="spacingAndGlyphs">degradation</text>
<rect x="241.9" y="456" width="8" height="5.5" fill="#44c044"/>
<text x="252.5" y="460.8" font-size="6.9" fill="#333" textLength="12.8" lengthAdjust="spacingAndGlyphs">Biofilm</text>
<path d="M286.7,458.7 h8" stroke="#c4484a" stroke-width="1.1"/>
<text x="298" y="457.3" font-size="6.9" fill="#333" textLength="13.2" lengthAdjust="spacingAndGlyphs">Former</text>
<text x="298" y="465.3" font-size="6.9" fill="#333" textLength="28.7" lengthAdjust="spacingAndGlyphs">repaired cracks</text>
</g>
</svg>
</body></html>
